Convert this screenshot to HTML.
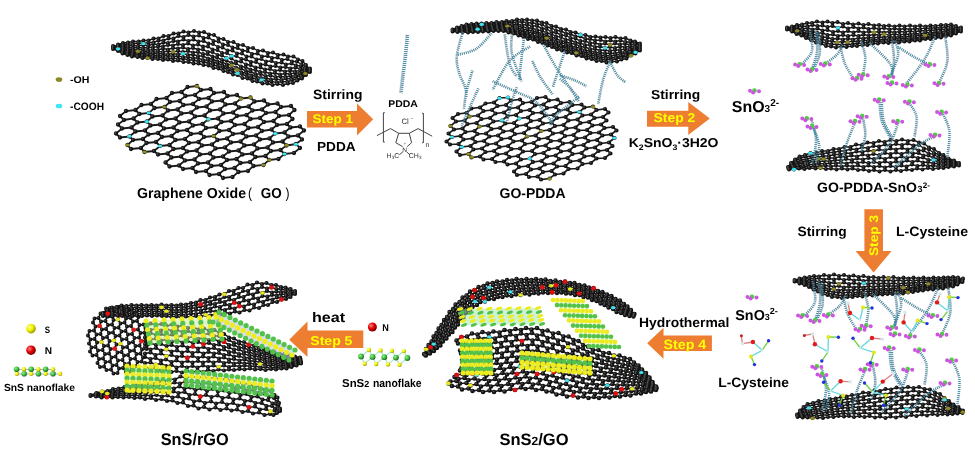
<!DOCTYPE html>
<html><head><meta charset="utf-8"><style>
html,body{margin:0;padding:0;background:#fff;width:975px;height:459px;overflow:hidden}
svg{display:block;filter:blur(0.45px);text-rendering:geometricPrecision;font-family:"Liberation Sans",sans-serif}
</style></head><body>
<svg width="975" height="459" viewBox="0 0 975 459">
<rect width="975" height="459" fill="#fff"/>
<g transform="scale(.5)" fill="none" stroke-linecap="round"><path d="M244 257l-12 10l8 8l19-2l7 7l-11 10l7 8l20-2l7 8l19-2l8 7l19-2l8 8l-12 10l8 8l19-2l8 7l19-2l7 8l20-2l7 8l19-2l8 8l19-2l12-10l-8-8l-19 2l-12 10m-194-91l-8-8l12-9l-8-8l12-10l19-2l8 8l-12 9l-19 3m-4 17l19-2l8 8l-12 10m4-18l12-10l-8-8m-1 43l20-2l7 8l-11 10m-11-76l12-10l19-2l7 8l-11 10l-19 2m-8 35l19-2l7 8l-11 9m-11-33l19-2l7 8l-11 10m3 25l19-2l8 8l-12 10m-14-59l11-10l-7-7m-1 43l19-3l8 8l-12 10m-11-33l19-2l8 8l-12 9m-14-58l11-10l20-2l7 8l-11 10l-20 2m-4 17l20-2l7 8l-12 10m0 43l19-2l8 8l-12 9m-11-33l19-2l8 8l-12 10m-14-59l11-10l-7-7m-1 43l19-2l8 7l-12 10m-11-33l19-2l8 8l-12 10m-14-59l11-10l19-2l8 8l-12 10l-19 2m-4 17l19-2l8 8l-12 10m-8 78l19-2l8 8l-12 10m-11-33l19-2l8 7l-12 10m-11-33l19-2l8 8l-12 10m-11-77l12-9l-8-8m-4 60l19-2l8 8l-12 10m-11-33l19-2l8 8l-12 9m-11-76l12-10l19-2l8 8l-12 10l-19 2m-8 35l19-2l8 8l-12 10m-11-33l19-2l8 7l-12 10m-12 96l19-2l7 8l-11 9m-11-33l19-2l7 8l-11 10m-11-33l19-2l7 7l-11 10m-11-33l19-2l7 8l-11 10m-11-76l12-10l-8-8m-4 61l19-3l7 8l-11 10m-11-33l19-2l7 8l-11 9m-11-33l19-2l7 8l-11 10m-13 96l20-2l7 7l-11 10m-14-144l19-2l7 7l-11 10m-13 96l20-2l7 8l-11 10m-14-145l19-2l7 8l-11 10m-13 95l20-2l7 8l-11 10m-12-33l20-2l7 8l-11 9m-12-33l20-2l7 8l-11 10m-12-33l20-2l7 7l-11 10m-12-33l20-2l7 8l-11 10m-13 95l19-2l8 8m-26-135l20-2l7 8l-11 10m-13 96l19-2l8 7l-12 10m-14-144l20-2l7 8l-11 9m-13 96l19-2l8 8l-12 10m-11-33l19-3l8 8l-12 10m-11-33l19-2l8 8l-12 9m-11-33l19-2l8 8l-12 10m-11-33l19-2l8 7l-12 10m-11-33l19-2l8 8l-12 10m-12 95l19-2l8 8l-12 10m-14-144l19-2l8 7l-12 10m-12 96l19-2l8 8l-12 9m-11-33l19-2l8 8l-12 10m-11-33l19-2l8 7l-12 10m-11-33l19-2l8 8l-12 10m-11-34l19-2l8 8l-12 10m-12 96l19-2l11-10l-7-8l-19 2m-3-111l19-2l8 8l-12 9m-11-33l19-2l8 8l-12 10m-12 96l19-2l7 7l-11 10m-11-33l19-2l7 8l-11 10m-11-34l19-2l8 8l-12 10m-11-33l19-2l8 8l-12 9m-11-33l19-2l8 8l-12 10m-11-33l19-2l8 7l-12 10m-13 96l20-2l11-10l-7-8l-20 2m-2-111l19-2l8 8l-12 10m-9 78l20-2l7 7l-11 10m-11-33l19-2l7 8l-11 10m-11-33l19-3l7 8l-11 10m-11-33l19-2l7 8l-11 9m-11-33l19-2l7 8l-11 10m-11-33l19-2l7 7l-11 10m-13 96l19-2l12-10l-8-8l-19 2m4-17l19-2l8 8l-12 9m-11-33l19-2l8 8l-12 10m-11-33l20-2l7 7l-12 10m-11-33l20-2l7 8l-11 10m-12-34l20-2l7 8l-11 10m-9 78l19-2l12-10l-8-8l-19 3m4-18l19-2l8 8l-12 9m-11-33l19-2l8 8l-12 10" stroke="#1a1a1a" stroke-width="3.6" stroke-linecap="butt"/><path d="M394 172h0m-19 2h0m46 4h0m-58 6h0m39-4h0m46 4h0m-104 2h0m46 4h0m38-4h0m46 4h0m-141 6h0m38-4h0m46 4h0m38-4h0m27 5h0m19-2h0m-188 3h0m46 4h0m39-4h0m26 5h0m20-2h0m65 2h0m19-2h0m-226 7h0m38-4h0m46 4h0m65 1h0m19-2h0m66 2h0m19-2h0m-272 3h0m46 4h0m38-4h0m27 5h0m19-2h0m65 2h0m19-2h0m65 1h0m20-2h0m-311 8h0m38-4h0m27 5h0m19-2h0m65 2h0m20-2h0m65 2h0m19-2h0m65 1h0m-337 2h0m46 4h0m65 1h0m19-2h0m65 2h0m19-2h0m66 1h0m19-2h0m-311 8h0m39-4h0m26 5h0m20-2h0m65 2h0m19-2h0m65 1h0m19-2h0m65 2h0m20-2h0m-311 7h0m65 2h0m19-2h0m65 2h0m20-2h0m65 1h0m19-2h0m65 2h0m-337 2h0m27 5h0m19-2h0m65 2h0m19-2h0m65 1h0m19-2h0m66 2h0m19-2h0m-311 7h0m65 2h0m19-2h0m66 2h0m19-3h0m65 2h0m19-2h0m65 2h0m20-2h0m-330 9h0m19-2h0m65 2h0m19-2h0m65 1h0m20-2h0m65 2h0m19-2h0m65 1h0m19-2h0m-329 10h0m19-2h0m65 1h0m19-2h0m65 2h0m19-2h0m66 2h0m19-3h0m65 2h0m-376 6h0m65 2h0m19-3h0m66 2h0m19-2h0m65 2h0m19-2h0m65 1h0m19-2h0m-329 10h0m19-2h0m65 1h0m19-2h0m65 2h0m20-2h0m65 1h0m19-2h0m65 2h0m19-2h0m-330 9h0m20-2h0m65 2h0m19-2h0m65 2h0m19-3h0m66 2h0m19-2h0m65 2h0m-311 7h0m19-2h0m66 2h0m19-2h0m65 1h0m19-2h0m65 2h0m19-2h0m-310 7h0m65 2h0m19-2h0m65 1h0m20-2h0m65 2h0m19-2h0m65 2h0m19-3h0m-330 10h0m20-2h0m65 2h0m19-2h0m65 1h0m19-2h0m65 2h0m20-2h0m65 1h0m-311 8h0m19-2h0m66 1h0m19-2h0m65 2h0m19-2h0m65 1h0m19-2h0m-245 9h0m19-2h0m65 2h0m20-2h0m65 2h0m19-2h0m65 1h0m19-2h0m-245 9h0m19-2h0m65 2h0m19-2h0m65 1h0m20-2h0m-161 9h0m19-2h0m65 1h0m19-2h0m65 2h0m19-2h0m-226 7h0m65 2h0m20-2h0m65 1h0m19-2h0m-161 9h0m19-2h0m65 1h0m19-2h0m65 2h0m20-2h0m-161 8h0m19-2h0m65 2h0m19-2h0m-77 8h0m20-2h0m65 2h0m19-2h0m-77 8h0m19-2h0m8 8h0m19-2h0" stroke="#111" stroke-width="8.6"/><path d="M393 171h0m-19 2h0m46 4h0m-58 6h0m39-4h0m46 4h0m-104 2h0m46 4h0m38-4h0m46 4h0m-141 6h0m38-4h0m46 4h0m38-4h0m27 5h0m19-2h0m-188 3h0m46 4h0m39-4h0m26 5h0m20-2h0m65 2h0m19-2h0m-226 7h0m38-4h0m46 4h0m65 1h0m19-2h0m66 2h0m19-2h0m-272 3h0m46 4h0m38-4h0m27 5h0m19-2h0m65 2h0m19-2h0m65 1h0m20-2h0m-311 8h0m38-4h0m27 5h0m19-2h0m65 2h0m20-2h0m65 2h0m19-2h0m65 1h0m-337 2h0m46 4h0m65 1h0m19-2h0m65 2h0m19-2h0m66 1h0m19-2h0m-311 8h0m39-4h0m26 5h0m20-2h0m65 2h0m19-2h0m65 1h0m19-2h0m65 2h0m20-2h0m-311 7h0m65 2h0m19-2h0m65 2h0m20-2h0m65 1h0m19-2h0m65 2h0m-337 2h0m27 5h0m19-2h0m65 2h0m19-2h0m65 1h0m19-2h0m66 2h0m19-2h0m-311 7h0m65 2h0m19-2h0m66 2h0m19-3h0m65 2h0m19-2h0m65 2h0m20-2h0m-330 9h0m19-2h0m65 2h0m19-2h0m65 1h0m20-2h0m65 2h0m19-2h0m65 1h0m19-2h0m-329 10h0m19-2h0m65 1h0m19-2h0m65 2h0m19-2h0m66 2h0m19-3h0m65 2h0m-376 6h0m65 2h0m19-3h0m66 2h0m19-2h0m65 2h0m19-2h0m65 1h0m19-2h0m-329 10h0m19-2h0m65 1h0m19-2h0m65 2h0m20-2h0m65 1h0m19-2h0m65 2h0m19-2h0m-330 9h0m20-2h0m65 2h0m19-2h0m65 2h0m19-3h0m66 2h0m19-2h0m65 2h0m-311 7h0m19-2h0m66 2h0m19-2h0m65 1h0m19-2h0m65 2h0m19-2h0m-310 7h0m65 2h0m19-2h0m65 1h0m20-2h0m65 2h0m19-2h0m65 2h0m19-3h0m-330 10h0m20-2h0m65 2h0m19-2h0m65 1h0m19-2h0m65 2h0m20-2h0m65 1h0m-311 8h0m19-2h0m66 1h0m19-2h0m65 2h0m19-2h0m65 1h0m19-2h0m-245 9h0m19-2h0m65 2h0m20-2h0m65 2h0m19-2h0m65 1h0m19-2h0m-245 9h0m19-2h0m65 2h0m19-2h0m65 1h0m20-2h0m-161 9h0m19-2h0m65 1h0m19-2h0m65 2h0m19-2h0m-226 7h0m65 2h0m20-2h0m65 1h0m19-2h0m-161 9h0m19-2h0m65 1h0m19-2h0m65 2h0m20-2h0m-161 8h0m19-2h0m65 2h0m19-2h0m-77 8h0m20-2h0m65 2h0m19-2h0m-77 8h0m19-2h0m8 8h0m19-2h0" stroke="#4a4a4a" stroke-width="3.6"/></g>
<ellipse cx="164.3" cy="106.9" rx="2.2" ry="1.5" fill="#8f8a25"/><ellipse cx="250.6" cy="97.6" rx="2.2" ry="1.5" fill="#8f8a25"/><ellipse cx="286.5" cy="145.3" rx="2.2" ry="1.5" fill="#8f8a25"/><ellipse cx="263.3" cy="164.9" rx="2.2" ry="1.5" fill="#8f8a25"/><ellipse cx="127.4" cy="145.1" rx="2.2" ry="1.5" fill="#8f8a25"/><ellipse cx="197.1" cy="86.2" rx="2.2" ry="1.5" fill="#8f8a25"/><ellipse cx="144.6" cy="151.9" rx="2.2" ry="1.5" fill="#8f8a25"/><ellipse cx="241" cy="98.7" rx="2.2" ry="1.5" fill="#8f8a25"/><ellipse cx="269.1" cy="160" rx="2.2" ry="1.5" fill="#8f8a25"/><ellipse cx="213.8" cy="135.9" rx="2.2" ry="1.5" fill="#8f8a25"/>
<ellipse cx="129.4" cy="136.3" rx="2.2" ry="1.5" fill="#3fe3f0"/><ellipse cx="146.9" cy="121.6" rx="2.2" ry="1.5" fill="#3fe3f0"/><ellipse cx="148.9" cy="112.8" rx="2.2" ry="1.5" fill="#3fe3f0"/><ellipse cx="208.2" cy="119.3" rx="2.2" ry="1.5" fill="#3fe3f0"/><ellipse cx="296.1" cy="144.2" rx="2.2" ry="1.5" fill="#3fe3f0"/><ellipse cx="160" cy="145.9" rx="2.2" ry="1.5" fill="#3fe3f0"/><ellipse cx="275.2" cy="133.6" rx="2.2" ry="1.5" fill="#3fe3f0"/><ellipse cx="284.5" cy="154.1" rx="2.2" ry="1.5" fill="#3fe3f0"/>
<g transform="scale(.5)" fill="none" stroke-linecap="round"><path d="M236 91l-10 1l0 1l10 0l0 1l-10 0l0 1l10 2l0 1l-10-2l0 1l10 2l0 1l-10-3l0 1l10 4l0 0l9 5l10 3l0-2l-10-3l-9-3m0-11l0-2l10-3l10-1l0 3l-10 2l-10 1m0 2l10-1l0-2m-10 4l10 1l0 2l-10 0m0 1l10 2l0 1l-10-2m0 1l9 4l0 1m0-1l10 1l1-1l-10-3m0-9l10 0l0 3l-10 0m0 2l10 2l0 2l-10-1m9 5l10 3l0 2l-10-2m0 2l9 3l11 1l0-2l-10-2m-9-25l10-2l11 0l0 3l-11 2l-10 0m0 4l10-1l0-3m-10 7l10 1l0 3l-10 0m0 2l10 2l0 2l-10-1m9 4l10 0l0-1l-9-2m0-14l10 1l0 3l-10 1m0 3l10 1l0 3l-10 0m9 4l11-1l0-2l-10-1m-1 5l10 2l0 2l-10 0m0 2l10 2l10 0l0-2l-10-2m-9-20l11-2l0-3l-10-1m-1 9l10 1l0 3l-10 1m1-17l10-2l10 0l0 4l-10 2m-2 23l10 0l1-2l-10-2m0-10l10-1l1-4l-10-1m-1 9l10 2l0 2l-10 1m9 6l11 2l-1 2l-10 0m0 2l10 2l11 0l0-3l-11-1m-9-19l10 0l0 4l-10 2m0 2l10 2l0 2l-10 1m1-27l10-4l10 0l0 4l-10 4l-10 0m0 6l10-3l0-3m-1 10l10-2l1-4l-10-1m-1 11l10 1l0 3l-10 2m0 2l10 1l0 3l-10 1m10-19l10 0l0 4l-10 3m0 3l10 1l0 3l-10 1m0 3l10 1l0 3l-10 0m0 3l10 2l10-1l0-2l-10-2m-9-38l10-5l10 0l0 5l-10 4l-10 0m0 8l10-4l0-4m-1 12l10-3l0-4l-9-1m-1 12l10 2l0 3l-10 2m0 3l10 2l0 2l-10 1m10-26l11-4l0-5l-10 0m-1 13l10 1l0 5l-10 3m0 3l10 2l0 3l-10 2m0 2l10 2l0 3l-10 1m0 2l10 3l10-1l0-3l-10-2m-9-44l10-5l10 0l0 5l-10 5m-1 14l10-3l0-5l-9-1m-1 14l10 1l0 5l-10 2m0 3l10 2l0 3l-10 1m10-30l11-4l0-5l-10-2m-1 16l10 2l0 5l-10 2m0 5l10 2l0 3l-10 2m0 3l10 2l0 3l-10 1m0 3l11 3l10 0l0-4l-11-3m-9-50l10-4l10 2l0 5l-10 4m-1 16l10-3l1-5l-10-3m-1 16l10 3l0 4l-10 2m0 3l10 3l0 4l-10 0m10-27l10 4l0 5l-10 2m0 4l10 3l0 4l-10 1m0 4l10 2l1 4l-10 0m0-55l11-3l10 3l0 6l-11 2l-10-3m0 12l10-3l0-6m-10 51l10 3l10 0l0-4l-10-3m-1-29l10-2l1-6l-10-4m-1 17l10 3l0 5l-10 1m0 4l10 3l0 4l-10 0m10-27l10 4l0 6l-10 0m0 5l10 4l0 4l-10 0m0 4l10 4l1 3l-10 0m0-40l10-1l0-6l-9-5m-1 56l10 3l10 1l0-4l-10-4m-9-58l10-1l10 5l-1 6l-10 1m-1 17l10 0l1-6l-10-5m-1 17l10 5l-1 4l-9 0m0 4l10 5l0 3l-10 0m9-12l10 5l0 5l-9-1m0-24l9 6l0 5l-9 0m0 16l10 5l0 4l-9-2m0-52l10 7l-1 6l-9-1m0 44l10 5l10 1l-1-4l-10-4m-8-60l10 1l9 7l0 6l-10-1m-2 17l10 1l1-6l-10-6m-1 16l10 6l-1 5l-9-2m0 5l10 5l0 3l-9-1m8-10l10 5l0 4l-9-1m0-23l9 6l0 5l-9-1m0 16l10 5l1 4l-10-2m0-39l9 1l1-6l-9-6m0-6l10 1l9 6l0 6l-10-1m-9 48l10 5l9 2l0-4l-10-5m-2-29l10 0l1-5l-10-6m-1 16l9 5l0 5l-9-1m0 4l10 5l0 4l-9-2m8-15l10 1l0-5l-9-6m-1 15l10 5l0 4l-9-1m0 4l10 5l1 4l-9-2m-1-39l10 0l0-6l-9-5m0-6l11 0l9 6l-1 6l-10-1m-9 49l10 5l9 1l0-3l-10-5m-2-30l10 0l1-5l-9-6m-2 16l9 6l0 4l-9-1m0 4l10 6l1 3l-10-1m8-15l10 0l1-5l-10-6m-1 15l10 6l0 4l-9-1m1-29l10 0l1-6l-10-5m-1 43l9 6l1 3l-9-1m0 3l10 6l10 1l-1-4l-10-5m-8-58l10 0l10 6l-1 6l-10-1m-3 22l10 6l-1 5l-9-1m0 4l10 5l1 4l-10-1m0-27l9 1l1-6l-9-6m7 27l10 5l0 4l-9-1m0-23l10 5l-1 6l-9-1m1-16l10 0l1-5l-9-6m-2 44l10 5l0 4l-9-2m1 4l10 5l9 1l0-4l-11-4m-7-59l10 0l10 6l-1 5l-11 1m-3 22l10 5l0 5l-10-1m0 4l10 5l1 4l-9-1m-1-27l10 0l1-5l-10-6m8 22l10 0l0-6l-9-5m-1 16l9 4l1 4l-10 0m1 4l10 4l1 4l-9-1m-1-40l10-1l1-5l-9-6m-1 56l11 4l10 0l-1-4l-11-3m-7-58l10-1l10 5l-1 6l-11 1m-4 31l10 0l0-5l-9-4m0-6l10 0l1-6l-9-5m-2 30l10 4l1 4l-10 0m8-17l10-1l1-5l-10-4m-1 15l10 3l1 4l-10 1m1-29l11-1l1-6l-9-4m-3 44l10 3l1 4l-9 0m1 4l10 3l10-2l-1-3l-11-2m-7-57l10-1l10 5l-1 5l-11 1m-4 22l10 4l0 4l-10 1m1-14l10-1l1-6l-9-4m-2 29l10 3l1 4l-10 1m8-17l10-2l1-5l-10-3m-1 14l10 3l1 4l-10 1m1-28l11-1l1-5l-9-5m-3 43l11 2l1 3l-10 2m1 3l11 2l10-3l-1-3l-11-1m-8-53l11-1l9 4l-1 5l-11 2m-4 20l10 3l0 4l-10 2m1-14l10-1l1-5l-9-4m-2 28l10 1l1 3l-9 3m7-17l10-2l1-4l-10-3m-1 13l10 1l1 4l-10 2m1-25l11-2l1-4l-9-5m-3 39l11 1l1 2l-9 4m1-51l11 0l9 6l-2 4l-10 0m-8 44l10-1l9-5l-1-2l-10 1m-4-19l10 2l0 3l-10 2m1-11l10-2l1-4l-9-4m-2 25l10 0l1 2l-9 4m7-15l10-2l1-3l-10-3m-1 11l10 0l0 2l-9 4m1-21l10 1l1-3l-9-6m-2 31l10-2l1 2l-9 5m1 2l9-4l8-7l0-1l-9 5m-7-35l9 3l7 8l0 2l-9-3m-3 12l10 0l0 2l-10 3m0 2l10-2l1 1l-9 5m-1-14l9 0l1-2l-9-4m8 6l10 1l0 1l-10 1m0 2l10-1l0 0l-10 4m1-10l9 2l0-1l-8-5m-1 15l9-4l0 1l-8 5" stroke="#1a1a1a" stroke-width="2.8" stroke-linecap="butt"/><path d="M367 63h0m10 2h0m11-3h0m10 3h0m10-1h0m-61 3h0m10 0h0m20 3h0m21 1h0m20-2h0m10 1h0m-121 7h0m10 0h0m10-5h0m10 0h0m0 5h0m10 0h0m10-5h0m10 2h0m20-1h0m20 3h0m10-1h0m20 2h0m-171 6h0m11 0h0m10-2h0m10 0h0m20 0h0m10 0h0m20 1h0m9 1h0m11-4h0m10 3h0m10-3h0m10 4h0m10-1h0m20 0h0m10 1h0m10-5h0m-211 11h0m10-3h0m10-1h0m0 3h0m10 0h0m11-2h0m10 1h0m10-2h0m10 0h0m0 3h0m10 1h0m10-4h0m9 1h0m20 2h0m20-1h0m20 2h0m21-2h0m9 1h0m20 1h0m10-5h0m11 0h0m-241 8h0m0 1h0m0 1h0m0 1h0m10-4h0m0 2h0m0 1h0m10-4h0m0 2h0m0 3h0m10-3h0m0 3h0m10-4h0m10 1h0m0 3h0m11-5h0m9 5h0m1-4h0m9 4h0m10-2h0m10 0h0m10-3h0m10 1h0m20-1h0m0 5h0m20-4h0m20 2h0m10 0h0m20 1h0m9 1h0m11-5h0m9 5h0m11-5h0m10 0h0m-260 6h0m0 1h0m0 0h0m0 1h0m10-1h0m0 1h0m0 1h0m0 1h0m10-3h0m0 3h0m0 1h0m10-2h0m0 2h0m10-5h0m0 3h0m10 1h0m10-4h0m0 3h0m10 2h0m10-2h0m10 1h0m10-3h0m10 2h0m10-3h0m10 1h0m20 1h0m10-2h0m10 3h0m10 0h0m19 0h0m10 1h0m20 1h0m10 0h0m10-5h0m10 5h0m11-5h0m10 0h0m20 5h0m-290 1h0m0 0h0m9 2h0m0 1h0m0 2h0m10-2h0m1-1h0m10-1h0m0 2h0m9 2h0m1-4h0m10 1h0m0 2h0m10-3h0m10 2h0m0 2h0m10-4h0m10 1h0m0 3h0m10-5h0m10 2h0m0 3h0m10-5h0m10 2h0m0 3h0m10-5h0m10 3h0m10-1h0m20 0h0m9 0h0m19 2h0m10 0h0m20 1h0m10 0h0m11-5h0m20 5h0m1-5h0m20 4h0m10-1h0m-291 3h0m0 2h0m9 3h0m1-5h0m0 2h0m10-2h0m0 4h0m10-2h0m0 2h0m10-2h0m1-2h0m10 4h0m10-4h0m0 3h0m10 1h0m10-3h0m0 2h0m10 2h0m10-4h0m0 3h0m20-2h0m10-1h0m10 3h0m10-4h0m0 4h0m9-4h0m10 5h0m10-3h0m9 1h0m19 1h0m10 0h0m20 1h0m10 0h0m1-5h0m20 5h0m11-1h0m21-2h0m11-1h0m9 4h0m11 0h0m-312 1h0m10 2h0m10-2h0m0 2h0m10-2h0m0 4h0m11-3h0m0 3h0m10-3h0m10 2h0m0 2h0m10-3h0m10 2h0m10-4h0m0 3h0m10-3h0m10 2h0m10 0h0m20 1h0m9 1h0m9-3h0m19 1h0m10 1h0m20 1h0m9 1h0m21 0h0m10-1h0m21-2h0m11-1h0m20 3h0m21 1h0m-270 1h0m20 2h0m10-1h0m11 3h0m10-4h0m0 4h0m10-4h0m10 3h0m9-3h0m1 3h0m9-3h0m10 5h0m9-2h0m9-3h0m0 4h0m9-3h0m19 2h0m10 0h0m20 1h0m10 0h0m20-1h0m11-1h0m20 3h0m1-5h0m20 3h0m10 0h0m11-1h0m-218 5h0m10 0h0m10 3h0m10-3h0m0 4h0m9-2h0m9-3h0m10 5h0m9-2h0m9-3h0m0 4h0m9-3h0m20 2h0m9 1h0m20-1h0m10 0h0m21-3h0m20 3h0m11-2h0m9 4h0m11-2h0m9 1h0m-185 6h0m9-3h0m1 4h0m9-2h0m8-2h0m19 3h0m9-3h0m0 4h0m9-3h0m20 1h0m10 0h0m20-2h0m10-1h0m10 3h0m10-1h0m10 3h0m10-2h0m11-3h0m9 4h0m1-4h0m8 5h0m-173 5h0m9-2h0m8-2h0m1 4h0m9-3h0m18 3h0m9-3h0m0 4h0m10-3h0m19-1h0m10-1h0m10 4h0m10-2h0m10 3h0m10-2h0m10 2h0m10-2h0m1-3h0m9 0h0m0 3h0m0 2h0m10-5h0m0 1h0m0 1h0m0 2h0m0 0h0m0 1h0m-164 1h0m10 5h0m9-2h0m8-2h0m1 3h0m9-2h0m18 2h0m9-4h0m1 4h0m9-4h0m10 3h0m10-1h0m10 3h0m10-2h0m10 1h0m10-2h0m10 0h0m0 2h0m10-2h0m1 1h0m1 2h0m8-5h0m-145 6h0m19 3h0m9-2h0m0 4h0m9-3h0m19 0h0m10-1h0m10 3h0m10-1h0m10 1h0m10-2h0m10 0h0m1 2h0m10-2h0m1 2h0m9-4h0m-127 6h0m10 1h0m19 2h0m8-3h0m1 4h0m9-4h0m10 3h0m10-1h0m11 2h0m9-3h0m11 1h0m1 2h0m10-1h0m1 2h0m9-4h0m-99 5h0m9 1h0m11 4h0m9-4h0m1 4h0m8-4h0m11 2h0m10-2h0m11 1h0m1 3h0m10-1h0m-41 4h0m10-2h0m11 2h0" stroke="#111" stroke-width="8"/><path d="M366 62h0m10 2h0m11-3h0m10 3h0m10-1h0m-61 3h0m10 0h0m20 3h0m21 1h0m20-2h0m10 1h0m-121 7h0m10 0h0m10-5h0m10 0h0m0 5h0m10 0h0m10-5h0m10 2h0m20-1h0m20 3h0m10-1h0m20 2h0m-171 6h0m11 0h0m10-2h0m10 0h0m20 0h0m10 0h0m20 1h0m9 1h0m11-4h0m10 3h0m10-3h0m10 4h0m10-1h0m20 0h0m10 1h0m10-5h0m-211 11h0m10-3h0m10-1h0m0 3h0m10 0h0m11-2h0m10 1h0m10-2h0m10 0h0m0 3h0m10 1h0m10-4h0m9 1h0m20 2h0m20-1h0m20 2h0m21-2h0m9 1h0m20 1h0m10-5h0m11 0h0m-241 8h0m0 1h0m0 1h0m0 1h0m10-4h0m0 2h0m0 1h0m10-4h0m0 2h0m0 3h0m10-3h0m0 3h0m10-4h0m10 1h0m0 3h0m11-5h0m9 5h0m1-4h0m9 4h0m10-2h0m10 0h0m10-3h0m10 1h0m20-1h0m0 5h0m20-4h0m20 2h0m10 0h0m20 1h0m9 1h0m11-5h0m9 5h0m11-5h0m10 0h0m-260 6h0m0 1h0m0 0h0m0 1h0m10-1h0m0 1h0m0 1h0m0 1h0m10-3h0m0 3h0m0 1h0m10-2h0m0 2h0m10-5h0m0 3h0m10 1h0m10-4h0m0 3h0m10 2h0m10-2h0m10 1h0m10-3h0m10 2h0m10-3h0m10 1h0m20 1h0m10-2h0m10 3h0m10 0h0m19 0h0m10 1h0m20 1h0m10 0h0m10-5h0m10 5h0m11-5h0m10 0h0m20 5h0m-290 1h0m0 0h0m9 2h0m0 1h0m0 2h0m10-2h0m1-1h0m10-1h0m0 2h0m9 2h0m1-4h0m10 1h0m0 2h0m10-3h0m10 2h0m0 2h0m10-4h0m10 1h0m0 3h0m10-5h0m10 2h0m0 3h0m10-5h0m10 2h0m0 3h0m10-5h0m10 3h0m10-1h0m20 0h0m9 0h0m19 2h0m10 0h0m20 1h0m10 0h0m11-5h0m20 5h0m1-5h0m20 4h0m10-1h0m-291 3h0m0 2h0m9 3h0m1-5h0m0 2h0m10-2h0m0 4h0m10-2h0m0 2h0m10-2h0m1-2h0m10 4h0m10-4h0m0 3h0m10 1h0m10-3h0m0 2h0m10 2h0m10-4h0m0 3h0m20-2h0m10-1h0m10 3h0m10-4h0m0 4h0m9-4h0m10 5h0m10-3h0m9 1h0m19 1h0m10 0h0m20 1h0m10 0h0m1-5h0m20 5h0m11-1h0m21-2h0m11-1h0m9 4h0m11 0h0m-312 1h0m10 2h0m10-2h0m0 2h0m10-2h0m0 4h0m11-3h0m0 3h0m10-3h0m10 2h0m0 2h0m10-3h0m10 2h0m10-4h0m0 3h0m10-3h0m10 2h0m10 0h0m20 1h0m9 1h0m9-3h0m19 1h0m10 1h0m20 1h0m9 1h0m21 0h0m10-1h0m21-2h0m11-1h0m20 3h0m21 1h0m-270 1h0m20 2h0m10-1h0m11 3h0m10-4h0m0 4h0m10-4h0m10 3h0m9-3h0m1 3h0m9-3h0m10 5h0m9-2h0m9-3h0m0 4h0m9-3h0m19 2h0m10 0h0m20 1h0m10 0h0m20-1h0m11-1h0m20 3h0m1-5h0m20 3h0m10 0h0m11-1h0m-218 5h0m10 0h0m10 3h0m10-3h0m0 4h0m9-2h0m9-3h0m10 5h0m9-2h0m9-3h0m0 4h0m9-3h0m20 2h0m9 1h0m20-1h0m10 0h0m21-3h0m20 3h0m11-2h0m9 4h0m11-2h0m9 1h0m-185 6h0m9-3h0m1 4h0m9-2h0m8-2h0m19 3h0m9-3h0m0 4h0m9-3h0m20 1h0m10 0h0m20-2h0m10-1h0m10 3h0m10-1h0m10 3h0m10-2h0m11-3h0m9 4h0m1-4h0m8 5h0m-173 5h0m9-2h0m8-2h0m1 4h0m9-3h0m18 3h0m9-3h0m0 4h0m10-3h0m19-1h0m10-1h0m10 4h0m10-2h0m10 3h0m10-2h0m10 2h0m10-2h0m1-3h0m9 0h0m0 3h0m0 2h0m10-5h0m0 1h0m0 1h0m0 2h0m0 0h0m0 1h0m-164 1h0m10 5h0m9-2h0m8-2h0m1 3h0m9-2h0m18 2h0m9-4h0m1 4h0m9-4h0m10 3h0m10-1h0m10 3h0m10-2h0m10 1h0m10-2h0m10 0h0m0 2h0m10-2h0m1 1h0m1 2h0m8-5h0m-145 6h0m19 3h0m9-2h0m0 4h0m9-3h0m19 0h0m10-1h0m10 3h0m10-1h0m10 1h0m10-2h0m10 0h0m1 2h0m10-2h0m1 2h0m9-4h0m-127 6h0m10 1h0m19 2h0m8-3h0m1 4h0m9-4h0m10 3h0m10-1h0m11 2h0m9-3h0m11 1h0m1 2h0m10-1h0m1 2h0m9-4h0m-99 5h0m9 1h0m11 4h0m9-4h0m1 4h0m8-4h0m11 2h0m10-2h0m11 1h0m1 3h0m10-1h0m-41 4h0m10-2h0m11 2h0" stroke="#4a4a4a" stroke-width="3.4"/></g>
<ellipse cx="173" cy="51.9" rx="2.3" ry="1.6" fill="#8f8a25"/><ellipse cx="305.4" cy="73.5" rx="2.3" ry="1.6" fill="#8f8a25"/><ellipse cx="147.6" cy="58" rx="2.3" ry="1.6" fill="#8f8a25"/><ellipse cx="137.9" cy="51.3" rx="2.3" ry="1.6" fill="#8f8a25"/><ellipse cx="231.6" cy="65.2" rx="2.3" ry="1.6" fill="#8f8a25"/><ellipse cx="236.8" cy="69.7" rx="2.3" ry="1.6" fill="#8f8a25"/>
<ellipse cx="118.1" cy="48.8" rx="2.3" ry="1.6" fill="#3fe3f0"/><ellipse cx="231.7" cy="56" rx="2.3" ry="1.6" fill="#3fe3f0"/><ellipse cx="261.6" cy="79.8" rx="2.3" ry="1.6" fill="#3fe3f0"/><ellipse cx="183" cy="53.7" rx="2.3" ry="1.6" fill="#3fe3f0"/><ellipse cx="237.4" cy="73.4" rx="2.3" ry="1.6" fill="#3fe3f0"/><ellipse cx="226.7" cy="58.2" rx="2.3" ry="1.6" fill="#3fe3f0"/><ellipse cx="143.4" cy="43.6" rx="2.3" ry="1.6" fill="#3fe3f0"/>
<g transform="scale(.5)" fill="none" stroke-linecap="round"><path d="M914 57l-9 3l0 1l10-2l0 1l-10 1l0 1l10-1l0 1l-10 0l0 1l10 0l0 0l-10 0l0 0l10 1l10 0l0 0l-10-1m-1-6l0 0l-9 3l0-1l9-4l9-3l1 1l-10 4m0 0l10-2l0 2l-9 2m0 1l10-1l0 1l-10 1m0 1l10-1l0 1l-10 1m8-11l10-3l10-1l0 1l-10 2l-9 2m0 2l10-2l-1-2m-9 6l10-1l1 1l-10 2m0 1l10-1l0 1l-10 1m0 1l10 0l0 1l-10 1m0 0l11 1l10-1l0-1l-11 0m-1-10l10 0l0 1l-10 2m1 1l10 0l0 1l-10 1m0 1l10 0l0 1l-10 1m8-14l10-1l10 0l0 2l-10 1l-10-1m1 4l10-2l-1-1m-9 4l10 0l1 2l-10 1m0 1l10 0l0 1l-10 1m0 1l11 0l0 1l-10 1m0 1l10 0l10-1l0-1l-10 0m-2-11l10 1l0 1l-10 1m1 2l10 0l0 1l-10 1m0 1l11 0l0 1l-10 1m7-14l10-1l10 0l1 1l-10 2l-11 0m1 3l10-1l0-2m-10 4l10 1l1 1l-10 1m0 1l10 0l0 2l-9 0m0 1l10 0l0 1l-10 1m0 1l11 0l10-1l0-1l-11 0m-2-10l10 0l0 1l-10 2m1 1l10 0l0 1l-10 1m0 2l11-1l0 1l-10 1m7-14l10-2l11 0l0 2l-10 1l-10 0m0 4l10-2l0-2m-10 5l11 0l0 2l-10 1m0 1l10 0l1 1l-10 1m0 1l10 0l1 1l-10 1m0 1l10 0l10 0l0-1l-10-1m-3-11l10 0l0 2l-9 1m0 2l10 0l0 2l-10 0m1 1l10 1l0 1l-10 0m8-15l9-2l11 0l0 2l-10 2l-10 0m0 3l10-1l0-2m-10 5l11 1l0 2l-10 0m0 2l10 1l1 2l-10-1m0 1l10 2l1 1l-10-1m0 1l10 3l10 2l0-1l-10-4m-3-14l10 1l1 2l-10 1m0 2l10 2l0 2l-10-1m1 2l10 2l0 2l-10-2m8-19l10-3l10 1l0 3l-10 2l-10-1m0 5l10-1l0-3m-9 6l10 2l0 3l-10 0m0 2l10 3l1 2l-10-2m0 2l10 3l0 2l-9-2m0 1l10 4l10 3l-1-2l-10-4m-2-20l10 2l0 3l-9 0m0 3l10 3l0 2l-10 0m1 2l10 3l0 2l-10-2m8-26l10-1l10 2l0 4l-10 1l-10-3m0 7l10-1l0-3m-10 7l11 3l0 3l-10 0m0 2l10 4l0 2l-9-1m0 2l10 3l0 2l-10-1m1 2l9 4l10 1l0-2l-10-4m-2-24l10 3l0 4l-9 0m0 3l10 4l0 2l-10 0m0 2l10 4l1 2l-10-2m8-30l10 0l10 4l0 4l-10-1l-10-3m0 7l10 0l0-4m-10 8l10 4l0 3l-9 0m0 2l10 4l0 3l-10-1m1 2l9 4l1 2l-10-2m0 2l10 5l9 2l0-2l-9-5m-2-27l10 5l0 4l-10-1m0 3l10 5l0 3l-9-2m0 3l10 5l0 2l-10-2m9-32l9 1l10 6l0 4l-10-2l-9-5m0 8l9 1l0-4m-9 7l9 5l0 4l-9-2m0 3l10 5l0 3l-9-2m0 2l9 5l1 2l-10-2m0 2l10 5l9 3l0-2l-9-6m-2-28l10 6l0 4l-10-2m0 4l10 5l0 3l-9-2m0 3l9 5l1 3l-10-3m9-32l9 1l10 5l0 4l-10-1l-9-5m0 8l9 1l0-4m-9 7l9 5l0 4l-9-2m0 3l9 5l1 3l-10-2m1 3l9 4l1 3l-10-2m0 2l10 5l10 2l-1-3l-9-4m-2-29l10 5l0 4l-10-1m0 4l10 5l0 3l-10-2m1 3l9 5l1 2l-10-2m9-33l10 1l9 5l0 4l-9-1l-10-5m0 8l10 1l0-4m-10 7l9 5l0 4l-9-1m0 3l10 4l0 3l-10-1m1 2l10 4l0 3l-10-2m1 3l10 4l9 1l0-2l-10-4m-2-21l10 1l0-4l-9-5m-1 12l10 4l0 4l-9-2m0 3l10 4l0 3l-9-2m8-33l10 1l10 4l0 4l-10 0l-10-5m0 8l10 1l0-4m-10 7l10 5l0 3l-10-1m0 4l10 4l0 3l-9-2m0 3l10 4l1 3l-10-2m0 2l10 5l10 1l0-2l-10-4m-2-29l10 5l-1 4l-9-1m0 3l9 5l1 3l-10-1m0 3l10 4l1 3l-10-2m8-17l10 4l0 4l-10-1m1-24l10 1l10 4l-1 4l-9 0l-10-5m0 9l9 0l1-4m-10 18l9 5l1 3l-10-2m1 3l10 4l0 3l-9-2m0 2l10 5l10 1l-1-3l-10-3m-2-30l10 4l0 4l-10 0m0 4l10 4l0 3l-10 0m1 3l10 3l0 3l-9-1m8-31l10 3l0 5l-10 0m0 4l10 4l0 4l-10 0m0 3l10 4l1 3l-10-1m0-33l10-1l10 2l0 5l-11 1m-9 29l11 3l0 3l-10-1m1 3l10 4l10 0l-1-3l-10-3m-2-30l10 3l0 4l-10 1m0 4l10 3l0 4l-10 0m1 3l10 3l0 3l-9-1m8-24l10-2l1-4l-10-3m-1 13l10 3l0 4l-10 1m0 4l10 2l1 4l-10 0m0-36l10-1l10 2l0 5l-10 2m-10 31l11 2l0 3l-10 0m1 3l10 3l10-2l0-3l-11-1m-2-32l10 3l0 4l-10 2m0 4l10 2l0 4l-10 1m1 4l10 1l0 3l-9 1m8-26l10-3l1-4l-10-2m-1 13l10 2l0 4l-10 2m0 4l10 1l1 3l-10 2m0-36l10-2l10 3l0 4l-10 2m-10 32l11 0l0 2l-9 3m0 3l11 0l9-4l0-3l-11 1m-2-30l10 2l0 4l-10 3m0 4l10 0l0 4l-10 3m1 3l10-1l1 3l-10 3m8-26l10-2l1-3l-10-3m-1 12l10 1l0 4l-10 2m0 4l10 0l1 2l-10 3m0-32l10-1l10 5l0 3l-10 0m-9 28l10-2l0 2l-9 4m0 3l10-2l9-6l0-1l-10 2m-2-25l10 3l0 3l-10 1m0 4l10 0l0 2l-10 4m1 2l10-2l0 2l-9 4m8-20l10-1l0-2l-9-3m-1 9l10 1l0 2l-10 2m0 2l10-1l0 2l-9 3m0-23l9 2l10 4l0 1l-10-1m-9 19l10-3l0 2l-9 5m0 1l9-4l9-6l0-1l-9 5m-1-16l10 2l0 2l-10 1m0 2l10-1l0 1l-10 3m0 2l10-3l0 1l-9 4" stroke="#1a1a1a" stroke-width="2.8" stroke-linecap="butt"/><path d="M1034 39h0m10 1h0m10-1h0m10 2h0m10 0h0m-121 6h0m10 0h0m10-1h0m10 0h0m1 1h0m9-3h0m1 3h0m10-3h0m0 2h0m9-4h0m1 4h0m10-4h0m0 2h0m10 1h0m10-2h0m10 3h0m10-1h0m20 0h0m9 1h0m-170 6h0m1 1h0m9-4h0m0 2h0m1 2h0m9-5h0m0 1h0m1 4h0m9-3h0m1 1h0m9-2h0m1 3h0m0 1h0m10-4h0m0 2h0m10 0h0m0 1h0m10-3h0m1 3h0m9-3h0m0 2h0m10-3h0m1 4h0m9-3h0m1 2h0m9-3h0m1 5h0m9-3h0m0 3h0m10-4h0m10 3h0m10-4h0m0 4h0m10-3h0m19 3h0m9 1h0m-207 6h0m9-4h0m0 2h0m0 0h0m1 2h0m9-4h0m0 2h0m1 2h0m9-3h0m1 1h0m0 2h0m9-5h0m1 3h0m0 1h0m9-4h0m1 2h0m0 2h0m0 1h0m10-3h0m0 1h0m1 2h0m8-5h0m1 1h0m0 2h0m0 2h0m10-4h0m0 1h0m1 2h0m0 1h0m9-5h0m0 2h0m1 1h0m0 2h0m9-5h0m0 2h0m1 2h0m0 1h0m9-5h0m0 3h0m1 2h0m9-3h0m0 2h0m10-2h0m10 3h0m10-3h0m0 3h0m9-3h0m20 1h0m9-3h0m0 4h0m10-2h0m19 2h0m10 1h0m-227 1h0m0 0h0m0 1h0m0 0h0m0 1h0m0 0h0m0 1h0m0 0h0m0 0h0m10-3h0m0 1h0m0 1h0m0 1h0m0 0h0m0 1h0m10-4h0m0 1h0m0 1h0m0 2h0m0 0h0m10-4h0m0 2h0m0 1h0m1 2h0m9-5h0m0 1h0m1 2h0m0 1h0m10-3h0m0 1h0m0 2h0m10-4h0m0 2h0m0 1h0m10-3h0m0 1h0m1 2h0m10-2h0m0 1h0m10-2h0m0 2h0m10-1h0m0 1h0m9-1h0m1 1h0m0 3h0m9-4h0m0 2h0m9-2h0m1 2h0m9-2h0m10 4h0m10-2h0m0 2h0m9-5h0m0 3h0m10-2h0m19 3h0m9-3h0m0 4h0m10-3h0m19 2h0m10 1h0m-124 1h0m0 1h0m9-1h0m0 2h0m1 3h0m9-5h0m0 2h0m9-1h0m1 4h0m9 0h0m10-2h0m9-1h0m0 3h0m9-5h0m0 4h0m10-2h0m19 2h0m10-3h0m0 4h0m9-3h0m20 1h0m10 1h0m-125 2h0m1 2h0m9-1h0m10 0h0m0 4h0m9-5h0m0 5h0m10 0h0m9-1h0m9-1h0m9-2h0m0 4h0m10-3h0m19 2h0m10-3h0m0 4h0m10-4h0m20 1h0m10-1h0m10 2h0m10-1h0m10 2h0m10-2h0m10 3h0m10-1h0m-195 2h0m10 1h0m10 0h0m9 0h0m9 0h0m9-1h0m9 5h0m10-1h0m9-3h0m0 4h0m10-3h0m20 2h0m9 0h0m1-4h0m9 0h0m10 3h0m11-1h0m10 3h0m10-2h0m10 2h0m10-2h0m20 0h0m9 2h0m-194 1h0m9 0h0m0 2h0m9-2h0m1 2h0m8-2h0m1 3h0m9-1h0m9-1h0m10 4h0m9-2h0m10-2h0m0 3h0m9-2h0m20 0h0m10 0h0m10 3h0m10-2h0m20 0h0m10 2h0m10-2h0m1-3h0m10 0h0m9 3h0m0 2h0m10-2h0m0 1h0m-185 3h0m9 1h0m0 2h0m9-3h0m1 3h0m8-3h0m1 2h0m9-1h0m9-1h0m10 4h0m9-2h0m10-3h0m0 4h0m10-4h0m10 4h0m10-1h0m20-3h0m0 4h0m20-1h0m10 1h0m10-4h0m0 3h0m10 1h0m10-3h0m0 2h0m0 2h0m-166 4h0m9-1h0m1 3h0m9-4h0m0 3h0m9-4h0m0 3h0m9-1h0m10-2h0m9 5h0m10-3h0m0 3h0m10-3h0m10 3h0m10-5h0m0 4h0m20-4h0m0 4h0m10 0h0m10-2h0m10 0h0m0 2h0m10-4h0m0 3h0m0 2h0m10-5h0m0 2h0m0 1h0m0 1h0m0 1h0m-146 4h0m9-1h0m0 2h0m9-3h0m1 3h0m8-4h0m1 3h0m9-1h0m10 3h0m9-2h0m10 0h0m10 2h0m10-5h0m0 4h0m10 1h0m10-3h0m10 0h0m1 2h0m10-2h0m0 2h0m10-3h0m0 2h0m0 2h0m-118 4h0m10-1h0m0 2h0m9-3h0m0 3h0m9-2h0m10-2h0m1 5h0m9-2h0m10 0h0m10 1h0m10-2h0m10-1h0m1 3h0m10-2h0m0 2h0m10-2h0m0 1h0m-89 6h0m9-2h0m1 3h0m9-2h0m9-2h0m1 5h0m10-3h0m0 3h0m9-4h0m11 0h0m0 2h0m11-1h0m0 3h0m10-2h0m-60 5h0m10 0h0m10 3h0m10-5h0m0 3h0m11 0h0" stroke="#111" stroke-width="8"/><path d="M1033 38h0m10 1h0m10-1h0m10 2h0m10 0h0m-121 6h0m10 0h0m10-1h0m10 0h0m1 1h0m9-3h0m1 3h0m10-3h0m0 2h0m9-4h0m1 4h0m10-4h0m0 2h0m10 1h0m10-2h0m10 3h0m10-1h0m20 0h0m9 1h0m-170 6h0m1 1h0m9-4h0m0 2h0m1 2h0m9-5h0m0 1h0m1 4h0m9-3h0m1 1h0m9-2h0m1 3h0m0 1h0m10-4h0m0 2h0m10 0h0m0 1h0m10-3h0m1 3h0m9-3h0m0 2h0m10-3h0m1 4h0m9-3h0m1 2h0m9-3h0m1 5h0m9-3h0m0 3h0m10-4h0m10 3h0m10-4h0m0 4h0m10-3h0m19 3h0m9 1h0m-207 6h0m9-4h0m0 2h0m0 0h0m1 2h0m9-4h0m0 2h0m1 2h0m9-3h0m1 1h0m0 2h0m9-5h0m1 3h0m0 1h0m9-4h0m1 2h0m0 2h0m0 1h0m10-3h0m0 1h0m1 2h0m8-5h0m1 1h0m0 2h0m0 2h0m10-4h0m0 1h0m1 2h0m0 1h0m9-5h0m0 2h0m1 1h0m0 2h0m9-5h0m0 2h0m1 2h0m0 1h0m9-5h0m0 3h0m1 2h0m9-3h0m0 2h0m10-2h0m10 3h0m10-3h0m0 3h0m9-3h0m20 1h0m9-3h0m0 4h0m10-2h0m19 2h0m10 1h0m-227 1h0m0 0h0m0 1h0m0 0h0m0 1h0m0 0h0m0 1h0m0 0h0m0 0h0m10-3h0m0 1h0m0 1h0m0 1h0m0 0h0m0 1h0m10-4h0m0 1h0m0 1h0m0 2h0m0 0h0m10-4h0m0 2h0m0 1h0m1 2h0m9-5h0m0 1h0m1 2h0m0 1h0m10-3h0m0 1h0m0 2h0m10-4h0m0 2h0m0 1h0m10-3h0m0 1h0m1 2h0m10-2h0m0 1h0m10-2h0m0 2h0m10-1h0m0 1h0m9-1h0m1 1h0m0 3h0m9-4h0m0 2h0m9-2h0m1 2h0m9-2h0m10 4h0m10-2h0m0 2h0m9-5h0m0 3h0m10-2h0m19 3h0m9-3h0m0 4h0m10-3h0m19 2h0m10 1h0m-124 1h0m0 1h0m9-1h0m0 2h0m1 3h0m9-5h0m0 2h0m9-1h0m1 4h0m9 0h0m10-2h0m9-1h0m0 3h0m9-5h0m0 4h0m10-2h0m19 2h0m10-3h0m0 4h0m9-3h0m20 1h0m10 1h0m-125 2h0m1 2h0m9-1h0m10 0h0m0 4h0m9-5h0m0 5h0m10 0h0m9-1h0m9-1h0m9-2h0m0 4h0m10-3h0m19 2h0m10-3h0m0 4h0m10-4h0m20 1h0m10-1h0m10 2h0m10-1h0m10 2h0m10-2h0m10 3h0m10-1h0m-195 2h0m10 1h0m10 0h0m9 0h0m9 0h0m9-1h0m9 5h0m10-1h0m9-3h0m0 4h0m10-3h0m20 2h0m9 0h0m1-4h0m9 0h0m10 3h0m11-1h0m10 3h0m10-2h0m10 2h0m10-2h0m20 0h0m9 2h0m-194 1h0m9 0h0m0 2h0m9-2h0m1 2h0m8-2h0m1 3h0m9-1h0m9-1h0m10 4h0m9-2h0m10-2h0m0 3h0m9-2h0m20 0h0m10 0h0m10 3h0m10-2h0m20 0h0m10 2h0m10-2h0m1-3h0m10 0h0m9 3h0m0 2h0m10-2h0m0 1h0m-185 3h0m9 1h0m0 2h0m9-3h0m1 3h0m8-3h0m1 2h0m9-1h0m9-1h0m10 4h0m9-2h0m10-3h0m0 4h0m10-4h0m10 4h0m10-1h0m20-3h0m0 4h0m20-1h0m10 1h0m10-4h0m0 3h0m10 1h0m10-3h0m0 2h0m0 2h0m-166 4h0m9-1h0m1 3h0m9-4h0m0 3h0m9-4h0m0 3h0m9-1h0m10-2h0m9 5h0m10-3h0m0 3h0m10-3h0m10 3h0m10-5h0m0 4h0m20-4h0m0 4h0m10 0h0m10-2h0m10 0h0m0 2h0m10-4h0m0 3h0m0 2h0m10-5h0m0 2h0m0 1h0m0 1h0m0 1h0m-146 4h0m9-1h0m0 2h0m9-3h0m1 3h0m8-4h0m1 3h0m9-1h0m10 3h0m9-2h0m10 0h0m10 2h0m10-5h0m0 4h0m10 1h0m10-3h0m10 0h0m1 2h0m10-2h0m0 2h0m10-3h0m0 2h0m0 2h0m-118 4h0m10-1h0m0 2h0m9-3h0m0 3h0m9-2h0m10-2h0m1 5h0m9-2h0m10 0h0m10 1h0m10-2h0m10-1h0m1 3h0m10-2h0m0 2h0m10-2h0m0 1h0m-89 6h0m9-2h0m1 3h0m9-2h0m9-2h0m1 5h0m10-3h0m0 3h0m9-4h0m11 0h0m0 2h0m11-1h0m0 3h0m10-2h0m-60 5h0m10 0h0m10 3h0m10-5h0m0 3h0m11 0h0" stroke="#4a4a4a" stroke-width="3.4"/></g>
<ellipse cx="610.1" cy="44.9" rx="2.3" ry="1.6" fill="#8f8a25"/><ellipse cx="546.8" cy="38.1" rx="2.3" ry="1.6" fill="#8f8a25"/><ellipse cx="631.2" cy="55.7" rx="2.3" ry="1.6" fill="#8f8a25"/><ellipse cx="576.3" cy="52.8" rx="2.3" ry="1.6" fill="#8f8a25"/><ellipse cx="507.3" cy="26" rx="2.3" ry="1.6" fill="#8f8a25"/>
<ellipse cx="481.7" cy="24.4" rx="2.3" ry="1.6" fill="#3fe3f0"/><ellipse cx="605" cy="48" rx="2.3" ry="1.6" fill="#3fe3f0"/><ellipse cx="580.5" cy="34.7" rx="2.3" ry="1.6" fill="#3fe3f0"/><ellipse cx="635.5" cy="52.3" rx="2.3" ry="1.6" fill="#3fe3f0"/><ellipse cx="477.6" cy="29.2" rx="2.3" ry="1.6" fill="#3fe3f0"/>
<g transform="scale(.5)" fill="none" stroke-linecap="round"><path d="M904 274l-11 9l7 6l17-1l6 6l-10 9l7 7l17-2l6 7l17-2l7 6l17-1l7 6l17-1l7 6l17-2l6 7l-10 9l6 7l18-2l6 6l17-1l7 6l17-2l11-8l-7-7l-17 2l-11 9m-171-79l-7-7l11-8l-7-7l11-9l-7-7l11-8l17-2l6 7l-10 8l-17 2m-8 31l17-2l6 7l-10 9m-9-29l17-2l6 7l-10 8m2 22l18-2l6 7l-10 9m-12-51l10-9l-6-7m-2 38l18-2l6 7l-10 8m-10-28l18-2l6 6l-10 9m-12-51l10-9l17-2l7 7l-11 9l-17 2m-4 15l18-2l6 7l-10 9m-2 37l17-2l7 7l-11 9m-9-29l17-2l7 7l-11 8m-11-51l10-8l-7-7m-1 37l17-1l7 6l-11 9m-9-29l17-2l7 7l-11 9m-12-52l11-8l17-2l7 7l-11 8l-17 2m-4 16l17-2l7 7l-11 8m-5 53l17-2l7 7l-11 9m-9-29l17-2l7 7l-11 8m-9-29l17-2l7 7l-11 9m-12-51l11-9l-7-7m-1 38l17-2l7 7l-11 8m-9-28l17-2l7 6l-11 9m-12-51l11-9l17-1l6 6l-10 9l-17 2m-4 15l17-2l7 7l-11 9m-9 68l17-2l7 7l-11 9m-9-29l17-2l7 6l-11 9m-9-29l17-2l7 7l-11 9m-9-29l17-2l6 7l-10 8m-12-51l11-8l-7-7m-1 37l17-1l6 6l-10 9m-9-29l17-2l6 7l-10 9m-9-29l17-2l6 7l-10 8m-13 84l17-2l6 7l-10 8m-10-126l18-2l6 7l-10 9m-13 83l17-1l6 6l-10 9m-9-29l17-2l6 7l-10 9m-10-29l18-2l6 7l-10 8m-10-29l18-2l6 7l-10 9m-10-29l18-2l6 7l-10 8m-14 84l18-2l6 7l-10 9m-10-126l17-2l7 6l-10 9m-14 84l18-2l6 7l-10 8m-10-126l17-2l7 7l-11 9m-13 83l18-1l6 6l-10 9m-10-29l17-2l7 7l-10 9m-10-29l17-2l7 7l-11 8m-9-29l17-2l7 7l-11 9m-9-29l17-2l7 7l-11 8m-13 84l17-2l7 7m-23-140l11-8l17-2l7 7l-11 8l-17 2m-4 15l17-1l7 6l-11 9m-13 84l17-2l7 7l-11 8m-9-29l17-2l7 7l-11 9m-9-29l17-2l7 7l-11 8m-9-28l17-2l7 6l-11 9m-9-29l17-2l7 7l-11 9m-12-51l11-9l-7-7m-1 38l17-2l7 7l-11 8m-9-29l17-1l7 6l-11 9m-13 84l17-2l7 6l-11 9m-9-126l17-2l7 7l-11 9m-13 83l17-2l7 7l-11 9m-9-126l17-2l7 7l-11 8m-13 84l17-2l7 7l-11 8m-9-29l17-1l7 6l-11 9m-9-29l17-2l7 7l-11 9m-9-29l17-2l6 7l-10 8m-13 84l17-2l10-9l-6-6l-17 1m0-97l17-2l6 7l-10 9m-9-29l17-2l6 7l-10 8m-13 84l17-2l6 7l-10 9m-9-126l17-2l6 6l-10 9m-13 84l17-2l6 7l-10 8m-9-29l17-2l6 7l-10 9m-9-29l17-2l6 7l-10 8m-10-28l18-2l6 6l-10 9m-10-29l18-2l6 7l-10 9m-14 83l18-1l10-9l-6-7l-18 2m0-97l18-2l6 7l-10 8m-10-29l18-1l6 6l-10 9m-14 84l18-2l6 7l-10 8m-10-29l18-2l6 7l-10 9m-10-29l17-2l7 7l-10 8m-10-29l17-1l7 6l-11 9m-9-29l17-2l7 7l-11 9m-9-29l17-2l7 7l-11 8m-13 84l17-2l11-9l-7-6l-17 2m0-98l17-2l7 7l-11 9m-9 68l17-2l7 7l-11 9m-9-29l17-2l7 7l-11 8m-9-29l17-1l7 6l-11 9m-9-29l17-2l7 7l-11 9m-9-29l17-2l7 7l-11 8m-9-29l17-2l7 7l-11 9m-13 83l17-1l11-9l-7-7l-17 2m4-15l17-2l7 7l-11 8m-9-29l17-2l7 7l-11 9m-9-29l17-2l7 7l-11 8" stroke="#1a1a1a" stroke-width="3.4" stroke-linecap="butt"/><path d="M999 196h0m17-1h0m58 1h0m17-2h0m-69 7h0m18-2h0m58 2h0m17-2h0m-144 8h0m17-2h0m58 1h0m17-2h0m24 5h0m35-3h0m17-2h0m24 5h0m-203 6h0m35-3h0m17-2h0m24 5h0m34-4h0m41 3h0m34-4h0m24 5h0m17-2h0m-243 4h0m41 3h0m35-3h0m40 3h0m35-4h0m24 5h0m17-2h0m58 1h0m17-2h0m-277 8h0m34-4h0m24 5h0m17-2h0m34-3h0m24 4h0m17-1h0m58 1h0m18-2h0m58 1h0m-301 3h0m23 5h0m17-2h0m59 1h0m17-2h0m58 1h0m17-1h0m58 1h0m17-2h0m-277 7h0m58 2h0m17-2h0m58 1h0m18-2h0m58 1h0m17-2h0m24 5h0m34-3h0m17-2h0m-294 9h0m17-2h0m58 2h0m17-2h0m58 1h0m17-2h0m24 5h0m34-4h0m41 3h0m35-3h0m-278 7h0m18-2h0m23 5h0m35-4h0m17-1h0m24 4h0m34-3h0m41 3h0m34-4h0m24 5h0m17-2h0m-301 3h0m24 5h0m34-4h0m41 3h0m34-4h0m24 5h0m17-2h0m35-3h0m23 5h0m18-2h0m58 1h0m17-2h0m-318 5h0m41 3h0m34-4h0m24 5h0m17-2h0m58 1h0m17-2h0m58 1h0m17-1h0m59 1h0m-336 6h0m34-3h0m24 4h0m17-1h0m58 1h0m18-2h0m58 1h0m17-2h0m58 1h0m17-1h0m24 4h0m-318 5h0m17-2h0m58 1h0m17-2h0m58 2h0m17-2h0m59 1h0m17-2h0m23 5h0m35-4h0m-278 8h0m18-2h0m58 1h0m17-2h0m24 5h0m34-3h0m17-2h0m24 5h0m34-4h0m41 3h0m35-4h0m-336 7h0m58 1h0m17-2h0m24 5h0m35-4h0m40 3h0m35-4h0m24 5h0m17-2h0m34-3h0m24 5h0m17-2h0m-318 4h0m17-1h0m24 4h0m34-3h0m41 3h0m34-4h0m24 5h0m17-2h0m58 1h0m18-2h0m58 2h0m-302 2h0m24 5h0m17-2h0m35-3h0m24 4h0m17-1h0m58 1h0m17-2h0m58 1h0m17-2h0m-277 8h0m58 1h0m17-2h0m58 1h0m18-1h0m58 1h0m17-2h0m58 1h0m17-2h0m-294 10h0m17-2h0m58 1h0m17-2h0m58 1h0m17-2h0m24 5h0m34-3h0m18-2h0m23 5h0m35-4h0m-278 8h0m17-2h0m59 1h0m17-2h0m24 5h0m34-4h0m41 3h0m34-3h0m24 4h0m17-1h0m-243 3h0m17-1h0m24 5h0m34-4h0m41 3h0m35-4h0m23 5h0m18-2h0m-168 3h0m24 5h0m17-2h0m34-3h0m24 5h0m17-2h0m58 1h0m17-2h0m-144 8h0m18-2h0m58 1h0m17-1h0m-69 7h0m17-2h0m58 1h0m18-1h0m-127 6h0m58 1h0m17-2h0m24 5h0m-93 3h0m18-2h0m23 5h0m35-4h0m-52 5h0m24 5h0m17-2h0" stroke="#111" stroke-width="8.4"/><path d="M998 195h0m17-1h0m58 1h0m17-2h0m-69 7h0m18-2h0m58 2h0m17-2h0m-144 8h0m17-2h0m58 1h0m17-2h0m24 5h0m35-3h0m17-2h0m24 5h0m-203 6h0m35-3h0m17-2h0m24 5h0m34-4h0m41 3h0m34-4h0m24 5h0m17-2h0m-243 4h0m41 3h0m35-3h0m40 3h0m35-4h0m24 5h0m17-2h0m58 1h0m17-2h0m-277 8h0m34-4h0m24 5h0m17-2h0m34-3h0m24 4h0m17-1h0m58 1h0m18-2h0m58 1h0m-301 3h0m23 5h0m17-2h0m59 1h0m17-2h0m58 1h0m17-1h0m58 1h0m17-2h0m-277 7h0m58 2h0m17-2h0m58 1h0m18-2h0m58 1h0m17-2h0m24 5h0m34-3h0m17-2h0m-294 9h0m17-2h0m58 2h0m17-2h0m58 1h0m17-2h0m24 5h0m34-4h0m41 3h0m35-3h0m-278 7h0m18-2h0m23 5h0m35-4h0m17-1h0m24 4h0m34-3h0m41 3h0m34-4h0m24 5h0m17-2h0m-301 3h0m24 5h0m34-4h0m41 3h0m34-4h0m24 5h0m17-2h0m35-3h0m23 5h0m18-2h0m58 1h0m17-2h0m-318 5h0m41 3h0m34-4h0m24 5h0m17-2h0m58 1h0m17-2h0m58 1h0m17-1h0m59 1h0m-336 6h0m34-3h0m24 4h0m17-1h0m58 1h0m18-2h0m58 1h0m17-2h0m58 1h0m17-1h0m24 4h0m-318 5h0m17-2h0m58 1h0m17-2h0m58 2h0m17-2h0m59 1h0m17-2h0m23 5h0m35-4h0m-278 8h0m18-2h0m58 1h0m17-2h0m24 5h0m34-3h0m17-2h0m24 5h0m34-4h0m41 3h0m35-4h0m-336 7h0m58 1h0m17-2h0m24 5h0m35-4h0m40 3h0m35-4h0m24 5h0m17-2h0m34-3h0m24 5h0m17-2h0m-318 4h0m17-1h0m24 4h0m34-3h0m41 3h0m34-4h0m24 5h0m17-2h0m58 1h0m18-2h0m58 2h0m-302 2h0m24 5h0m17-2h0m35-3h0m24 4h0m17-1h0m58 1h0m17-2h0m58 1h0m17-2h0m-277 8h0m58 1h0m17-2h0m58 1h0m18-1h0m58 1h0m17-2h0m58 1h0m17-2h0m-294 10h0m17-2h0m58 1h0m17-2h0m58 1h0m17-2h0m24 5h0m34-3h0m18-2h0m23 5h0m35-4h0m-278 8h0m17-2h0m59 1h0m17-2h0m24 5h0m34-4h0m41 3h0m34-3h0m24 4h0m17-1h0m-243 3h0m17-1h0m24 5h0m34-4h0m41 3h0m35-4h0m23 5h0m18-2h0m-168 3h0m24 5h0m17-2h0m34-3h0m24 5h0m17-2h0m58 1h0m17-2h0m-144 8h0m18-2h0m58 1h0m17-1h0m-69 7h0m17-2h0m58 1h0m18-1h0m-127 6h0m58 1h0m17-2h0m24 5h0m-93 3h0m18-2h0m23 5h0m35-4h0m-52 5h0m24 5h0m17-2h0" stroke="#4a4a4a" stroke-width="3.5"/></g><ellipse cx="450.5" cy="125.9" rx="2.2" ry="1.5" fill="#8f8a25"/><ellipse cx="541" cy="131.1" rx="2.2" ry="1.5" fill="#8f8a25"/><ellipse cx="479.6" cy="126.5" rx="2.2" ry="1.5" fill="#8f8a25"/><ellipse cx="593.1" cy="106.7" rx="2.2" ry="1.5" fill="#8f8a25"/><ellipse cx="527.1" cy="136.3" rx="2.2" ry="1.5" fill="#8f8a25"/><ellipse cx="471.7" cy="157.3" rx="2.2" ry="1.5" fill="#8f8a25"/><ellipse cx="549.6" cy="178.7" rx="2.2" ry="1.5" fill="#8f8a25"/><ellipse cx="469.7" cy="116.4" rx="2.2" ry="1.5" fill="#8f8a25"/><ellipse cx="468.4" cy="153.9" rx="2.2" ry="1.5" fill="#8f8a25"/><ellipse cx="461.7" cy="147.1" rx="2.2" ry="1.5" fill="#3fe3f0"/><ellipse cx="507.9" cy="97.3" rx="2.2" ry="1.5" fill="#3fe3f0"/><ellipse cx="499.4" cy="98.2" rx="2.2" ry="1.5" fill="#3fe3f0"/><ellipse cx="519.2" cy="118.5" rx="2.2" ry="1.5" fill="#3fe3f0"/><ellipse cx="579.3" cy="112" rx="2.2" ry="1.5" fill="#3fe3f0"/><ellipse cx="614.3" cy="138.1" rx="2.2" ry="1.5" fill="#3fe3f0"/><ellipse cx="502" cy="120.3" rx="2.2" ry="1.5" fill="#3fe3f0"/><ellipse cx="529.8" cy="158.5" rx="2.2" ry="1.5" fill="#3fe3f0"/><ellipse cx="451.8" cy="137" rx="2.2" ry="1.5" fill="#3fe3f0"/>
<g transform="scale(.5)" fill="none" stroke-linecap="round"><path d="M1584 54l-10 1l0 1l10 1l0 1l-10-1l0 1l10 2l0 1l-10-2l0 0l10 4l0 0l9 5l10 3l1-1l-10-5l-10-2m0-9l0-1l10-3l10-1l0 3l-10 2l-10 0m0 3l10-1l0-2m-10 4l11 2l-1 2l-10-2m0 1l10 3l0 1m0-9l11 2l0 2l-10 0m-1 2l10 3l0 1l-10-2m9 7l9 5l10 4l1-3l-10-5l-9-2m0-21l10-3l10 0l1 4l-10 3l-11-1m0 13l11 1l0-3l-10-3m-1 6l10 4l-1 2m-8-14l10-2l0-3m-1 17l10 2l1-3l-10-3m0-10l10 3l0 4l-10 0m7 17l10 5l10 2l1-3l-10-5l-10-2m1-31l10-3l11 2l0 6l-10 1l-10-2m-1 22l10 5l-1 2m-8-20l10-2l0-5m-10 11l10 3l0 4l-10-1m9 8l10 1l1-4l-10-4m0-13l10 4l0 5l-10 0m7 21l10 5l10 1l1-4l-10-3l-10-2m1-6l10 4l-1 4m-8-41l10-2l10 3l0 6l-10 2l-10-3m0 10l10-1l0-6m-10 12l10 4l0 5l-10-1m9 8l10 0l1-4l-10-3m0-15l11 4l0 5l-11 1m7 23l10 2l11-2l1-3l-10-2l-11 1m1-7l10 3l0 3m-9-42l10-2l11 4l0 5l-10 3l-11-4m0 26l10-1l1-5l-10-3m0-5l10-2l0-6m-2 29l11-2l1-4l-11-2m1-15l10 3l0 5l-10 2m7 21l10 1l11-2l1-3l-10-1l-11 2m1-7l10 1l0 4m-9-40l10-2l10 3l1 5l-11 3l-10-4m0 12l10-3l0-5m-10 13l10 2l0 5l-10 2m9 5l11-2l0-3l-10-2m0-15l11 3l0 5l-11 2m8 20l10 0l11-2l1-3l-11-1l-10 3m1-40l11-2l10 3l0 5l-10 2l-10-3m-1 25l11-3l0-4l-10-2m-1 12l10 1l-1 3m-8-21l10-3l0-5m-1 26l10-2l1-4l-10-1m0-14l10 3l0 4l-10 3m8 18l10 0l11-3l0-3l-10 0l-10 3m0-6l11 0l-1 3m-9-34l10-2l11 3l0 5l-11 2l-10-3m0 10l11-2l-1-5m-10 11l10 2l0 4l-10 2m10-6l11-2l0-4l-10-2m-1 12l10 1l0 3l-10 2m9 3l11-2l0-2l-10-1m-1 8l10 0l11-2l0-2l-10-1m-10-6l11-2l0-4l-10-1m0-18l10-1l10 2l0 4l-10 2l-10-2m0 9l10-2l0-5m-1 22l11-2l0-3l-10-1m0-11l10 2l0 3l-10 2m9 13l11-2l0-2l-10-1m-1 7l10 1l11-2l0-2l-10-1m-10-29l10-1l11 2l0 4l-10 2l-11-3m0 9l11-2l0-4m-11 9l11 2l0 3l-11 2m10 4l11-2l0-2l-10-2m0-10l10 2l0 3l-10 2m9 12l11-2l0-2l-10-1m-1 7l10 1l11-2l0-2l-10-1m-10-27l10-2l10 2l0 4l-10 2l-10-2m0 8l10-2l0-4m-10 9l10 2l0 3l-10 2m10-12l11 1l0 4l-11 2m0 3l10 1l0 2l-10 2m10-25l11-2l10 2l0 4l-10 2l-11-2m0 17l11-2l0-3l-10-1m-1 8l11 1l-1 2l-10 2m0 2l10 0l11-2l0-2l-11 0m-9-15l10-2l0-3m0 3l10 2l0 3l-10 2m0 3l10 0l0 3l-10 2m10-24l10-2l11 2l0 3l-11 2l-10-1m0 7l10-3l0-3m-10 9l10 1l0 2l-10 2m0 3l10 0l0 2l-10 2m0 2l10 0l11-3l0-1l-11 0m0-16l11 1l0 3l-11 3m0 2l11 1l0 2l-11 2m11-22l10-2l10 1l0 3l-10 2l-10-1m0 6l10-2l0-3m-10 8l10 1l0 2l-10 3m0 2l10 0l0 1l-10 3m0 1l10 0l10-2l0-2l-10 0m0-14l10 1l0 3l-10 2m0 2l10 0l0 2l-10 3m10-21l11-2l10 0l0 3l-11 3l-10-1m0 6l10-3l0-2m-10 8l10 0l0 2l-10 2m0 2l11 0l0 2l-11 2m0 2l11-1l10-3l0-1l-10 1m-1-14l11 1l0 2l-11 3m0 2l11 0l0 2l-10 2m10-20l10-1l10 3l0 2l-10 0l-10-1m0 6l10-2l0-3m-10 7l10 0l0 2l-10 3m0 2l10-1l0 1l-10 3m0 1l10-1l10-4l0-1l-10 2m0-11l10 1l0 1l-10 2m0 2l10-1l0 2l-10 3m10-13l10 1l0 2l-10 1m0 1l10 0l0 1l-10 2m0 2l10-2l0 1l-10 3" stroke="#1a1a1a" stroke-width="2.8" stroke-linecap="butt"/><path d="M1614 46h0m10 0h0m10-3h0m11 2h0m10-2h0m10 3h0m10-2h0m21 2h0m21 1h0m-133 6h0m10-3h0m10-1h0m0 3h0m11 1h0m10-3h0m10 2h0m10-1h0m20 1h0m21-4h0m0 5h0m20-4h0m21 1h0m10-2h0m11 3h0m10-1h0m10 2h0m10-1h0m11 2h0m10-2h0m10 2h0m11-2h0m10 2h0m10-2h0m11 2h0m10-2h0m10 1h0m11-2h0m10 0h0m0 3h0m10-4h0m10 3h0m-338 3h0m0 1h0m0 1h0m0 1h0m0 1h0m0 0h0m10-5h0m0 3h0m0 1h0m10-4h0m0 2h0m11 2h0m10-2h0m10 3h0m10-2h0m20-3h0m21 2h0m20 1h0m11-3h0m10 3h0m10-2h0m10 3h0m11-2h0m10 2h0m10-2h0m11 3h0m10-2h0m10 2h0m10-2h0m11 2h0m10-2h0m10 1h0m11-2h0m10 1h0m10-2h0m10 1h0m0 2h0m11 1h0m10-5h0m0 3h0m10-3h0m0 4h0m0 1h0m10-4h0m0 2h0m0 2h0m-338 1h0m0 1h0m0 2h0m0 0h0m10-1h0m0 2h0m0 1h0m1-5h0m9 5h0m1-5h0m10 3h0m10 0h0m20-2h0m10-1h0m11 4h0m10-2h0m10 3h0m10-3h0m11 3h0m10-3h0m10 3h0m11-2h0m10 2h0m10-2h0m10 2h0m11-2h0m10 2h0m10-2h0m11 1h0m10-2h0m10 2h0m10-3h0m11 1h0m0 3h0m10-5h0m10 1h0m0 3h0m10 0h0m11-3h0m10 0h0m0 2h0m10-1h0m0 2h0m10-4h0m0 2h0m0 1h0m-329 5h0m10 3h0m1-5h0m0 4h0m10 0h0m1-4h0m10 3h0m10-3h0m0 4h0m10-4h0m10 4h0m11-1h0m20 1h0m21 0h0m20-1h0m10 2h0m11-2h0m10 1h0m10-2h0m11 2h0m10-2h0m10 2h0m11-2h0m10 1h0m10-2h0m10 1h0m0 2h0m11 1h0m10-5h0m0 2h0m10 0h0m0 2h0m10-4h0m1 4h0m10-4h0m0 2h0m0 3h0m10-4h0m0 1h0m0 3h0m10-5h0m0 1h0m-300 9h0m1-4h0m10 5h0m1-5h0m10 5h0m11-3h0m10 1h0m20 2h0m1-5h0m20 0h0m0 5h0m21-5h0m0 4h0m10 1h0m10-2h0m10 1h0m11-2h0m10 1h0m11-2h0m10 2h0m0 2h0m10-4h0m10 1h0m0 2h0m11-4h0m0 5h0m10-5h0m0 3h0m10 0h0m0 2h0m11-4h0m0 4h0m10-4h0m0 1h0m10 0h0m0 2h0m11-4h0m0 3h0m10-3h0m-270 8h0m11-1h0m11-1h0m10 4h0m10 0h0m1-4h0m20 5h0m1-4h0m20 0h0m0 3h0m10 1h0m10-2h0m11 0h0m10-2h0m10 1h0m0 2h0m10 1h0m1-5h0m10 1h0m0 2h0m10 1h0m11-4h0m0 2h0m10 1h0m0 2h0m10-4h0m0 4h0m11-4h0m0 2h0m10 0h0m11-3h0m10 0h0m-229 7h0m10 2h0m1-3h0m10 2h0m10 3h0m11-4h0m0 3h0m21-4h0m0 4h0m10 1h0m10-3h0m11 1h0m10-3h0m10 0h0m0 3h0m10 0h0m11-2h0m10 1h0m11-2h0m10 1h0m-146 7h0m10 1h0m10 2h0m11-2h0m1-3h0m9 4h0m11-2h0m10 0h0m11-2h0m10 0h0" stroke="#111" stroke-width="8"/><path d="M1613 45h0m10 0h0m10-3h0m11 2h0m10-2h0m10 3h0m10-2h0m21 2h0m21 1h0m-133 6h0m10-3h0m10-1h0m0 3h0m11 1h0m10-3h0m10 2h0m10-1h0m20 1h0m21-4h0m0 5h0m20-4h0m21 1h0m10-2h0m11 3h0m10-1h0m10 2h0m10-1h0m11 2h0m10-2h0m10 2h0m11-2h0m10 2h0m10-2h0m11 2h0m10-2h0m10 1h0m11-2h0m10 0h0m0 3h0m10-4h0m10 3h0m-338 3h0m0 1h0m0 1h0m0 1h0m0 1h0m0 0h0m10-5h0m0 3h0m0 1h0m10-4h0m0 2h0m11 2h0m10-2h0m10 3h0m10-2h0m20-3h0m21 2h0m20 1h0m11-3h0m10 3h0m10-2h0m10 3h0m11-2h0m10 2h0m10-2h0m11 3h0m10-2h0m10 2h0m10-2h0m11 2h0m10-2h0m10 1h0m11-2h0m10 1h0m10-2h0m10 1h0m0 2h0m11 1h0m10-5h0m0 3h0m10-3h0m0 4h0m0 1h0m10-4h0m0 2h0m0 2h0m-338 1h0m0 1h0m0 2h0m0 0h0m10-1h0m0 2h0m0 1h0m1-5h0m9 5h0m1-5h0m10 3h0m10 0h0m20-2h0m10-1h0m11 4h0m10-2h0m10 3h0m10-3h0m11 3h0m10-3h0m10 3h0m11-2h0m10 2h0m10-2h0m10 2h0m11-2h0m10 2h0m10-2h0m11 1h0m10-2h0m10 2h0m10-3h0m11 1h0m0 3h0m10-5h0m10 1h0m0 3h0m10 0h0m11-3h0m10 0h0m0 2h0m10-1h0m0 2h0m10-4h0m0 2h0m0 1h0m-329 5h0m10 3h0m1-5h0m0 4h0m10 0h0m1-4h0m10 3h0m10-3h0m0 4h0m10-4h0m10 4h0m11-1h0m20 1h0m21 0h0m20-1h0m10 2h0m11-2h0m10 1h0m10-2h0m11 2h0m10-2h0m10 2h0m11-2h0m10 1h0m10-2h0m10 1h0m0 2h0m11 1h0m10-5h0m0 2h0m10 0h0m0 2h0m10-4h0m1 4h0m10-4h0m0 2h0m0 3h0m10-4h0m0 1h0m0 3h0m10-5h0m0 1h0m-300 9h0m1-4h0m10 5h0m1-5h0m10 5h0m11-3h0m10 1h0m20 2h0m1-5h0m20 0h0m0 5h0m21-5h0m0 4h0m10 1h0m10-2h0m10 1h0m11-2h0m10 1h0m11-2h0m10 2h0m0 2h0m10-4h0m10 1h0m0 2h0m11-4h0m0 5h0m10-5h0m0 3h0m10 0h0m0 2h0m11-4h0m0 4h0m10-4h0m0 1h0m10 0h0m0 2h0m11-4h0m0 3h0m10-3h0m-270 8h0m11-1h0m11-1h0m10 4h0m10 0h0m1-4h0m20 5h0m1-4h0m20 0h0m0 3h0m10 1h0m10-2h0m11 0h0m10-2h0m10 1h0m0 2h0m10 1h0m1-5h0m10 1h0m0 2h0m10 1h0m11-4h0m0 2h0m10 1h0m0 2h0m10-4h0m0 4h0m11-4h0m0 2h0m10 0h0m11-3h0m10 0h0m-229 7h0m10 2h0m1-3h0m10 2h0m10 3h0m11-4h0m0 3h0m21-4h0m0 4h0m10 1h0m10-3h0m11 1h0m10-3h0m10 0h0m0 3h0m10 0h0m11-2h0m10 1h0m11-2h0m10 1h0m-146 7h0m10 1h0m10 2h0m11-2h0m1-3h0m9 4h0m11-2h0m10 0h0m11-2h0m10 0h0" stroke="#4a4a4a" stroke-width="3.4"/></g>
<ellipse cx="847.6" cy="42.2" rx="2.3" ry="1.6" fill="#8f8a25"/><ellipse cx="797.2" cy="30.8" rx="2.3" ry="1.6" fill="#8f8a25"/><ellipse cx="884.2" cy="34.2" rx="2.3" ry="1.6" fill="#8f8a25"/><ellipse cx="873.9" cy="32.4" rx="2.3" ry="1.6" fill="#8f8a25"/><ellipse cx="837.2" cy="42.4" rx="2.3" ry="1.6" fill="#8f8a25"/><ellipse cx="925.3" cy="35.3" rx="2.3" ry="1.6" fill="#8f8a25"/>
<ellipse cx="837.9" cy="27.9" rx="2.3" ry="1.6" fill="#3fe3f0"/>
<g transform="scale(.5)" fill="none" stroke-linecap="round"><path d="M1583 328l-7 7l0-1l6-8l8-7l1 2l-8 7l1 1l-7 7l0 0l8-4l1 1l-9 4l0 1l10-3l0 2l-9 2l0 0l10 0l10-2l-1-1l-10 1m-3-8l8-4l1 1l-8 6m1 1l9-3l1 2l-9 3m3-16l9-6l11-3l1 3l-11 4l-9 4m1 4l9-5l-1-3m-7 9l10-2l1 2l-9 4m1 2l10-1l1 2l-10 3m1 1l11 1l10-2l-1-2l-11-1m-6-13l12-2l1 3l-11 3m1 2l12 0l0 3l-10 2m4-21l11-4l12-1l1 3l-11 4l-12 1m2 5l11-3l-1-3m-9 9l11 0l1 2l-10 3m0 3l12 0l1 3l-11 2m1 2l12 1l10-1l-1-3l-11-1m-5-17l11 0l1 3l-11 3m1 2l12 1l0 3l-10 2m5-24l11-3l12 0l0 3l-11 3l-11 0m1 7l11-3l-1-4m-9 10l12 0l0 3l-10 3m0 3l12 1l1 3l-11 2m1 3l11 2l10-1l0-4l-11-2m-5-19l12 0l0 4l-10 2m0 3l12 2l0 3l-10 2m6-26l11-4l11 0l1 4l-11 3l-12 0m2 7l10-3l0-4m-10 11l12 0l0 4l-10 3m0 3l12 1l0 4l-10 2m0 4l11 2l11-2l-1-4l-11-2m-4-22l12 0l1 4l-11 3m0 4l12 1l0 4l-10 2m6-29l11-4l12 0l0 4l-11 4l-11 0m1 7l11-3l-1-4m-9 11l11 1l0 4l-10 3m0 4l11 2l1 4l-11 2m1 4l11 2l10-2l0-4l-11-2m-3-25l11 1l1 4l-11 3m0 4l12 2l0 4l-11 3m8-33l11-5l12 1l0 5l-11 4l-12-1m1 9l11-4l0-4m-10 12l11 2l0 4l-10 3m0 4l11 2l1 5l-11 2m0 4l11 3l11-1l0-5l-11-3m-3-28l12 1l0 5l-11 4m0 4l12 2l0 5l-11 2m9-36l11-5l12 1l0 6l-11 4l-12-1m1 9l11-3l0-5m-11 13l11 2l1 5l-11 3m0 5l11 2l0 5l-10 3m0 5l11 3l10-2l0-6l-11-3m-1-30l11 1l0 6l-11 3m1 5l11 2l0 6l-11 2m10-40l11-4l11 2l1 5l-12 4l-11-1m0 10l11-3l0-6m-11 15l12 2l0 5l-11 3m0 6l11 2l0 6l-11 2m0 6l11 3l11-3l0-5l-11-3m-1-33l12 2l0 5l-11 4m0 5l11 3l0 5l-11 3m10-42l12-4l12 2l-1 6l-11 3l-11-2m0 12l11-4l0-6m-11 15l11 2l0 6l-11 4m0 5l11 3l0 6l-11 3m0 5l11 3l11-3l0-6l-11-2m0-35l11 2l0 6l-11 3m0 6l11 3l0 6l-11 3m11-38l12 2l0 6l-12 3m0 6l11 3l0 5l-11 4m0 6l11 2l0 6l-11 3m0 6l10 2l11-3l0-6l-10-2m-10-49l11-3l12 3l-1 5l-11 3m-1 18l12-4l0-5l-11-3m-1 17l11 3l0 5l-11 4m10 8l11-4l1-5l-11-3m-1 18l11 1l10-3l1-5l-11-3m-10-13l11-3l1-6l-11-3m0-17l12 4l-1 5l-11 3m1-17l11-2l11 5l0 5l-11 1m-2 22l11 3l-1 5l-10 3m1-28l11 5l0 5l-11 1m8 30l11 2l11-3l0-4l-10-2l-11 2m0-11l11 4l0 5m-10-14l10-1l1-4l-10-5m0-5l10 0l1-4l-10-7m0-5l10 2l10 8l0 4l-10-2m-2 18l11 5l-1 4l-10 1m1-24l10 6l0 4l-10 0m9 13l11 3l-1 4l-10 1m0 4l10 2l11-2l0-3l-11-2m-9-24l11 2l0-3l-10-7m-1 12l10 5l0 4l-10 0m1-25l10 3l10 8l0 3l-10-3m-1 10l10 2l0-3l-9-6m-1 11l10 4l0 3l-10 0m10-12l10 2l0-2l-9-6m-1 9l10 4l0 2l-10 0m0 3l10 2l0 2l-10 2m0 3l10 0l10-2l0-2l-10-1m-9-25l9 4l10 7l0 1l-10-3m0 2l10 5l0 2l-10-2m0 2l10 3l0 2l-10 0m10-12l11 4l10 5l0 0l-10-3l-11-5m0 4l11 2l0-1m-11 1l11 2l0 1l-11 0m0 2l11 1l0 1l-11 1m0 2l11-1l10-2l0-1l-10 1m0-7l10 3l0 1l-10-2m0 1l10 2l0 0l-10 1" stroke="#1a1a1a" stroke-width="2.8" stroke-linecap="butt"/><path d="M1781 280h0m23-1h0m23 1h0m-92 5h0m12 1h0m11-4h0m11 2h0m24-2h0m22 5h0m1-5h0m22 3h0m10 2h0m-136 2h0m12 1h0m23 2h0m11 1h0m12-4h0m11 2h0m11-3h0m12 2h0m23 1h0m11-1h0m-171 8h0m11 0h0m11-4h0m12 0h0m0 4h0m12 1h0m11-4h0m12 1h0m22 3h0m23-2h0m11 2h0m12-3h0m11 3h0m11-3h0m22 1h0m10-2h0m0 4h0m10-1h0m-235 7h0m11-3h0m12 0h0m0 3h0m12 0h0m11-3h0m11 0h0m23 1h0m12 1h0m11-3h0m11 1h0m23-1h0m22 4h0m23-1h0m22-3h0m10 0h0m-237 9h0m11-4h0m13 2h0m11 0h0m23 1h0m12 0h0m11-3h0m11 1h0m1 4h0m22-2h0m11 2h0m11-3h0m12 2h0m11-4h0m11 2h0m22 0h0m23-1h0m11-1h0m10 5h0m10-4h0m0 4h0m11-5h0m0 3h0m10-3h0m0 3h0m9 1h0m-288 3h0m1 4h0m11-4h0m12-1h0m1 3h0m11 0h0m11-3h0m12 0h0m0 4h0m12 0h0m11-3h0m11 1h0m22-1h0m0 4h0m23-1h0m22-1h0m22-1h0m11 3h0m11-4h0m11 3h0m11-3h0m11 3h0m10-1h0m21 1h0m10-1h0m10 0h0m0 2h0m10 0h0m-307 2h0m1 2h0m10-1h0m12-2h0m1 3h0m11 0h0m1 2h0m10-5h0m12 0h0m0 3h0m12 2h0m10-3h0m12 1h0m10-3h0m12 2h0m22-1h0m22-1h0m22 0h0m0 5h0m22 0h0m22-2h0m21 0h0m22-1h0m10 0h0m10-2h0m10 4h0m10-4h0m0 4h0m11-1h0m0 2h0m-326 3h0m1 2h0m1 1h0m8-4h0m1 1h0m10-2h0m1 2h0m12 0h0m0 3h0m12 0h0m10-5h0m0 3h0m12 1h0m10-2h0m12 1h0m10-2h0m11 2h0m11-3h0m11 2h0m11-2h0m11 2h0m11-2h0m11 2h0m22 0h0m22-1h0m21 4h0m1-5h0m21 1h0m10-1h0m11 3h0m10-3h0m0 3h0m10-3h0m0 5h0m10-5h0m0 3h0m0 2h0m11-5h0m0 2h0m0 1h0m10-1h0m0 0h0m0 1h0m0 1h0m0 1h0m0 0h0m-342 5h0m0 1h0m9-3h0m1 1h0m1 2h0m8-5h0m1 2h0m10-1h0m1 2h0m11 1h0m11-2h0m11 1h0m11-2h0m11 2h0m10-2h0m11 2h0m11-2h0m11 2h0m11-2h0m11 3h0m10-3h0m11 3h0m11-2h0m11 3h0m11-3h0m11 2h0m11-3h0m10 2h0m22-1h0m11-2h0m10 2h0m10-1h0m11 2h0m10-2h0m10 1h0m0 2h0m11-4h0m0 1h0m0 2h0m10-3h0m0 1h0m-341 5h0m0 0h0m0 1h0m0 1h0m1 1h0m0 0h0m9-2h0m1 2h0m9-3h0m1 1h0m11 1h0m10-2h0m12 1h0m10-1h0m11 2h0m10-1h0m11 2h0m11-2h0m11 2h0m10-2h0m11 3h0m11-1h0m21 1h0m22 0h0m22 0h0m21-1h0m11 1h0m10-3h0m11 2h0m11-3h0m10 2h0m11-2h0m10 0h0m-149 6h0m21 1h0m22 0h0m21-1h0" stroke="#111" stroke-width="8"/><path d="M1780 279h0m23-1h0m23 1h0m-92 5h0m12 1h0m11-4h0m11 2h0m24-2h0m22 5h0m1-5h0m22 3h0m10 2h0m-136 2h0m12 1h0m23 2h0m11 1h0m12-4h0m11 2h0m11-3h0m12 2h0m23 1h0m11-1h0m-171 8h0m11 0h0m11-4h0m12 0h0m0 4h0m12 1h0m11-4h0m12 1h0m22 3h0m23-2h0m11 2h0m12-3h0m11 3h0m11-3h0m22 1h0m10-2h0m0 4h0m10-1h0m-235 7h0m11-3h0m12 0h0m0 3h0m12 0h0m11-3h0m11 0h0m23 1h0m12 1h0m11-3h0m11 1h0m23-1h0m22 4h0m23-1h0m22-3h0m10 0h0m-237 9h0m11-4h0m13 2h0m11 0h0m23 1h0m12 0h0m11-3h0m11 1h0m1 4h0m22-2h0m11 2h0m11-3h0m12 2h0m11-4h0m11 2h0m22 0h0m23-1h0m11-1h0m10 5h0m10-4h0m0 4h0m11-5h0m0 3h0m10-3h0m0 3h0m9 1h0m-288 3h0m1 4h0m11-4h0m12-1h0m1 3h0m11 0h0m11-3h0m12 0h0m0 4h0m12 0h0m11-3h0m11 1h0m22-1h0m0 4h0m23-1h0m22-1h0m22-1h0m11 3h0m11-4h0m11 3h0m11-3h0m11 3h0m10-1h0m21 1h0m10-1h0m10 0h0m0 2h0m10 0h0m-307 2h0m1 2h0m10-1h0m12-2h0m1 3h0m11 0h0m1 2h0m10-5h0m12 0h0m0 3h0m12 2h0m10-3h0m12 1h0m10-3h0m12 2h0m22-1h0m22-1h0m22 0h0m0 5h0m22 0h0m22-2h0m21 0h0m22-1h0m10 0h0m10-2h0m10 4h0m10-4h0m0 4h0m11-1h0m0 2h0m-326 3h0m1 2h0m1 1h0m8-4h0m1 1h0m10-2h0m1 2h0m12 0h0m0 3h0m12 0h0m10-5h0m0 3h0m12 1h0m10-2h0m12 1h0m10-2h0m11 2h0m11-3h0m11 2h0m11-2h0m11 2h0m11-2h0m11 2h0m22 0h0m22-1h0m21 4h0m1-5h0m21 1h0m10-1h0m11 3h0m10-3h0m0 3h0m10-3h0m0 5h0m10-5h0m0 3h0m0 2h0m11-5h0m0 2h0m0 1h0m10-1h0m0 0h0m0 1h0m0 1h0m0 1h0m0 0h0m-342 5h0m0 1h0m9-3h0m1 1h0m1 2h0m8-5h0m1 2h0m10-1h0m1 2h0m11 1h0m11-2h0m11 1h0m11-2h0m11 2h0m10-2h0m11 2h0m11-2h0m11 2h0m11-2h0m11 3h0m10-3h0m11 3h0m11-2h0m11 3h0m11-3h0m11 2h0m11-3h0m10 2h0m22-1h0m11-2h0m10 2h0m10-1h0m11 2h0m10-2h0m10 1h0m0 2h0m11-4h0m0 1h0m0 2h0m10-3h0m0 1h0m-341 5h0m0 0h0m0 1h0m0 1h0m1 1h0m0 0h0m9-2h0m1 2h0m9-3h0m1 1h0m11 1h0m10-2h0m12 1h0m10-1h0m11 2h0m10-1h0m11 2h0m11-2h0m11 2h0m10-2h0m11 3h0m11-1h0m21 1h0m22 0h0m22 0h0m21-1h0m11 1h0m10-3h0m11 2h0m11-3h0m10 2h0m11-2h0m10 0h0m-149 6h0m21 1h0m22 0h0m21-1h0" stroke="#4a4a4a" stroke-width="3.4"/></g>
<ellipse cx="823.8" cy="159.1" rx="2.3" ry="1.6" fill="#8f8a25"/><ellipse cx="820.4" cy="168" rx="2.3" ry="1.6" fill="#8f8a25"/><ellipse cx="873.6" cy="151.2" rx="2.3" ry="1.6" fill="#8f8a25"/><ellipse cx="818" cy="158.8" rx="2.3" ry="1.6" fill="#8f8a25"/>
<ellipse cx="933.5" cy="159.9" rx="2.3" ry="1.6" fill="#3fe3f0"/><ellipse cx="810.5" cy="153.2" rx="2.3" ry="1.6" fill="#3fe3f0"/><ellipse cx="794.1" cy="169.4" rx="2.3" ry="1.6" fill="#3fe3f0"/>
<g transform="scale(.5)" fill="none" stroke-linecap="round"><path d="M1599 558l-10 2l1 1l9 0l0 1l-9 0l0 0l9 2l0 1l-9-2l-1 0l10 3l0 1l10 3l9 4l0-2l-9-4l-10-2m0-8l0-1l10-2l10-1l0 3l-10 1l-10 0m0 3l10-1l0-2m-10 4l10 1l0 2l-10-1m0 1l10 2l0 1m0-8l10 2l0 2l-10-1m0 2l10 3l0 1l-10-2m9 5l10 4l0-2l-9-5m-1 5l9 5l9 4l1-2l-9-5m-9-22l9-2l10 1l0 3l-9 2l-10-1m0 5l10-1l0-3m-10 6l10 3l0 3l-10-2m9 6l10 2l0-2l-9-4m0-9l10 3l0 4l-10-1m7 16l9 5l10 2l1-3l-10-4l-9-2m1-28l10-3l10 2l0 5l-10 2l-10-3m0 18l10 1l0-4l-9-3m-1 8l9 4l-1 3m-7-19l9-1l0-4m-1 21l10 1l1-3l-10-3m0-12l10 3l0 5l-10 0m7 19l9 4l11 0l0-3l-9-3l-10-1m1-6l10 4l-1 3m-8-36l10-3l10 3l0 5l-10 2l-10-2m0 9l10-1l0-6m-10 12l10 3l0 4l-10 0m9 7l10-1l0-3l-9-3m0-13l10 3l0 4l-10 2m7 17l11-1l0-4l-9-2m-2 10l9 2l11-2l0-3l-9-1m-9-9l10-2l1-4l-10-3m0-20l10-2l10 3l0 5l-10 2l-10-3m0 11l10-3l0-5m-2 26l11-2l0-3l-10-2m1-14l10 3l0 5l-10 2m7 16l11-2l0-3l-9-2m-2 10l10 0l10-2l1-3l-10 0m-9-8l10-2l1-4l-10-2m0-20l9-2l10 3l1 5l-10 2l-10-3m0 10l10-2l0-5m-2 25l11-2l0-4l-10-1m1-13l10 2l0 5l-10 2m7 17l10 1l10-3l1-2l-10-1l-10 2m1-35l10-2l10 3l0 5l-10 2l-9-3m-1 21l10-2l0-3l-9-2m-1 11l9 0l0 3m-8-19l10-2l-1-4m-1 22l11-2l0-3l-10-1m0-3l10-3l0-4l-9-2m7 24l10 1l10-2l1-3l-10 0l-10 2m1-33l10-1l10 2l0 4l-10 2l-10-2m0 8l10-2l0-4m-10 10l10 2l0 4l-10 1m0 3l9 1l0 3m0-3l11-2l0-2l-10-1m0-12l10 2l0 4l-10 2m8 15l10 0l10-1l1-3l-10 0l-10 1m1-30l10-2l10 2l0 4l-10 2l-10-2m0 8l10-2l0-4m-10 10l10 1l0 4l-10 2m0 2l9 1l0 3m0-3l11-2l0-2l-10-1m0-11l10 2l0 3l-10 2m8 15l10 0l11-1l0-3l-10 0l-10 1m1-29l10-2l10 3l0 3l-10 2l-10-2m0 8l10-2l0-4m-10 9l10 2l0 3l-10 2m0 2l9 1l0 3m0-3l11-1l0-3l-10-1m0-10l10 2l0 3l-10 2m9 11l10-1l0-3l-9 0m-1 7l10 0l10-2l0-2l-10 0m-9-26l10-2l10 2l0 3l-10 2l-10-2m0 8l10-2l0-4m-10 9l10 1l0 3l-10 2m9 3l10-2l1-2l-10-1m0-9l10 1l0 3l-10 2m9 6l10 0l0 2l-10 3m0 2l10-1l10-2l0-2l-10 0m-9-23l10-2l10 2l0 3l-10 2l-10-2m0 7l10-2l0-3m-10 8l10 1l0 3l-10 2m9 2l10-2l0-2l-9 0m0-9l10 1l0 3l-10 2m9 3l10-2l1-2l-10-1m-1 7l10 0l0 2l-10 2m0 2l10-1l10-2l0-1l-10 0m-9-21l10-2l10 2l0 3l-10 1l-10-1m0 6l10-2l0-3m-1 11l10 0l0 2l-10 2m1-12l10 1l0 3l-10 2m9 2l10-2l0-2l-9 0m-1 6l10 0l0 2l-10 2m0 1l10 0l10-2l0-2l-10 1m-9-19l10-2l10 1l-1 3l-9 2l-10-1m0 5l9-2l1-2m-1 2l10 1l0 2l-10 2m0 2l10 1l0 1l-10 2m10-15l10 1l0 2l-10 2m0 2l10 1l0 2l-10 2m0 1l10 0l0 2l-10 1m0 2l10 0l10-3l0-1l-10 1m-9-18l10-1l9 0l0 3l-10 2m0 2l10 0l0 3l-10 2m0 2l10 0l0 1l-10 2m10-17l10-1l10 1l0 2l-10 1l-10 0m0 4l10-2l0-2m-10 7l10-1l0 2l-10 3m0 1l10-1l0 1l-10 3m0 1l10-1l9-4l0-1l-9 2m0-10l10 0l0 2l-10 2m0 2l10-1l0 1l-10 3m9-1l10-4l0 0l-9 2m0-9l10 0l0 1l-10 2m0 2l9-1l0 1l-9 3" stroke="#1a1a1a" stroke-width="2.8" stroke-linecap="butt"/><path d="M1648 550h0m20-1h0m20 1h0m19 1h0m-108 6h0m10-2h0m10-1h0m0 3h0m9-5h0m10 1h0m0 3h0m20-4h0m0 5h0m20-5h0m0 5h0m20-4h0m19 1h0m10-2h0m10 3h0m10-1h0m10 2h0m10-2h0m10 2h0m10-2h0m10 3h0m10-2h0m10 2h0m10-2h0m10 2h0m10-2h0m10 2h0m10-2h0m10 1h0m10-1h0m9 0h0m10-1h0m10 1h0m0 2h0m10 0h0m-337 3h0m0 3h0m1-2h0m0 1h0m0 0h0m0 1h0m9-5h0m0 3h0m0 1h0m10-4h0m0 2h0m0 3h0m10-1h0m10-4h0m0 3h0m19-2h0m0 4h0m20-4h0m20 1h0m10-2h0m10 3h0m10-2h0m9 3h0m10-2h0m10 2h0m10-2h0m10 2h0m10-2h0m10 2h0m10-2h0m10 2h0m10-2h0m10 2h0m10-2h0m10 1h0m10-1h0m9 3h0m1-2h0m9-2h0m10 1h0m0 2h0m10-4h0m0 4h0m10-4h0m0 2h0m10 0h0m0 2h0m9-1h0m0 1h0m1-4h0m-327 6h0m0 1h0m0 1h0m0 1h0m10-2h0m0 2h0m0 1h0m10-4h0m0 4h0m0 1h0m10-2h0m10-3h0m0 4h0m19-2h0m10-1h0m10 3h0m10-3h0m10 3h0m10-2h0m10 2h0m10-2h0m9 2h0m10-2h0m10 2h0m10-2h0m10 2h0m10-2h0m10 2h0m10-2h0m10 1h0m10-2h0m10 1h0m0 3h0m10-5h0m10 1h0m0 3h0m9 0h0m10-4h0m0 2h0m10 1h0m0 2h0m10-4h0m0 4h0m10-5h0m0 2h0m0 3h0m9-1h0m0 1h0m1-4h0m0 1h0m9-2h0m0 0h0m-316 6h0m9 2h0m0 2h0m10 0h0m1-4h0m9 4h0m10-3h0m0 4h0m10-4h0m10 3h0m10-2h0m10 3h0m10-2h0m10 2h0m10-2h0m9 2h0m10-3h0m10 2h0m10-2h0m10 1h0m10-2h0m10 2h0m10-2h0m10 1h0m0 3h0m10-5h0m10 1h0m0 3h0m9 0h0m10-2h0m1-2h0m9 2h0m0 2h0m10-4h0m0 4h0m10-3h0m0 1h0m0 3h0m10-3h0m0 2h0m10-4h0m0 3h0m0 1h0m10-4h0m0 3h0m-279 6h0m1-3h0m9 5h0m1-5h0m9 4h0m10 1h0m1-3h0m10 0h0m9 3h0m10-2h0m10 2h0m10-2h0m10 1h0m10-2h0m10 1h0m10-1h0m10 1h0m0 2h0m10-4h0m10 1h0m0 2h0m9 1h0m1-5h0m10 1h0m0 3h0m9 0h0m10-2h0m1-2h0m9 2h0m0 2h0m10-4h0m0 4h0m10-4h0m0 2h0m0 3h0m10-3h0m0 1h0m10-3h0m0 3h0m10-2h0m10 0h0m-250 6h0m10 0h0m10 4h0m11-2h0m10-1h0m9 2h0m11-2h0m9 2h0m11-2h0m9 0h0m0 3h0m11-5h0m9 1h0m0 3h0m10 0h0m10-4h0m0 3h0m10 0h0m10-1h0m10 0h0m0 3h0m10-4h0m0 4h0m10-4h0m0 2h0m10-1h0m10-2h0m-191 6h0m10 2h0m11-2h0m9 3h0m11-1h0m9 1h0m11-2h0m9 3h0m1-3h0m9 4h0m10-3h0m1-2h0m9 3h0m10-2h0m10 0h0m10-1h0m10 0h0m-121 6h0m11 0h0m9 2h0m11-2h0m10 0h0" stroke="#111" stroke-width="8"/><path d="M1647 549h0m20-1h0m20 1h0m19 1h0m-108 6h0m10-2h0m10-1h0m0 3h0m9-5h0m10 1h0m0 3h0m20-4h0m0 5h0m20-5h0m0 5h0m20-4h0m19 1h0m10-2h0m10 3h0m10-1h0m10 2h0m10-2h0m10 2h0m10-2h0m10 3h0m10-2h0m10 2h0m10-2h0m10 2h0m10-2h0m10 2h0m10-2h0m10 1h0m10-1h0m9 0h0m10-1h0m10 1h0m0 2h0m10 0h0m-337 3h0m0 3h0m1-2h0m0 1h0m0 0h0m0 1h0m9-5h0m0 3h0m0 1h0m10-4h0m0 2h0m0 3h0m10-1h0m10-4h0m0 3h0m19-2h0m0 4h0m20-4h0m20 1h0m10-2h0m10 3h0m10-2h0m9 3h0m10-2h0m10 2h0m10-2h0m10 2h0m10-2h0m10 2h0m10-2h0m10 2h0m10-2h0m10 2h0m10-2h0m10 1h0m10-1h0m9 3h0m1-2h0m9-2h0m10 1h0m0 2h0m10-4h0m0 4h0m10-4h0m0 2h0m10 0h0m0 2h0m9-1h0m0 1h0m1-4h0m-327 6h0m0 1h0m0 1h0m0 1h0m10-2h0m0 2h0m0 1h0m10-4h0m0 4h0m0 1h0m10-2h0m10-3h0m0 4h0m19-2h0m10-1h0m10 3h0m10-3h0m10 3h0m10-2h0m10 2h0m10-2h0m9 2h0m10-2h0m10 2h0m10-2h0m10 2h0m10-2h0m10 2h0m10-2h0m10 1h0m10-2h0m10 1h0m0 3h0m10-5h0m10 1h0m0 3h0m9 0h0m10-4h0m0 2h0m10 1h0m0 2h0m10-4h0m0 4h0m10-5h0m0 2h0m0 3h0m9-1h0m0 1h0m1-4h0m0 1h0m9-2h0m0 0h0m-316 6h0m9 2h0m0 2h0m10 0h0m1-4h0m9 4h0m10-3h0m0 4h0m10-4h0m10 3h0m10-2h0m10 3h0m10-2h0m10 2h0m10-2h0m9 2h0m10-3h0m10 2h0m10-2h0m10 1h0m10-2h0m10 2h0m10-2h0m10 1h0m0 3h0m10-5h0m10 1h0m0 3h0m9 0h0m10-2h0m1-2h0m9 2h0m0 2h0m10-4h0m0 4h0m10-3h0m0 1h0m0 3h0m10-3h0m0 2h0m10-4h0m0 3h0m0 1h0m10-4h0m0 3h0m-279 6h0m1-3h0m9 5h0m1-5h0m9 4h0m10 1h0m1-3h0m10 0h0m9 3h0m10-2h0m10 2h0m10-2h0m10 1h0m10-2h0m10 1h0m10-1h0m10 1h0m0 2h0m10-4h0m10 1h0m0 2h0m9 1h0m1-5h0m10 1h0m0 3h0m9 0h0m10-2h0m1-2h0m9 2h0m0 2h0m10-4h0m0 4h0m10-4h0m0 2h0m0 3h0m10-3h0m0 1h0m10-3h0m0 3h0m10-2h0m10 0h0m-250 6h0m10 0h0m10 4h0m11-2h0m10-1h0m9 2h0m11-2h0m9 2h0m11-2h0m9 0h0m0 3h0m11-5h0m9 1h0m0 3h0m10 0h0m10-4h0m0 3h0m10 0h0m10-1h0m10 0h0m0 3h0m10-4h0m0 4h0m10-4h0m0 2h0m10-1h0m10-2h0m-191 6h0m10 2h0m11-2h0m9 3h0m11-1h0m9 1h0m11-2h0m9 3h0m1-3h0m9 4h0m10-3h0m1-2h0m9 3h0m10-2h0m10 0h0m10-1h0m10 0h0m-121 6h0m11 0h0m9 2h0m11-2h0m10 0h0" stroke="#4a4a4a" stroke-width="3.4"/></g>
<ellipse cx="907.9" cy="292.3" rx="2.3" ry="1.6" fill="#8f8a25"/><ellipse cx="839" cy="283.8" rx="2.3" ry="1.6" fill="#8f8a25"/><ellipse cx="928.3" cy="283.9" rx="2.3" ry="1.6" fill="#8f8a25"/><ellipse cx="833.8" cy="289" rx="2.3" ry="1.6" fill="#8f8a25"/><ellipse cx="903.4" cy="287.7" rx="2.3" ry="1.6" fill="#8f8a25"/><ellipse cx="888.5" cy="278.1" rx="2.3" ry="1.6" fill="#8f8a25"/>
<ellipse cx="863.8" cy="283.1" rx="2.3" ry="1.6" fill="#3fe3f0"/>
<g transform="scale(.5)" fill="none" stroke-linecap="round"><path d="M1601 823l-7 6l0 0l6-8l7-7l1 2l-7 7l0 2l-7 5l0 1l8-4l1 2l-8 3l0 0l9-1l0 2l-9 1l0 0l10 1l10 0l-1-2l-10 0m-3-8l8-4l1 2l-8 4m1 2l9-2l0 2l-8 2m3-17l8-6l11-2l1 3l-10 4l-9 3m1 5l9-5l-1-3m-7 10l10-2l1 3l-9 3m0 2l10 0l1 2l-9 2m1 2l10 1l10-1l-1-3l-11-1m-5-15l11-1l1 3l-10 3m1 3l11-1l0 3l-10 3m4-23l11-4l12-1l1 4l-11 3l-12 1m2 6l11-4l-1-3m-9 10l11 0l1 3l-10 2m0 3l12 1l0 3l-10 2m1 3l11 1l10-2l-1-4l-11 0m-4-19l11 0l1 3l-11 4m1 3l11 0l1 3l-10 3m5-26l11-3l11-1l1 4l-11 3l-11 1m1 6l11-3l-1-4m-9 10l11 0l0 4l-10 3m1 3l11 0l0 4l-10 2m1 4l11 0l10-2l-1-3l-11-1m-3-20l11 0l0 3l-10 3m0 4l12 0l0 4l-10 2m6-27l11-3l11-1l1 4l-11 4l-11 0m1 7l10-3l0-4m-10 10l11 1l1 3l-10 3m0 4l11 1l1 3l-11 3m1 3l11 1l10-1l-1-4l-10-2m-4-21l12 0l0 4l-11 3m1 3l11 1l0 4l-10 3m7-30l11-3l11 0l1 4l-11 4l-11-1m1 8l10-3l0-4m-10 11l11 1l0 4l-10 2m0 4l11 2l1 4l-11 2m1 4l10 2l11-2l-1-4l-10-2m-3-24l11 0l1 4l-11 4m0 4l11 1l1 4l-11 3m8-32l11-5l11 1l1 4l-11 4l-11 0m0 8l11-3l0-5m-10 12l11 2l0 4l-11 3m1 4l10 2l1 4l-11 3m1 4l10 2l10-2l0-4l-10-3m-2-26l11 1l0 4l-10 4m0 4l11 2l0 4l-11 3m9-35l11-4l12 0l0 5l-11 4l-11-1m0 10l11-4l0-5m-11 13l11 2l0 5l-10 3m0 4l11 2l0 5l-11 3m0 4l11 3l10-2l0-5l-10-3m-1-29l11 1l0 5l-11 4m0 5l11 2l0 5l-10 2m10-38l11-4l11 1l0 6l-11 4l-11-2m0 10l11-3l0-5m-11 13l11 2l0 6l-11 3m0 5l11 2l0 5l-11 3m0 5l11 3l10-3l0-5l-10-3m0-31l11 1l0 6l-11 3m0 6l11 2l-1 5l-10 3m10-3l11 2l0 5l-11 4m0 5l11 2l10-3l0-6l-10-2m-10-45l11-4l11 2l0 6l-11 3l-11-1m0 10l11-3l0-6m-11 15l11 2l-1 5l-10 4m10-4l11 2l0 5l-11 4m1-27l11 2l-1 5l-10 4m9 23l11-3l0-5l-10-3m-1 17l10 2l11-4l0-5l-10-2m-10-24l11 2l0 6l-11 3m1-33l12-3l11 2l0 5l-12 4l-11-2m0 11l11-4l0-5m-2 33l11-4l1-5l-11-2m0-6l11-3l1-6l-11-2m8 35l11-3l1-6l-11-2m-1 16l10 2l11-3l0-5l-10-2m-9-24l11 2l0 6l-11 3m1-17l11-2l1-6l-11-3m0-5l11-2l11 4l0 5l-11 1m-3 32l10-2l1-5l-10-3m0-6l11-2l1-5l-11-3m7 34l11-2l1-5l-11-3m-1 15l10 2l11-3l0-4l-10-2m-9-13l11-2l0-4l-10-5m1-5l11 0l0-5l-10-5m0-5l11 1l10 6l0 5l-11-2m-3 29l10-2l1-4l-10-4m0-4l11-1l1-4l-10-5m6 31l11-2l0-3l-10-4m-1 13l10 2l10-2l0-3l-9-3m-9-11l10 0l1-4l-10-5m1-4l10 2l0-4l-9-6m0-5l10 3l9 8l0 4l-10-4m-3 23l10 0l1-4l-10-4m1-4l10 2l0-3l-9-6m6 25l11-1l0-2l-10-3m-1 9l10 1l10-1l0-2l-9-2m-9-9l9 2l1-3l-9-5m0-3l9 3l1-2l-9-7m0-4l9 6l9 7l0 2l-9-4m-2 10l10 3l0 2l-10 0m1-13l10 6l-1 1l-9-2m8 12l10-1l1-1l-10-2m-1 6l10-1l10-1l0 0l-10-1m-9-9l10 4l0 2l-10-2m1-11l10 5l9 7l0 0l-10-4l-9-6m0 4l9 3l0-1m0 1l10 4l0 1l-10-3m0 2l10 2l0 0l-10 0" stroke="#1a1a1a" stroke-width="2.8" stroke-linecap="butt"/><path d="M1771 778h0m11 1h0m11-4h0m11 2h0m12-3h0m11 2h0m11-2h0m11 4h0m11 1h0m-134 6h0m22-3h0m12 0h0m22 3h0m22-2h0m11 2h0m12-4h0m11 3h0m11-1h0m21 2h0m-166 5h0m11 0h0m22-4h0m1 4h0m11 1h0m11-4h0m11 2h0m22-3h0m22 4h0m22 0h0m22-2h0m11 2h0m10-2h0m-209 9h0m11-3h0m11-1h0m1 4h0m22-3h0m11 0h0m22 2h0m11 1h0m11-3h0m11 1h0m11-3h0m11 2h0m22-2h0m22 1h0m11 0h0m20 3h0m10 0h0m-252 6h0m12-1h0m11-3h0m12 3h0m11 0h0m22-3h0m0 4h0m11 0h0m11-3h0m11 1h0m22 2h0m22-1h0m11 2h0m10-4h0m11 2h0m11-3h0m11 2h0m11-2h0m10 5h0m11-1h0m1-4h0m10 2h0m10 0h0m9 2h0m-283 6h0m11-2h0m1 3h0m12-1h0m11-3h0m11-1h0m1 4h0m11 0h0m10-3h0m12 0h0m0 4h0m22-3h0m11 2h0m10-4h0m11 2h0m22-2h0m21 4h0m22-1h0m11 2h0m11-3h0m10 3h0m11-2h0m21 0h0m10-1h0m0 3h0m9 0h0m1-2h0m9 2h0m-300 5h0m10-1h0m12 2h0m11-4h0m11 0h0m1 3h0m11 0h0m10-3h0m11 1h0m1 3h0m21-5h0m0 4h0m11 1h0m11-3h0m11 2h0m10-3h0m11 2h0m11-3h0m11 2h0m21-2h0m0 5h0m21-1h0m21 0h0m21 1h0m1-4h0m10 0h0m10 4h0m10-1h0m10-3h0m0 4h0m10-1h0m-317 7h0m8-5h0m1 5h0m9-5h0m2 5h0m10-3h0m11 0h0m1 3h0m11 0h0m10-3h0m12 0h0m21-2h0m0 4h0m22-1h0m10 2h0m11-3h0m11 2h0m10-2h0m11 2h0m10-3h0m11 2h0m21-1h0m22-2h0m21 1h0m20 2h0m10 0h0m10-2h0m10-1h0m0 4h0m10-3h0m0 1h0m0 2h0m10 1h0m0 0h0m-325 2h0m0 2h0m1 2h0m8-4h0m2 4h0m9-3h0m11-1h0m0 3h0m12 1h0m10-3h0m11 0h0m10-2h0m11 1h0m1 3h0m20-4h0m1 4h0m21-1h0m21 0h0m21 0h0m21-1h0m10 2h0m11-3h0m10 2h0m11-3h0m10 2h0m11-2h0m10 2h0m11-2h0m9 3h0m11-3h0m0 2h0m9 2h0m1-4h0m9 3h0m0 2h0m1-5h0m0 2h0m9 2h0m0 0h0m1-4h0m0 1h0m0 1h0m0 0h0m-332 5h0m0 0h0m0 1h0m0 1h0m1 1h0m0 0h0m8-3h0m1 2h0m0 2h0m8-4h0m2 4h0m8-4h0m1 2h0m11 1h0m10-2h0m11 0h0m10-2h0m11 1h0m1 3h0m11 1h0m9-5h0m1 4h0m20-4h0m1 4h0m20-4h0m0 4h0m21-4h0m0 5h0m21-5h0m0 5h0m21-1h0m21-2h0m10 2h0m11-3h0m10 2h0m11-3h0m10 2h0m10-2h0m10 1h0m10-1h0m-310 6h0m0 0h0m10 1h0m10 0h0m10 1h0m10-1h0m11 1h0m10-2h0m11 0h0m41 0h0m21 0h0m21 1h0m21 1h0m21-1h0m20-1h0" stroke="#111" stroke-width="8"/><path d="M1770 777h0m11 1h0m11-4h0m11 2h0m12-3h0m11 2h0m11-2h0m11 4h0m11 1h0m-134 6h0m22-3h0m12 0h0m22 3h0m22-2h0m11 2h0m12-4h0m11 3h0m11-1h0m21 2h0m-166 5h0m11 0h0m22-4h0m1 4h0m11 1h0m11-4h0m11 2h0m22-3h0m22 4h0m22 0h0m22-2h0m11 2h0m10-2h0m-209 9h0m11-3h0m11-1h0m1 4h0m22-3h0m11 0h0m22 2h0m11 1h0m11-3h0m11 1h0m11-3h0m11 2h0m22-2h0m22 1h0m11 0h0m20 3h0m10 0h0m-252 6h0m12-1h0m11-3h0m12 3h0m11 0h0m22-3h0m0 4h0m11 0h0m11-3h0m11 1h0m22 2h0m22-1h0m11 2h0m10-4h0m11 2h0m11-3h0m11 2h0m11-2h0m10 5h0m11-1h0m1-4h0m10 2h0m10 0h0m9 2h0m-283 6h0m11-2h0m1 3h0m12-1h0m11-3h0m11-1h0m1 4h0m11 0h0m10-3h0m12 0h0m0 4h0m22-3h0m11 2h0m10-4h0m11 2h0m22-2h0m21 4h0m22-1h0m11 2h0m11-3h0m10 3h0m11-2h0m21 0h0m10-1h0m0 3h0m9 0h0m1-2h0m9 2h0m-300 5h0m10-1h0m12 2h0m11-4h0m11 0h0m1 3h0m11 0h0m10-3h0m11 1h0m1 3h0m21-5h0m0 4h0m11 1h0m11-3h0m11 2h0m10-3h0m11 2h0m11-3h0m11 2h0m21-2h0m0 5h0m21-1h0m21 0h0m21 1h0m1-4h0m10 0h0m10 4h0m10-1h0m10-3h0m0 4h0m10-1h0m-317 7h0m8-5h0m1 5h0m9-5h0m2 5h0m10-3h0m11 0h0m1 3h0m11 0h0m10-3h0m12 0h0m21-2h0m0 4h0m22-1h0m10 2h0m11-3h0m11 2h0m10-2h0m11 2h0m10-3h0m11 2h0m21-1h0m22-2h0m21 1h0m20 2h0m10 0h0m10-2h0m10-1h0m0 4h0m10-3h0m0 1h0m0 2h0m10 1h0m0 0h0m-325 2h0m0 2h0m1 2h0m8-4h0m2 4h0m9-3h0m11-1h0m0 3h0m12 1h0m10-3h0m11 0h0m10-2h0m11 1h0m1 3h0m20-4h0m1 4h0m21-1h0m21 0h0m21 0h0m21-1h0m10 2h0m11-3h0m10 2h0m11-3h0m10 2h0m11-2h0m10 2h0m11-2h0m9 3h0m11-3h0m0 2h0m9 2h0m1-4h0m9 3h0m0 2h0m1-5h0m0 2h0m9 2h0m0 0h0m1-4h0m0 1h0m0 1h0m0 0h0m-332 5h0m0 0h0m0 1h0m0 1h0m1 1h0m0 0h0m8-3h0m1 2h0m0 2h0m8-4h0m2 4h0m8-4h0m1 2h0m11 1h0m10-2h0m11 0h0m10-2h0m11 1h0m1 3h0m11 1h0m9-5h0m1 4h0m20-4h0m1 4h0m20-4h0m0 4h0m21-4h0m0 5h0m21-5h0m0 5h0m21-1h0m21-2h0m10 2h0m11-3h0m10 2h0m11-3h0m10 2h0m10-2h0m10 1h0m10-1h0m-310 6h0m0 0h0m10 1h0m10 0h0m10 1h0m10-1h0m11 1h0m10-2h0m11 0h0m41 0h0m21 0h0m21 1h0m21 1h0m21-1h0m20-1h0" stroke="#4a4a4a" stroke-width="3.4"/></g>
<ellipse cx="962.8" cy="412.2" rx="2.3" ry="1.6" fill="#8f8a25"/><ellipse cx="812.6" cy="418.2" rx="2.3" ry="1.6" fill="#8f8a25"/><ellipse cx="944.6" cy="398.2" rx="2.3" ry="1.6" fill="#8f8a25"/><ellipse cx="948.2" cy="408.4" rx="2.3" ry="1.6" fill="#8f8a25"/>
<ellipse cx="944.4" cy="399.8" rx="2.3" ry="1.6" fill="#3fe3f0"/><ellipse cx="809" cy="407.9" rx="2.3" ry="1.6" fill="#3fe3f0"/><ellipse cx="906.7" cy="408.8" rx="2.3" ry="1.6" fill="#3fe3f0"/>
<path d="M407.5 35C407.2 38.3 406.2 48.3 405.5 55C404.8 61.7 403.8 68.7 403 75C402.2 81.3 401.3 90 401 93" fill="none" stroke="#b86a6a" stroke-width="4.0" stroke-dasharray="0.6 1.4" opacity="0.55"/><path d="M407.5 35C407.2 38.3 406.2 48.3 405.5 55C404.8 61.7 403.8 68.7 403 75C402.2 81.3 401.3 90 401 93" fill="none" stroke="#3f8ea8" stroke-width="3.4" stroke-dasharray="1 1"/>
<path d="M462.8 32.2C461.8 36.2 457.4 49.4 456.8 56.2C456.2 63 457.8 67.8 459.2 73C460.6 78.1 464 83.3 465.2 87.3C466.4 91.3 466.2 95.3 466.4 96.9M491.5 33.4C488.9 36 481.8 45.4 476 49C470.2 52.6 460 54 456.8 55M472.4 70.6C471.4 74.1 467.8 85.7 466.4 92.1C465 98.5 464.4 106.1 464 108.9M478.4 88.5C477.2 91.1 474 97.9 471.2 104.1C468.4 110.3 463.2 122.1 461.6 125.7M504.7 34.6C505.5 39.4 507.5 56.4 509.5 63.4C511.5 70.4 515.5 74.3 516.7 76.5M511.9 34.6C511.9 37.8 510.3 46 511.9 53.8C513.5 61.6 519.9 76.7 521.5 81.3M523.9 38.2C523.5 41.6 522.3 51.6 521.5 58.6C520.7 65.6 519.5 76.5 519.1 80.1M529.9 46.6C526.5 49 515.7 53.8 509.5 61C503.3 68.2 495.5 84.9 492.7 89.7M492.7 81.3C496.7 83.1 509.5 88.7 516.7 92.1C523.9 95.5 529.9 96.5 535.9 101.7C541.9 106.9 549.9 119.7 552.7 123.3M516.7 87.3C515.9 89.7 513.5 96.1 511.9 101.7C510.3 107.3 507.9 117.7 507.1 120.9M532.3 61C533.7 63.8 537.3 72.2 540.7 77.7C544.1 83.3 550.7 91.7 552.7 94.5M543.1 44.2C545.1 47.8 551.5 59.8 555.1 65.8C558.7 71.8 560.7 74.1 564.7 80.1C568.7 86.1 576.7 98.1 579.1 101.7M564.7 51.4C563.5 55 559.5 67 557.5 73C555.5 78.9 553.5 84.9 552.7 87.3M559.9 75.3C562.3 76.1 569.9 78.3 574.3 80.1C578.7 81.9 584.2 85.1 586.2 86.1M559.9 78.9C561.5 80.3 566.3 83.9 569.5 87.3C572.7 90.7 577.5 97.3 579.1 99.3M610.2 61C609 64.2 605 73 603 80.1C601 87.3 599 100.1 598.2 104.1M610.2 62.2C611.4 64.4 614.8 72 617.4 75.3C620 78.7 624.4 81.3 625.8 82.5M579.1 96.9C575.1 100.1 559.9 111.3 555.1 116.1C550.3 120.9 551.1 124.1 550.3 125.7" fill="none" stroke="#b86a6a" stroke-width="3.0" stroke-dasharray="0.6 1.4" opacity="0.55"/><path d="M462.8 32.2C461.8 36.2 457.4 49.4 456.8 56.2C456.2 63 457.8 67.8 459.2 73C460.6 78.1 464 83.3 465.2 87.3C466.4 91.3 466.2 95.3 466.4 96.9M491.5 33.4C488.9 36 481.8 45.4 476 49C470.2 52.6 460 54 456.8 55M472.4 70.6C471.4 74.1 467.8 85.7 466.4 92.1C465 98.5 464.4 106.1 464 108.9M478.4 88.5C477.2 91.1 474 97.9 471.2 104.1C468.4 110.3 463.2 122.1 461.6 125.7M504.7 34.6C505.5 39.4 507.5 56.4 509.5 63.4C511.5 70.4 515.5 74.3 516.7 76.5M511.9 34.6C511.9 37.8 510.3 46 511.9 53.8C513.5 61.6 519.9 76.7 521.5 81.3M523.9 38.2C523.5 41.6 522.3 51.6 521.5 58.6C520.7 65.6 519.5 76.5 519.1 80.1M529.9 46.6C526.5 49 515.7 53.8 509.5 61C503.3 68.2 495.5 84.9 492.7 89.7M492.7 81.3C496.7 83.1 509.5 88.7 516.7 92.1C523.9 95.5 529.9 96.5 535.9 101.7C541.9 106.9 549.9 119.7 552.7 123.3M516.7 87.3C515.9 89.7 513.5 96.1 511.9 101.7C510.3 107.3 507.9 117.7 507.1 120.9M532.3 61C533.7 63.8 537.3 72.2 540.7 77.7C544.1 83.3 550.7 91.7 552.7 94.5M543.1 44.2C545.1 47.8 551.5 59.8 555.1 65.8C558.7 71.8 560.7 74.1 564.7 80.1C568.7 86.1 576.7 98.1 579.1 101.7M564.7 51.4C563.5 55 559.5 67 557.5 73C555.5 78.9 553.5 84.9 552.7 87.3M559.9 75.3C562.3 76.1 569.9 78.3 574.3 80.1C578.7 81.9 584.2 85.1 586.2 86.1M559.9 78.9C561.5 80.3 566.3 83.9 569.5 87.3C572.7 90.7 577.5 97.3 579.1 99.3M610.2 61C609 64.2 605 73 603 80.1C601 87.3 599 100.1 598.2 104.1M610.2 62.2C611.4 64.4 614.8 72 617.4 75.3C620 78.7 624.4 81.3 625.8 82.5M579.1 96.9C575.1 100.1 559.9 111.3 555.1 116.1C550.3 120.9 551.1 124.1 550.3 125.7" fill="none" stroke="#3f8ea8" stroke-width="2.4" stroke-dasharray="1 1"/>
<path d="M809.9 30.5C810.2 33.9 813.3 45.4 811.9 51C810.6 56.7 803.4 62.1 801.7 64.4M816 30.5C816.2 33.9 817.7 44.5 817.1 51C816.4 57.5 812.8 66.4 811.9 69.5M818.5 32.6C818.7 36 820.5 46.9 819.7 53.1C818.9 59.2 814.6 66.8 813.6 69.5M842.7 44.9C841.7 46.6 839.6 51.9 836.5 55.1C833.5 58.4 826.3 62.8 824.2 64.4M861.2 40.8C861.8 43.5 864.9 51.7 865.3 57.2C865.6 62.6 863.5 70.9 863.2 73.6M840.6 46.9C841.3 49.7 842.7 58.2 844.7 63.3C846.8 68.5 851.6 75.3 852.9 77.7M891.9 40.8C892.3 43.8 894 53.4 894 59.2C894 65 892.3 72.9 891.9 75.6M895 40.8C895.5 43.2 898.9 49 898.1 55.1C897.2 61.3 891.2 73.9 889.9 77.7M898.1 46.9C900.8 48.6 909.4 54.3 914.5 57.2C919.6 60.1 926.5 63.2 928.8 64.4M935 36.7C933.3 40.4 929.5 51.4 924.7 59.2C920 67.1 909.4 79.7 906.3 83.8M945.3 36.7C945.6 40.8 948.3 53.6 947.3 61.3C946.3 69 940.5 79.2 939.1 82.8M869.4 42.8C872.8 46.2 886.1 57.9 889.9 63.3C893.6 68.8 891.6 73.6 891.9 75.6M811.9 120.8C812.6 124.2 816 134.1 816 141.3C816 148.5 812.6 160.1 811.9 163.8M813.6 127.9C814.5 130.9 818.7 139.7 819.1 145.4C819.5 151 816.5 159.1 816 161.8M855 122.8C853.6 126.2 849.2 136.2 846.8 143.3C844.4 150.5 841.7 162.1 840.6 165.9M863.2 118.7C863.5 121.5 865.6 129.7 865.3 135.1C864.9 140.6 861.8 148.8 861.2 151.5M879.6 102.3C880 105.4 880 115 881.7 120.8C883.4 126.6 888.5 134.4 889.9 137.2M881.7 102.3C882 105.4 882 115 883.7 120.8C885.4 126.6 890.6 134.4 891.9 137.2M898.1 122.8C896.7 126.2 894.3 136.5 889.9 143.3C885.4 150.2 874.5 160.4 871.4 163.8M909.4 103.3C910.6 105.6 915.7 111 916.5 116.7C917.4 122.3 914.8 133.8 914.5 137.2M935 136.2C932.3 137.7 925.4 140.1 918.6 145.4C911.8 150.7 898.1 164.2 894 167.9M942.2 112.6C943.4 115.6 948.5 123.5 949.4 131C950.2 138.5 947.6 153.2 947.3 157.7" fill="none" stroke="#b86a6a" stroke-width="3.0" stroke-dasharray="0.6 1.4" opacity="0.55"/><path d="M809.9 30.5C810.2 33.9 813.3 45.4 811.9 51C810.6 56.7 803.4 62.1 801.7 64.4M816 30.5C816.2 33.9 817.7 44.5 817.1 51C816.4 57.5 812.8 66.4 811.9 69.5M818.5 32.6C818.7 36 820.5 46.9 819.7 53.1C818.9 59.2 814.6 66.8 813.6 69.5M842.7 44.9C841.7 46.6 839.6 51.9 836.5 55.1C833.5 58.4 826.3 62.8 824.2 64.4M861.2 40.8C861.8 43.5 864.9 51.7 865.3 57.2C865.6 62.6 863.5 70.9 863.2 73.6M840.6 46.9C841.3 49.7 842.7 58.2 844.7 63.3C846.8 68.5 851.6 75.3 852.9 77.7M891.9 40.8C892.3 43.8 894 53.4 894 59.2C894 65 892.3 72.9 891.9 75.6M895 40.8C895.5 43.2 898.9 49 898.1 55.1C897.2 61.3 891.2 73.9 889.9 77.7M898.1 46.9C900.8 48.6 909.4 54.3 914.5 57.2C919.6 60.1 926.5 63.2 928.8 64.4M935 36.7C933.3 40.4 929.5 51.4 924.7 59.2C920 67.1 909.4 79.7 906.3 83.8M945.3 36.7C945.6 40.8 948.3 53.6 947.3 61.3C946.3 69 940.5 79.2 939.1 82.8M869.4 42.8C872.8 46.2 886.1 57.9 889.9 63.3C893.6 68.8 891.6 73.6 891.9 75.6M811.9 120.8C812.6 124.2 816 134.1 816 141.3C816 148.5 812.6 160.1 811.9 163.8M813.6 127.9C814.5 130.9 818.7 139.7 819.1 145.4C819.5 151 816.5 159.1 816 161.8M855 122.8C853.6 126.2 849.2 136.2 846.8 143.3C844.4 150.5 841.7 162.1 840.6 165.9M863.2 118.7C863.5 121.5 865.6 129.7 865.3 135.1C864.9 140.6 861.8 148.8 861.2 151.5M879.6 102.3C880 105.4 880 115 881.7 120.8C883.4 126.6 888.5 134.4 889.9 137.2M881.7 102.3C882 105.4 882 115 883.7 120.8C885.4 126.6 890.6 134.4 891.9 137.2M898.1 122.8C896.7 126.2 894.3 136.5 889.9 143.3C885.4 150.2 874.5 160.4 871.4 163.8M909.4 103.3C910.6 105.6 915.7 111 916.5 116.7C917.4 122.3 914.8 133.8 914.5 137.2M935 136.2C932.3 137.7 925.4 140.1 918.6 145.4C911.8 150.7 898.1 164.2 894 167.9M942.2 112.6C943.4 115.6 948.5 123.5 949.4 131C950.2 138.5 947.6 153.2 947.3 157.7" fill="none" stroke="#3f8ea8" stroke-width="2.4" stroke-dasharray="1 1"/><circle cx="795.1" cy="64.5" r="1.9800000000000002" fill="#cc55e0"/><circle cx="799.6" cy="64.3" r="2.3400000000000003" fill="#4ccf3c"/><circle cx="804.1" cy="65" r="1.9800000000000002" fill="#cc55e0"/><circle cx="798.2" cy="66.1" r="1.9800000000000002" fill="#cc55e0"/><circle cx="807.5" cy="69.5" r="1.9800000000000002" fill="#cc55e0"/><circle cx="812" cy="69.3" r="2.3400000000000003" fill="#4ccf3c"/><circle cx="816.5" cy="70" r="1.9800000000000002" fill="#cc55e0"/><circle cx="810.6" cy="71.1" r="1.9800000000000002" fill="#cc55e0"/><circle cx="820.8" cy="64" r="1.9800000000000002" fill="#cc55e0"/><circle cx="825.3" cy="63.7" r="2.3400000000000003" fill="#4ccf3c"/><circle cx="829.8" cy="64.4" r="1.9800000000000002" fill="#cc55e0"/><circle cx="823.9" cy="65.5" r="1.9800000000000002" fill="#cc55e0"/><circle cx="852.5" cy="78.2" r="1.9800000000000002" fill="#cc55e0"/><circle cx="857" cy="78" r="2.3400000000000003" fill="#4ccf3c"/><circle cx="861.5" cy="78.7" r="1.9800000000000002" fill="#cc55e0"/><circle cx="855.6" cy="79.8" r="1.9800000000000002" fill="#cc55e0"/><circle cx="858.7" cy="74.8" r="1.9800000000000002" fill="#cc55e0"/><circle cx="863.2" cy="74.5" r="2.3400000000000003" fill="#4ccf3c"/><circle cx="867.7" cy="75.2" r="1.9800000000000002" fill="#cc55e0"/><circle cx="861.9" cy="76.3" r="1.9800000000000002" fill="#cc55e0"/><circle cx="884.3" cy="76.5" r="1.9800000000000002" fill="#cc55e0"/><circle cx="888.8" cy="76.3" r="2.3400000000000003" fill="#4ccf3c"/><circle cx="893.3" cy="77" r="1.9800000000000002" fill="#cc55e0"/><circle cx="887.4" cy="78.1" r="1.9800000000000002" fill="#cc55e0"/><circle cx="887.5" cy="83" r="1.9800000000000002" fill="#cc55e0"/><circle cx="892" cy="82.7" r="2.3400000000000003" fill="#4ccf3c"/><circle cx="896.5" cy="83.4" r="1.9800000000000002" fill="#cc55e0"/><circle cx="890.6" cy="84.5" r="1.9800000000000002" fill="#cc55e0"/><circle cx="902.8" cy="85" r="1.9800000000000002" fill="#cc55e0"/><circle cx="907.3" cy="84.8" r="2.3400000000000003" fill="#4ccf3c"/><circle cx="911.8" cy="85.5" r="1.9800000000000002" fill="#cc55e0"/><circle cx="905.9" cy="86.6" r="1.9800000000000002" fill="#cc55e0"/><circle cx="925.4" cy="64.5" r="1.9800000000000002" fill="#cc55e0"/><circle cx="929.9" cy="64.3" r="2.3400000000000003" fill="#4ccf3c"/><circle cx="934.4" cy="65" r="1.9800000000000002" fill="#cc55e0"/><circle cx="928.5" cy="66.1" r="1.9800000000000002" fill="#cc55e0"/><circle cx="934.5" cy="83.3" r="1.9800000000000002" fill="#cc55e0"/><circle cx="939" cy="83.1" r="2.3400000000000003" fill="#4ccf3c"/><circle cx="943.5" cy="83.8" r="1.9800000000000002" fill="#cc55e0"/><circle cx="937.6" cy="84.9" r="1.9800000000000002" fill="#cc55e0"/><circle cx="802.3" cy="118.6" r="1.9800000000000002" fill="#cc55e0"/><circle cx="806.8" cy="118.4" r="2.3400000000000003" fill="#4ccf3c"/><circle cx="811.3" cy="119.1" r="1.9800000000000002" fill="#cc55e0"/><circle cx="805.4" cy="120.2" r="1.9800000000000002" fill="#cc55e0"/><circle cx="807.5" cy="126.5" r="1.9800000000000002" fill="#cc55e0"/><circle cx="812" cy="126.2" r="2.3400000000000003" fill="#4ccf3c"/><circle cx="816.5" cy="126.9" r="1.9800000000000002" fill="#cc55e0"/><circle cx="810.6" cy="128" r="1.9800000000000002" fill="#cc55e0"/><circle cx="850.5" cy="121.3" r="1.9800000000000002" fill="#cc55e0"/><circle cx="855" cy="121.1" r="2.3400000000000003" fill="#4ccf3c"/><circle cx="859.5" cy="121.8" r="1.9800000000000002" fill="#cc55e0"/><circle cx="853.6" cy="122.9" r="1.9800000000000002" fill="#cc55e0"/><circle cx="857.7" cy="116.2" r="1.9800000000000002" fill="#cc55e0"/><circle cx="862.2" cy="116" r="2.3400000000000003" fill="#4ccf3c"/><circle cx="866.7" cy="116.7" r="1.9800000000000002" fill="#cc55e0"/><circle cx="860.9" cy="117.8" r="1.9800000000000002" fill="#cc55e0"/><circle cx="874.7" cy="99.8" r="1.9800000000000002" fill="#cc55e0"/><circle cx="879.2" cy="99.6" r="2.3400000000000003" fill="#4ccf3c"/><circle cx="883.7" cy="100.3" r="1.9800000000000002" fill="#cc55e0"/><circle cx="877.9" cy="101.4" r="1.9800000000000002" fill="#cc55e0"/><circle cx="893.2" cy="121.3" r="1.9800000000000002" fill="#cc55e0"/><circle cx="897.7" cy="121.1" r="2.3400000000000003" fill="#4ccf3c"/><circle cx="902.2" cy="121.8" r="1.9800000000000002" fill="#cc55e0"/><circle cx="896.4" cy="122.9" r="1.9800000000000002" fill="#cc55e0"/><circle cx="904.9" cy="101.8" r="1.9800000000000002" fill="#cc55e0"/><circle cx="909.4" cy="101.6" r="2.3400000000000003" fill="#4ccf3c"/><circle cx="913.9" cy="102.3" r="1.9800000000000002" fill="#cc55e0"/><circle cx="908" cy="103.4" r="1.9800000000000002" fill="#cc55e0"/><circle cx="930.5" cy="135.1" r="1.9800000000000002" fill="#cc55e0"/><circle cx="935" cy="134.8" r="2.3400000000000003" fill="#4ccf3c"/><circle cx="939.5" cy="135.5" r="1.9800000000000002" fill="#cc55e0"/><circle cx="933.6" cy="136.6" r="1.9800000000000002" fill="#cc55e0"/><circle cx="937.1" cy="112.1" r="1.9800000000000002" fill="#cc55e0"/><circle cx="941.6" cy="111.9" r="2.3400000000000003" fill="#4ccf3c"/><circle cx="946.1" cy="112.6" r="1.9800000000000002" fill="#cc55e0"/><circle cx="940.2" cy="113.7" r="1.9800000000000002" fill="#cc55e0"/><circle cx="750" cy="90.8" r="1.9800000000000002" fill="#cc55e0"/><circle cx="754.5" cy="90.6" r="2.3400000000000003" fill="#4ccf3c"/><circle cx="759" cy="91.3" r="1.9800000000000002" fill="#cc55e0"/><circle cx="753.1" cy="92.4" r="1.9800000000000002" fill="#cc55e0"/><path d="M812.9 281.5C813.2 284.9 816.3 296.4 814.9 302C813.6 307.7 806.4 313.1 804.7 315.4M819 281.5C819.2 284.9 820.7 295.5 820.1 302C819.4 308.5 815.8 317.4 814.9 320.5M821.5 283.6C821.7 287 823.5 297.9 822.7 304.1C821.9 310.2 817.6 317.8 816.6 320.5M845.7 295.9C844.7 297.6 842.6 302.9 839.5 306.1C836.5 309.4 829.3 313.8 827.2 315.4M864.2 291.8C864.8 294.5 867.9 302.7 868.3 308.2C868.6 313.6 866.5 321.9 866.2 324.6M843.6 297.9C844.3 300.7 845.7 309.2 847.7 314.3C849.8 319.5 854.6 326.3 855.9 328.7M894.9 291.8C895.3 294.8 897 304.4 897 310.2C897 316 895.3 323.9 894.9 326.6M898 291.8C898.5 294.2 901.9 300 901.1 306.1C900.2 312.3 894.2 324.9 892.9 328.7M901.1 297.9C903.8 299.6 912.4 305.3 917.5 308.2C922.6 311.1 929.5 314.2 931.8 315.4M938 287.7C936.3 291.4 932.5 302.4 927.7 310.2C923 318.1 912.4 330.7 909.3 334.8M948.3 287.7C948.6 291.8 951.3 304.6 950.3 312.3C949.3 320 943.5 330.2 942.1 333.8M872.4 293.8C875.8 297.2 889.1 308.9 892.9 314.3C896.6 319.8 894.6 324.6 894.9 326.6M821.9 368.8C822.6 372.2 826 382.1 826 389.3C826 396.5 822.6 408.1 821.9 411.8M823.6 375.9C824.5 378.9 828.7 387.7 829.1 393.4C829.5 399 826.5 407.1 826 409.8M865 370.8C863.6 374.2 859.2 384.2 856.8 391.3C854.4 398.5 851.7 410.1 850.6 413.9M873.2 366.7C873.5 369.5 875.6 377.7 875.3 383.1C874.9 388.6 871.8 396.8 871.2 399.5M889.6 350.3C890 353.4 890 363 891.7 368.8C893.4 374.6 898.5 382.4 899.9 385.2M891.7 350.3C892 353.4 892 363 893.7 368.8C895.4 374.6 900.6 382.4 901.9 385.2M908.1 370.8C906.7 374.2 904.3 384.5 899.9 391.3C895.4 398.2 884.5 408.4 881.4 411.8M919.4 351.3C920.6 353.6 925.7 359 926.5 364.7C927.4 370.3 924.8 381.8 924.5 385.2M945 384.2C942.3 385.7 935.4 388.1 928.6 393.4C921.8 398.7 908.1 412.2 904 415.9M952.2 360.6C953.4 363.6 958.5 371.5 959.4 379C960.2 386.5 957.6 401.2 957.3 405.7" fill="none" stroke="#b86a6a" stroke-width="3.0" stroke-dasharray="0.6 1.4" opacity="0.55"/><path d="M812.9 281.5C813.2 284.9 816.3 296.4 814.9 302C813.6 307.7 806.4 313.1 804.7 315.4M819 281.5C819.2 284.9 820.7 295.5 820.1 302C819.4 308.5 815.8 317.4 814.9 320.5M821.5 283.6C821.7 287 823.5 297.9 822.7 304.1C821.9 310.2 817.6 317.8 816.6 320.5M845.7 295.9C844.7 297.6 842.6 302.9 839.5 306.1C836.5 309.4 829.3 313.8 827.2 315.4M864.2 291.8C864.8 294.5 867.9 302.7 868.3 308.2C868.6 313.6 866.5 321.9 866.2 324.6M843.6 297.9C844.3 300.7 845.7 309.2 847.7 314.3C849.8 319.5 854.6 326.3 855.9 328.7M894.9 291.8C895.3 294.8 897 304.4 897 310.2C897 316 895.3 323.9 894.9 326.6M898 291.8C898.5 294.2 901.9 300 901.1 306.1C900.2 312.3 894.2 324.9 892.9 328.7M901.1 297.9C903.8 299.6 912.4 305.3 917.5 308.2C922.6 311.1 929.5 314.2 931.8 315.4M938 287.7C936.3 291.4 932.5 302.4 927.7 310.2C923 318.1 912.4 330.7 909.3 334.8M948.3 287.7C948.6 291.8 951.3 304.6 950.3 312.3C949.3 320 943.5 330.2 942.1 333.8M872.4 293.8C875.8 297.2 889.1 308.9 892.9 314.3C896.6 319.8 894.6 324.6 894.9 326.6M821.9 368.8C822.6 372.2 826 382.1 826 389.3C826 396.5 822.6 408.1 821.9 411.8M823.6 375.9C824.5 378.9 828.7 387.7 829.1 393.4C829.5 399 826.5 407.1 826 409.8M865 370.8C863.6 374.2 859.2 384.2 856.8 391.3C854.4 398.5 851.7 410.1 850.6 413.9M873.2 366.7C873.5 369.5 875.6 377.7 875.3 383.1C874.9 388.6 871.8 396.8 871.2 399.5M889.6 350.3C890 353.4 890 363 891.7 368.8C893.4 374.6 898.5 382.4 899.9 385.2M891.7 350.3C892 353.4 892 363 893.7 368.8C895.4 374.6 900.6 382.4 901.9 385.2M908.1 370.8C906.7 374.2 904.3 384.5 899.9 391.3C895.4 398.2 884.5 408.4 881.4 411.8M919.4 351.3C920.6 353.6 925.7 359 926.5 364.7C927.4 370.3 924.8 381.8 924.5 385.2M945 384.2C942.3 385.7 935.4 388.1 928.6 393.4C921.8 398.7 908.1 412.2 904 415.9M952.2 360.6C953.4 363.6 958.5 371.5 959.4 379C960.2 386.5 957.6 401.2 957.3 405.7" fill="none" stroke="#3f8ea8" stroke-width="2.4" stroke-dasharray="1 1"/><circle cx="798.1" cy="315.6" r="1.9800000000000002" fill="#cc55e0"/><circle cx="802.6" cy="315.3" r="2.3400000000000003" fill="#4ccf3c"/><circle cx="807.1" cy="316" r="1.9800000000000002" fill="#cc55e0"/><circle cx="801.2" cy="317.1" r="1.9800000000000002" fill="#cc55e0"/><circle cx="810.5" cy="320.6" r="1.9800000000000002" fill="#cc55e0"/><circle cx="815" cy="320.3" r="2.3400000000000003" fill="#4ccf3c"/><circle cx="819.5" cy="321" r="1.9800000000000002" fill="#cc55e0"/><circle cx="813.6" cy="322.1" r="1.9800000000000002" fill="#cc55e0"/><circle cx="823.8" cy="314.9" r="1.9800000000000002" fill="#cc55e0"/><circle cx="828.3" cy="314.7" r="2.3400000000000003" fill="#4ccf3c"/><circle cx="832.8" cy="315.4" r="1.9800000000000002" fill="#cc55e0"/><circle cx="826.9" cy="316.5" r="1.9800000000000002" fill="#cc55e0"/><circle cx="855.5" cy="329.2" r="1.9800000000000002" fill="#cc55e0"/><circle cx="860" cy="329" r="2.3400000000000003" fill="#4ccf3c"/><circle cx="864.5" cy="329.7" r="1.9800000000000002" fill="#cc55e0"/><circle cx="858.6" cy="330.8" r="1.9800000000000002" fill="#cc55e0"/><circle cx="861.7" cy="325.8" r="1.9800000000000002" fill="#cc55e0"/><circle cx="866.2" cy="325.5" r="2.3400000000000003" fill="#4ccf3c"/><circle cx="870.7" cy="326.2" r="1.9800000000000002" fill="#cc55e0"/><circle cx="864.9" cy="327.3" r="1.9800000000000002" fill="#cc55e0"/><circle cx="887.3" cy="327.6" r="1.9800000000000002" fill="#cc55e0"/><circle cx="891.8" cy="327.3" r="2.3400000000000003" fill="#4ccf3c"/><circle cx="896.3" cy="328" r="1.9800000000000002" fill="#cc55e0"/><circle cx="890.4" cy="329.1" r="1.9800000000000002" fill="#cc55e0"/><circle cx="890.5" cy="333.9" r="1.9800000000000002" fill="#cc55e0"/><circle cx="895" cy="333.7" r="2.3400000000000003" fill="#4ccf3c"/><circle cx="899.5" cy="334.4" r="1.9800000000000002" fill="#cc55e0"/><circle cx="893.6" cy="335.5" r="1.9800000000000002" fill="#cc55e0"/><circle cx="905.8" cy="336.1" r="1.9800000000000002" fill="#cc55e0"/><circle cx="910.3" cy="335.8" r="2.3400000000000003" fill="#4ccf3c"/><circle cx="914.8" cy="336.5" r="1.9800000000000002" fill="#cc55e0"/><circle cx="908.9" cy="337.6" r="1.9800000000000002" fill="#cc55e0"/><circle cx="928.4" cy="315.6" r="1.9800000000000002" fill="#cc55e0"/><circle cx="932.9" cy="315.3" r="2.3400000000000003" fill="#4ccf3c"/><circle cx="937.4" cy="316" r="1.9800000000000002" fill="#cc55e0"/><circle cx="931.5" cy="317.1" r="1.9800000000000002" fill="#cc55e0"/><circle cx="937.5" cy="334.4" r="1.9800000000000002" fill="#cc55e0"/><circle cx="942" cy="334.1" r="2.3400000000000003" fill="#4ccf3c"/><circle cx="946.5" cy="334.8" r="1.9800000000000002" fill="#cc55e0"/><circle cx="940.6" cy="335.9" r="1.9800000000000002" fill="#cc55e0"/><circle cx="812.3" cy="366.7" r="1.9800000000000002" fill="#cc55e0"/><circle cx="816.8" cy="366.4" r="2.3400000000000003" fill="#4ccf3c"/><circle cx="821.3" cy="367.1" r="1.9800000000000002" fill="#cc55e0"/><circle cx="815.4" cy="368.2" r="1.9800000000000002" fill="#cc55e0"/><circle cx="817.5" cy="374.4" r="1.9800000000000002" fill="#cc55e0"/><circle cx="822" cy="374.2" r="2.3400000000000003" fill="#4ccf3c"/><circle cx="826.5" cy="374.9" r="1.9800000000000002" fill="#cc55e0"/><circle cx="820.6" cy="376" r="1.9800000000000002" fill="#cc55e0"/><circle cx="860.5" cy="369.4" r="1.9800000000000002" fill="#cc55e0"/><circle cx="865" cy="369.1" r="2.3400000000000003" fill="#4ccf3c"/><circle cx="869.5" cy="369.8" r="1.9800000000000002" fill="#cc55e0"/><circle cx="863.6" cy="370.9" r="1.9800000000000002" fill="#cc55e0"/><circle cx="867.7" cy="364.2" r="1.9800000000000002" fill="#cc55e0"/><circle cx="872.2" cy="364" r="2.3400000000000003" fill="#4ccf3c"/><circle cx="876.7" cy="364.7" r="1.9800000000000002" fill="#cc55e0"/><circle cx="870.9" cy="365.8" r="1.9800000000000002" fill="#cc55e0"/><circle cx="884.7" cy="347.9" r="1.9800000000000002" fill="#cc55e0"/><circle cx="889.2" cy="347.6" r="2.3400000000000003" fill="#4ccf3c"/><circle cx="893.7" cy="348.3" r="1.9800000000000002" fill="#cc55e0"/><circle cx="887.9" cy="349.4" r="1.9800000000000002" fill="#cc55e0"/><circle cx="903.2" cy="369.4" r="1.9800000000000002" fill="#cc55e0"/><circle cx="907.7" cy="369.1" r="2.3400000000000003" fill="#4ccf3c"/><circle cx="912.2" cy="369.8" r="1.9800000000000002" fill="#cc55e0"/><circle cx="906.4" cy="370.9" r="1.9800000000000002" fill="#cc55e0"/><circle cx="914.9" cy="349.9" r="1.9800000000000002" fill="#cc55e0"/><circle cx="919.4" cy="349.6" r="2.3400000000000003" fill="#4ccf3c"/><circle cx="923.9" cy="350.3" r="1.9800000000000002" fill="#cc55e0"/><circle cx="918" cy="351.4" r="1.9800000000000002" fill="#cc55e0"/><circle cx="940.5" cy="383.1" r="1.9800000000000002" fill="#cc55e0"/><circle cx="945" cy="382.8" r="2.3400000000000003" fill="#4ccf3c"/><circle cx="949.5" cy="383.5" r="1.9800000000000002" fill="#cc55e0"/><circle cx="943.6" cy="384.6" r="1.9800000000000002" fill="#cc55e0"/><circle cx="947.1" cy="360.2" r="1.9800000000000002" fill="#cc55e0"/><circle cx="951.6" cy="359.9" r="2.3400000000000003" fill="#4ccf3c"/><circle cx="956.1" cy="360.6" r="1.9800000000000002" fill="#cc55e0"/><circle cx="950.2" cy="361.7" r="1.9800000000000002" fill="#cc55e0"/><path d="M850 313L848 303" stroke="#e08080" stroke-width="1.3"/><path d="M850 313L860 320" stroke="#5fd8e0" stroke-width="1.3"/><path d="M860 320L863 307.4" stroke="#5fd8e0" stroke-width="1.3"/><path d="M863 307.4L872 308" stroke="#70d040" stroke-width="1.3"/><circle cx="850" cy="313" r="2.2" fill="#e31a1a"/><circle cx="848" cy="303" r="1.8" fill="#d8e8ec"/><circle cx="863" cy="307.4" r="2.0" fill="#e6e619"/><circle cx="872" cy="308" r="1.7" fill="#2030e0"/><circle cx="860" cy="320" r="1.2" fill="#d8e8ec"/><path d="M903.6 322.4L905 312.4" stroke="#e08080" stroke-width="1.3"/><path d="M903.6 322.4L912 332" stroke="#5fd8e0" stroke-width="1.3"/><path d="M912 332L917.6 320.4" stroke="#5fd8e0" stroke-width="1.3"/><path d="M917.6 320.4L927 323.6" stroke="#70d040" stroke-width="1.3"/><circle cx="903.6" cy="322.4" r="2.2" fill="#e31a1a"/><circle cx="905" cy="312.4" r="1.8" fill="#d8e8ec"/><circle cx="917.6" cy="320.4" r="2.0" fill="#e6e619"/><circle cx="927" cy="323.6" r="1.7" fill="#2030e0"/><circle cx="912" cy="332" r="1.2" fill="#d8e8ec"/><path d="M937 302.4L940 294" stroke="#e08080" stroke-width="1.3"/><path d="M937 302.4L948 311" stroke="#5fd8e0" stroke-width="1.3"/><path d="M948 311L949 297" stroke="#5fd8e0" stroke-width="1.3"/><path d="M949 297L958 297.6" stroke="#70d040" stroke-width="1.3"/><path d="M941 319.6L948 311" stroke="#70d040" stroke-width="1.3"/><circle cx="937" cy="302.4" r="2.2" fill="#e31a1a"/><circle cx="940" cy="294" r="1.8" fill="#d8e8ec"/><circle cx="949" cy="297" r="2.0" fill="#e6e619"/><circle cx="958" cy="297.6" r="1.7" fill="#2030e0"/><circle cx="948" cy="311" r="1.2" fill="#d8e8ec"/><circle cx="941" cy="319.6" r="1.7" fill="#2030e0"/><path d="M814.9 344.2L812.7 334" stroke="#e08080" stroke-width="1.3"/><path d="M814.9 344.2L828 351.8" stroke="#5fd8e0" stroke-width="1.3"/><path d="M828 351.8L828.4 337" stroke="#5fd8e0" stroke-width="1.3"/><path d="M828.4 337L838.4 337.2" stroke="#70d040" stroke-width="1.3"/><path d="M821.8 361L828 351.8" stroke="#70d040" stroke-width="1.3"/><path d="M804.4 335.4L812.7 334" stroke="#e08080" stroke-width="1.3"/><circle cx="814.9" cy="344.2" r="2.2" fill="#e31a1a"/><circle cx="812.7" cy="334" r="1.8" fill="#d8e8ec"/><circle cx="828.4" cy="337" r="2.0" fill="#e6e619"/><circle cx="838.4" cy="337.2" r="1.7" fill="#2030e0"/><circle cx="828" cy="351.8" r="1.2" fill="#d8e8ec"/><circle cx="821.8" cy="361" r="1.7" fill="#2030e0"/><circle cx="804.4" cy="335.4" r="1.5" fill="#c02020"/><path d="M872 338L882.4 339.2" stroke="#e08080" stroke-width="1.3"/><path d="M872 338L860.2 348" stroke="#5fd8e0" stroke-width="1.3"/><path d="M860.2 348L874 352.4" stroke="#5fd8e0" stroke-width="1.3"/><path d="M874 352.4L870.4 362.7" stroke="#70d040" stroke-width="1.3"/><path d="M853 338.3L860.2 348" stroke="#70d040" stroke-width="1.3"/><circle cx="872" cy="338" r="2.2" fill="#e31a1a"/><circle cx="882.4" cy="339.2" r="1.8" fill="#d8e8ec"/><circle cx="874" cy="352.4" r="2.0" fill="#e6e619"/><circle cx="870.4" cy="362.7" r="1.7" fill="#2030e0"/><circle cx="860.2" cy="348" r="1.2" fill="#d8e8ec"/><circle cx="853" cy="338.3" r="1.7" fill="#2030e0"/><path d="M840.6 381.2L850.2 381.8" stroke="#e08080" stroke-width="1.3"/><path d="M840.6 381.2L830.5 391" stroke="#5fd8e0" stroke-width="1.3"/><path d="M830.5 391L843.2 395.4" stroke="#5fd8e0" stroke-width="1.3"/><path d="M843.2 395.4L839.3 405.2" stroke="#70d040" stroke-width="1.3"/><path d="M823.6 382.3L830.5 391" stroke="#70d040" stroke-width="1.3"/><circle cx="840.6" cy="381.2" r="2.2" fill="#e31a1a"/><circle cx="850.2" cy="381.8" r="1.8" fill="#d8e8ec"/><circle cx="843.2" cy="395.4" r="2.0" fill="#e6e619"/><circle cx="839.3" cy="405.2" r="1.7" fill="#2030e0"/><circle cx="830.5" cy="391" r="1.2" fill="#d8e8ec"/><circle cx="823.6" cy="382.3" r="1.7" fill="#2030e0"/><path d="M882.8 381.6L893.3 373.6" stroke="#e08080" stroke-width="1.3"/><path d="M882.8 381.6L872.6 392" stroke="#5fd8e0" stroke-width="1.3"/><path d="M872.6 392L886 395.4" stroke="#5fd8e0" stroke-width="1.3"/><path d="M886 395.4L883.5 405.2" stroke="#70d040" stroke-width="1.3"/><path d="M864.5 383L872.6 392" stroke="#70d040" stroke-width="1.3"/><circle cx="882.8" cy="381.6" r="2.2" fill="#e31a1a"/><circle cx="893.3" cy="373.6" r="1.8" fill="#d8e8ec"/><circle cx="886" cy="395.4" r="2.0" fill="#e6e619"/><circle cx="883.5" cy="405.2" r="1.7" fill="#2030e0"/><circle cx="872.6" cy="392" r="1.2" fill="#d8e8ec"/><circle cx="864.5" cy="383" r="1.7" fill="#2030e0"/><circle cx="747.5" cy="297.1" r="1.9800000000000002" fill="#cc55e0"/><circle cx="752" cy="296.8" r="2.3400000000000003" fill="#4ccf3c"/><circle cx="756.5" cy="297.5" r="1.9800000000000002" fill="#cc55e0"/><circle cx="750.6" cy="298.6" r="1.9800000000000002" fill="#cc55e0"/><path d="M752.9 342L742.4 343.6" stroke="#e08080" stroke-width="1.3"/><path d="M752.9 342L762.3 350.2" stroke="#5fd8e0" stroke-width="1.3"/><path d="M762.3 350.2L751 356.4" stroke="#5fd8e0" stroke-width="1.3"/><path d="M751 356.4L754.5 364.6" stroke="#70d040" stroke-width="1.3"/><path d="M768.6 340.7L762.3 350.2" stroke="#70d040" stroke-width="1.3"/><path d="M741.4 335.8L742.4 343.6" stroke="#e08080" stroke-width="1.3"/><circle cx="752.9" cy="342" r="2.2" fill="#e31a1a"/><circle cx="742.4" cy="343.6" r="1.8" fill="#d8e8ec"/><circle cx="751" cy="356.4" r="2.0" fill="#e6e619"/><circle cx="754.5" cy="364.6" r="1.7" fill="#2030e0"/><circle cx="762.3" cy="350.2" r="1.2" fill="#d8e8ec"/><circle cx="768.6" cy="340.7" r="1.7" fill="#2030e0"/><circle cx="741.4" cy="335.8" r="1.5" fill="#c02020"/>
<g transform="scale(.5)" fill="none" stroke-linecap="round"><path d="M913 762l-12 1l-4 4l7 5l12 1l4-6l-7-5l4-4l-8-4l4-4l12-2l3-6l-8-1l3-5l10-5l1-5l-9-1l-1-5l10-7l-1-6l-11 0l-2-6l9-7l-2-7l-11 0l-3-6l10-7l11-1l2 7l-9 7m-11 86l8 6l13-2l4-6l-8-5l-13 1m-3-9l12-2l4-6l-8-2m3-6l12-4l2-6l-9-1m-4-37l11 0l2 6l-9 7m-4 49l8 4l-4 6m0-16l12-3l3-6l-8-3m-6-65l10-6l11 2l2 6l-10 6l-11-1m-2 33l10 1l0 6l-10 6m3 34l12-3l4-7l-8-3m-8 30l8 5l13-2l4-7l-9-5l-12 3m-1-77l9-7l-2-6m-5 19l11 1l1 7l-10 6m-2 18l11-4l1-7l-10-1m4 21l11-4l3-7l-9-2m-4-41l11 2l2 7l-9 5m-4 56l8 4l-4 7m0-18l12-3l3-7l-9-3m-5-29l10 2l0 6l-10 5m1-52l10-5l12 3l1 7l-10 4l-11-3m0 86l12-3l4-7l-8-4m-7 33l8 4l13-3l3-8l-8-4l-12 4m-2-84l10-4l-2-7m-6 18l11 3l1 7l-10 4m-2 20l11-4l1-7l-10-3m4 24l11-3l3-7l-9-4m-4 32l9 4l-4 7m-4-84l11 3l2 7l-10 4m0 52l12-3l3-8l-9-3m-5-31l10 3l0 7l-10 3m3-52l10-4l12 2l1 7l-10 5l-12-3m0 88l12-4l3-7l-8-3m-6 33l9 3l12-4l3-8l-8-3l-13 4m-1-85l10-4l-1-7m-8 53l11-4l1-7l-10-3m-1-21l11 3l0 7l-10 4m4 31l12-4l2-7l-9-3m-3 32l8 3l-3 8m-4-85l11 2l1 7l-9 5m-1 53l12-5l3-7l-8-3m-6-31l10 2l0 7l-10 5m4 42l12-4l4-8l-9-3m-6-81l10-5l11 2l1 7l-10 5l-11-2m0 108l9 3l12-5l3-8l-8-2l-13 4m-1-86l10-5l-1-7m-9 55l11-5l1-7l-10-3m-1-21l11 2l0 7l-10 5m4 32l12-5l2-7l-9-3m-3 33l9 3l-3 8m-4-87l11 3l1 7l-10 4m0 7l11 3l-1 7l-10 5m0 32l11-4l3-8l-8-3m-1 26l12-5l3-7l-9-3m-5-83l11-4l11 2l0 7l-10 5l-11-3m0 109l9 2l12-5l3-7l-9-3l-12 5m-2-43l11-5l1-7l-10-3m-1-28l10-5l-1-7m-8 19l10 2l1 8l-10 4m3 32l12-4l2-8l-9-3m-2 33l9 3l-4 7m-3-86l11 3l0 7l-10 4m0 22l10-4l1-8l-10-2m-1 47l12-5l2-7l-8-3m0 25l11-5l3-7l-8-3m-4-83l10-4l11 3l1 7l-11 4l-11-3m0 58l10-4l2-7l-10-3m-2 64l9 3l12-3l3-6l-9-5l-12 4m-1-86l10-5l-1-7m-9 19l11 3l0 7l-10 4m3 33l11-4l3-7l-10-4m-1 32l9 4l-3 7m-3-87l11 4l0 7l-10 4m-1 22l10-4l1-7l-10-4m-1 47l12-3l2-7l-9-4m1 25l12-2l2-7l-8-5m-4-18l10-3l2-7l-10-5m-1-51l11-3l11 6l0 7l-11 2l-10-5m-1 109l9 5l12-2l2-6l-9-5l-11 2m-1-88l10-3l-1-7m-9 17l10 5l0 7l-10 3m3 33l11-2l2-7l-9-5m0 33l8 5l-3 7m-3-52l10-2l1-7l-10-6m-1 48l12-1l2-7l-9-6m-4-56l10 6l0 7l-10 2m5 67l12-2l2-6l-8-5m-5-20l11-1l1-7l-9-6m0 65l9 5l11 0l3-7l-9-6l-12 2m-1-110l10-1l11 6l0 8l-11 1l-10-7m0 15l10-1l0-7m-10 15l10 6l0 8l-10 1m3 34l11-1l2-7l-9-6m0 32l8 6l-2 6m-5-51l11-1l0-7l-9-6m-1 47l11-1l3-7l-9-5m-4-56l11 6l-1 7l-10 1m5 67l12-1l2-7l-9-5m-4-19l10-1l2-7l-9-6m0-7l11-1l0-7l-10-7m-1 87l9 6l12-1l2-7l-9-6l-11 1m-1-109l11-1l10 7l-1 7l-10 1l-10-6m0 14l10-1l0-7m-8 63l10-1l2-7l-9-5m1 32l9 6l-3 6m-5-51l10-1l1-7l-9-6m-1 46l11-1l2-6l-9-6m-3-40l10-1l1-8l-10-6m4 48l11-1l1-7l-9-5m-2 46l11-1l2-7l-9-6m-1-39l10-1l1-7l-10-6m0 86l9 5l12-2l2-7l-9-4l-12 1m-1-101l10 7l0 7l-10 0m1-21l10 0l10 7l0 7l-11 0m-9 62l11-1l2-7l-9-6m1-7l11 0l1-7l-10-6m-2 53l9 5l-2 7m-5-19l11-1l2-7l-9-5m-3-40l10-1l1-6l-10-7m4 47l10-1l2-6l-9-6m-2 45l11-1l2-7l-9-5m-1-39l10 0l0-7l-9-7m1-6l9 0l1-6l-9-8m-1 104l10 4l11-2l2-6l-10-4l-11 1m-1-104l10 2l9 8l0 7l-10-2m-9 58l10 0l2-7l-9-6m2-6l10 0l1-6l-9-7m-2 51l9 5l-2 6m-5-69l10 1l1-6l-10-8m-1 64l11-1l1-6l-9-5m2-7l10 0l2-6l-9-6m-1 43l11-2l2-6l-9-5m-2-36l10 0l0-6l-9-7m1-6l10 1l0-6l-9-7m0-7l10 3l10 7l-1 5l-10-1m-9 54l11-1l2-6l-10-5m-2 47l10 3l11-2l2-6l-10-4l-11 3m2-47l10-1l1-6l-9-5m-1 47l10 3l-2 6m-7-62l10 0l1-5l-9-7m-1 59l11-2l1-6l-9-4m2-6l10-2l1-6l-9-4m1-6l10-1l1-5l-10-5m-1 56l11-2l1-6l-9-3m-1-50l11-1l0-5l-10-6m1-5l11 0l10 6l-1 5l-11 0m-9 50l11-3l1-5l-9-4m-1 45l10 2l11-3l1-5l-9-3l-11 3m0-45l11-1l1-5l-10-5m1-5l11-1l0-5l-9-5m-2 60l9 3l-1 6m-7-15l11-2l1-6l-9-4m1-5l11-2l1-5l-9-4m1-5l10-2l1-5l-9-4m-2 53l11-3l2-5l-10-3m-1-47l11 0l1-5l-10-5m0 51l11-2l1-6l-9-3m-2-45l11 0l10 5l-1 5l-11 0m-7 77l10 2l11-3l1-5l-9-2l-12 3m0-42l11-2l1-5l-10-4m1-5l11 0l1-5l-10-4m-2 55l10 3l-1 6m-7-14l10-3l1-5l-9-3m1-6l11-1l1-5l-9-4m1-5l10-1l2-4l-10-4m-1 49l11-3l1-5l-10-3m0-43l11 0l1-5l-10-4m-1 47l11-2l1-5l-9-3m-1-42l11 0l10 5l-1 4l-11 0m-7 28l11-1l1-5l-10-4m-2 54l10 1l11-3l1-5l-10-1l-11 3m3-53l10-1l2-4l-10-4m-2 51l9 3l-1 5m-7-13l11-2l1-5l-10-3m1-5l11-1l1-5l-9-3m1-5l10 0l2-4l-10-5m-1 46l11-3l1-5l-9-2m0-40l10 1l1-4l-9-6m-1 44l10-2l1-4l-9-3m0-39l11 2l8 7l-1 4l-10-3m-7 24l11 0l1-4l-10-4m-1 48l10 1l11-4l1-4l-10-1l-11 3m2-47l10 1l1-4l-9-5m-2 46l10 2l-1 4m-8-11l11-2l1-4l-10-3m1-4l11-1l1-4l-9-3m1-4l10 1l1-3l-9-5m0 39l11-3l1-4l-10-2m-1-34l9 4l1-3l-8-7m0 36l11-2l1-3l-10-3m-1-32l9 6l7 8l0 2l-9-5m-5 17l10 1l1-3l-9-4m0 40l10 0l10-3l1-3l-9-1l-11 3m0-39l9 3l1-2l-9-6m1 36l10 2l-1 3m-8-9l10-1l1-3l-9-4m1-3l9 1l1-2l-9-5m1-3l9 4l0-2l-8-6m1-2l8 5l0-1l-7-8m0-2l8 7l7 9l0 1l-8-7m-6 28l9-1l1-3l-9-3m1-3l9 2l0-3l-8-5m1-2l8 4l1-2l-8-6m0-2l8 6l0-1l-7-8m1 34l10-1l10-3l0 0l-9 0l-10 1m1-5l9 2l0 2m-8-7l9 2l0-2l-8-4m0-3l9 5l0-2l-8-6m1-5l7 7l0 0l-6-9m-1 3l7 8l0 1l-7-7m1-6l6 9l7 9l0 0l-7-8m-2 13l9 1l0-1l-8-3m0-2l9 4l0-1l-8-5m0-6l7 9l0 0l-7-7m0 1l7 7l1 0l-8-6" stroke="#1a1a1a" stroke-width="3.2" stroke-linecap="butt"/><path d="M1031 658h0m21-2h0m11 3h0m11-3h0m-109 8h0m22-1h0m12 2h0m10-5h0m11 2h0m22-2h0m43 2h0m10-1h0m-151 6h0m11 2h0m22-2h0m44 2h0m21-2h0m11 3h0m11-4h0m10 5h0m11-2h0m21-2h0m11-1h0m-194 8h0m11-1h0m23 2h0m21-1h0m12 3h0m10-5h0m11 2h0m21-2h0m22 5h0m41-1h0m11-1h0m21-2h0m10 0h0m-224 8h0m23-1h0m11 1h0m21-3h0m44 3h0m21-2h0m11 3h0m21-1h0m10-3h0m20 5h0m21-2h0m10-1h0m21 0h0m10 2h0m-241 5h0m11 0h0m22 0h0m11 2h0m10-4h0m11 3h0m10-4h0m11 2h0m21-2h0m21 5h0m21-1h0m20-4h0m21 5h0m10-1h0m20-1h0m11 0h0m-218 7h0m11 0h0m43 1h0m20-2h0m11 2h0m10-4h0m10 2h0m21-1h0m20 1h0m10-2h0m41 3h0m10 0h0m20 1h0m10-5h0m10 3h0m-256 8h0m22-1h0m11 1h0m9-5h0m11 3h0m21-1h0m41 3h0m20-2h0m20 1h0m20-3h0m10-1h0m41 5h0m9 0h0m11-4h0m20 3h0m11 0h0m-275 7h0m11 0h0m41-1h0m20-1h0m10 2h0m10-5h0m11 3h0m20-2h0m20 0h0m20 3h0m10-1h0m20-2h0m10-1h0m20 5h0m30-3h0m10 1h0m22 1h0m11 0h0m-284 7h0m20-5h0m10 2h0m20-1h0m40 3h0m20-1h0m20-1h0m20 3h0m20-2h0m11-1h0m20-2h0m30 1h0m10 1h0m20 1h0m11 0h0m22 0h0m11 0h0m-295 3h0m20 2h0m10 3h0m10-3h0m10 3h0m10-5h0m10 3h0m20-2h0m20-1h0m20 1h0m19 4h0m11-1h0m20-2h0m10-1h0m20-1h0m10 1h0m20 2h0m11-1h0m21 0h0m11 0h0m22 0h0m11 2h0m-336 2h0m1 5h0m19-5h0m10 1h0m59 3h0m20-2h0m9 3h0m10-4h0m10 4h0m10-3h0m41 2h0m10-1h0m21-2h0m10 0h0m19 1h0m10 0h0m21-1h0m11 0h0m10 4h0m11 0h0m1-5h0m11 0h0m20 5h0m-335 6h0m1-5h0m19 2h0m9 2h0m11-4h0m9 4h0m11-4h0m9 3h0m20-2h0m59 0h0m11-1h0m19 5h0m21-3h0m11 0h0m20 0h0m10 0h0m20-1h0m11-1h0m9 4h0m11 0h0m22-1h0m10 1h0m1-4h0m10 3h0m10 2h0m-354 5h0m19-4h0m17 5h0m20 0h0m21-1h0m20-2h0m8 3h0m12-4h0m8 3h0m11-4h0m9 4h0m11-2h0m22-2h0m19 4h0m11-1h0m21-1h0m10 0h0m20-1h0m10-1h0m10 5h0m10-2h0m22-1h0m10-1h0m21 2h0m10 1h0m-355 5h0m8 1h0m12-4h0m8 3h0m20-1h0m20 0h0m20-1h0m38 4h0m20 0h0m22-3h0m11-1h0m19 4h0m22-2h0m10-1h0m21 0h0m10-1h0m9 4h0m11-1h0m21-3h0m10-1h0m10 4h0m10 0h0m2-4h0m10 1h0m10 0h0m10 0h0m0 2h0m-359 7h0m20-1h0m20 0h0m20 1h0m20-2h0m9 3h0m11-4h0m9 3h0m20-2h0m20 2h0m12-1h0m22-3h0m19 5h0m11-1h0m21-2h0m10 0h0m20 3h0m21-3h0m11-2h0m9 4h0m11-1h0m21-1h0m10 1h0m1-3h0m9 3h0m1-2h0m8 4h0m1-3h0m-383 8h0m4-4h0m20 0h0m20 0h0m20 1h0m20 0h0m38 4h0m20-2h0m21 2h0m22-3h0m11-1h0m20 4h0m22-2h0m10 0h0m22-2h0m19 2h0m11-2h0m9 3h0m11-1h0m20 2h0m1-5h0m11 0h0m9 3h0m10 1h0m1-3h0m9 2h0m0 2h0m1-5h0m8 5h0m-382 3h0m12-2h0m8 4h0m12-3h0m8 4h0m12-3h0m21 0h0m8 3h0m12-4h0m9 3h0m21-2h0m20-1h0m20 3h0m12-2h0m22-2h0m20 5h0m11-1h0m21-2h0m11-1h0m9 4h0m11-3h0m20 2h0m20 1h0m1-5h0m20 2h0m11-1h0m10 3h0m9 1h0m1-2h0m9-1h0m0 1h0m0 2h0m1-5h0m-402 11h0m4-4h0m12-1h0m7 5h0m13-1h0m45-4h0m58 3h0m21-1h0m20 3h0m23-3h0m12-1h0m42 2h0m11-1h0m20 3h0m21-5h0m20 1h0m21 1h0m10-2h0m10 3h0m11-2h0m9 4h0m9-1h0m1-3h0m8 1h0m0 1h0m0 0h0m0 2h0m-401 5h0m12 1h0m25-2h0m12-3h0m9 5h0m12-4h0m8 4h0m13-4h0m8 3h0m13-4h0m8 2h0m21-2h0m21 1h0m20 3h0m12-2h0m23-1h0m11-1h0m9 5h0m11-1h0m22-3h0m20 1h0m11-2h0m10 3h0m10-3h0m10 3h0m11-2h0m9 2h0m11-2h0m10 2h0m10-1h0m9 3h0m1-4h0m8 4h0m1-5h0m0 1h0m0 2h0m7 2h0m0 0h0m-388 6h0m13-2h0m84 1h0m21-3h0m9 3h0m12-3h0m21 3h0m23-2h0m11-1h0m43 2h0m11-2h0m10 3h0m11-2h0m9 3h0m11-3h0m10 3h0m11-3h0m9 3h0m11-3h0m10 2h0m11-3h0m10 2h0m9-1h0m9 2h0m1-3h0m8-1h0m0 0h0m0 1h0m0 3h0m0 1h0m1-4h0m0 1h0m0 1h0m-368 5h0m13-2h0m8 4h0m13-3h0m9 3h0m12-4h0m9 3h0m21-3h0m42 0h0m21 3h0m11 0h0m23-2h0m12-1h0m9 4h0m11-1h0m21 1h0m21 1h0m21 0h0m20-1h0m10 1h0m11-3h0m10 1h0m11-3h0m8 4h0m1-3h0m9 2h0m1-3h0m9 0h0m0 0h0m-199 9h0m12-1h0m21 3h0m23-4h0m21 1h0m20 0h0m21-1h0m20 3h0m10 1h0m11-4h0m10 0h0m-148 6h0m22 2h0m11-2h0m10 3h0m11-2h0m10 2h0m11-3h0m10 2h0m11-3h0m10 1h0" stroke="#111" stroke-width="9.2"/><path d="M1030 657h0m21-2h0m11 3h0m11-3h0m-109 8h0m22-1h0m12 2h0m10-5h0m11 2h0m22-2h0m43 2h0m10-1h0m-151 6h0m11 2h0m22-2h0m44 2h0m21-2h0m11 3h0m11-4h0m10 5h0m11-2h0m21-2h0m11-1h0m-194 8h0m11-1h0m23 2h0m21-1h0m12 3h0m10-5h0m11 2h0m21-2h0m22 5h0m41-1h0m11-1h0m21-2h0m10 0h0m-224 8h0m23-1h0m11 1h0m21-3h0m44 3h0m21-2h0m11 3h0m21-1h0m10-3h0m20 5h0m21-2h0m10-1h0m21 0h0m10 2h0m-241 5h0m11 0h0m22 0h0m11 2h0m10-4h0m11 3h0m10-4h0m11 2h0m21-2h0m21 5h0m21-1h0m20-4h0m21 5h0m10-1h0m20-1h0m11 0h0m-218 7h0m11 0h0m43 1h0m20-2h0m11 2h0m10-4h0m10 2h0m21-1h0m20 1h0m10-2h0m41 3h0m10 0h0m20 1h0m10-5h0m10 3h0m-256 8h0m22-1h0m11 1h0m9-5h0m11 3h0m21-1h0m41 3h0m20-2h0m20 1h0m20-3h0m10-1h0m41 5h0m9 0h0m11-4h0m20 3h0m11 0h0m-275 7h0m11 0h0m41-1h0m20-1h0m10 2h0m10-5h0m11 3h0m20-2h0m20 0h0m20 3h0m10-1h0m20-2h0m10-1h0m20 5h0m30-3h0m10 1h0m22 1h0m11 0h0m-284 7h0m20-5h0m10 2h0m20-1h0m40 3h0m20-1h0m20-1h0m20 3h0m20-2h0m11-1h0m20-2h0m30 1h0m10 1h0m20 1h0m11 0h0m22 0h0m11 0h0m-295 3h0m20 2h0m10 3h0m10-3h0m10 3h0m10-5h0m10 3h0m20-2h0m20-1h0m20 1h0m19 4h0m11-1h0m20-2h0m10-1h0m20-1h0m10 1h0m20 2h0m11-1h0m21 0h0m11 0h0m22 0h0m11 2h0m-336 2h0m1 5h0m19-5h0m10 1h0m59 3h0m20-2h0m9 3h0m10-4h0m10 4h0m10-3h0m41 2h0m10-1h0m21-2h0m10 0h0m19 1h0m10 0h0m21-1h0m11 0h0m10 4h0m11 0h0m1-5h0m11 0h0m20 5h0m-335 6h0m1-5h0m19 2h0m9 2h0m11-4h0m9 4h0m11-4h0m9 3h0m20-2h0m59 0h0m11-1h0m19 5h0m21-3h0m11 0h0m20 0h0m10 0h0m20-1h0m11-1h0m9 4h0m11 0h0m22-1h0m10 1h0m1-4h0m10 3h0m10 2h0m-354 5h0m19-4h0m17 5h0m20 0h0m21-1h0m20-2h0m8 3h0m12-4h0m8 3h0m11-4h0m9 4h0m11-2h0m22-2h0m19 4h0m11-1h0m21-1h0m10 0h0m20-1h0m10-1h0m10 5h0m10-2h0m22-1h0m10-1h0m21 2h0m10 1h0m-355 5h0m8 1h0m12-4h0m8 3h0m20-1h0m20 0h0m20-1h0m38 4h0m20 0h0m22-3h0m11-1h0m19 4h0m22-2h0m10-1h0m21 0h0m10-1h0m9 4h0m11-1h0m21-3h0m10-1h0m10 4h0m10 0h0m2-4h0m10 1h0m10 0h0m10 0h0m0 2h0m-359 7h0m20-1h0m20 0h0m20 1h0m20-2h0m9 3h0m11-4h0m9 3h0m20-2h0m20 2h0m12-1h0m22-3h0m19 5h0m11-1h0m21-2h0m10 0h0m20 3h0m21-3h0m11-2h0m9 4h0m11-1h0m21-1h0m10 1h0m1-3h0m9 3h0m1-2h0m8 4h0m1-3h0m-383 8h0m4-4h0m20 0h0m20 0h0m20 1h0m20 0h0m38 4h0m20-2h0m21 2h0m22-3h0m11-1h0m20 4h0m22-2h0m10 0h0m22-2h0m19 2h0m11-2h0m9 3h0m11-1h0m20 2h0m1-5h0m11 0h0m9 3h0m10 1h0m1-3h0m9 2h0m0 2h0m1-5h0m8 5h0m-382 3h0m12-2h0m8 4h0m12-3h0m8 4h0m12-3h0m21 0h0m8 3h0m12-4h0m9 3h0m21-2h0m20-1h0m20 3h0m12-2h0m22-2h0m20 5h0m11-1h0m21-2h0m11-1h0m9 4h0m11-3h0m20 2h0m20 1h0m1-5h0m20 2h0m11-1h0m10 3h0m9 1h0m1-2h0m9-1h0m0 1h0m0 2h0m1-5h0m-402 11h0m4-4h0m12-1h0m7 5h0m13-1h0m45-4h0m58 3h0m21-1h0m20 3h0m23-3h0m12-1h0m42 2h0m11-1h0m20 3h0m21-5h0m20 1h0m21 1h0m10-2h0m10 3h0m11-2h0m9 4h0m9-1h0m1-3h0m8 1h0m0 1h0m0 0h0m0 2h0m-401 5h0m12 1h0m25-2h0m12-3h0m9 5h0m12-4h0m8 4h0m13-4h0m8 3h0m13-4h0m8 2h0m21-2h0m21 1h0m20 3h0m12-2h0m23-1h0m11-1h0m9 5h0m11-1h0m22-3h0m20 1h0m11-2h0m10 3h0m10-3h0m10 3h0m11-2h0m9 2h0m11-2h0m10 2h0m10-1h0m9 3h0m1-4h0m8 4h0m1-5h0m0 1h0m0 2h0m7 2h0m0 0h0m-388 6h0m13-2h0m84 1h0m21-3h0m9 3h0m12-3h0m21 3h0m23-2h0m11-1h0m43 2h0m11-2h0m10 3h0m11-2h0m9 3h0m11-3h0m10 3h0m11-3h0m9 3h0m11-3h0m10 2h0m11-3h0m10 2h0m9-1h0m9 2h0m1-3h0m8-1h0m0 0h0m0 1h0m0 3h0m0 1h0m1-4h0m0 1h0m0 1h0m-368 5h0m13-2h0m8 4h0m13-3h0m9 3h0m12-4h0m9 3h0m21-3h0m42 0h0m21 3h0m11 0h0m23-2h0m12-1h0m9 4h0m11-1h0m21 1h0m21 1h0m21 0h0m20-1h0m10 1h0m11-3h0m10 1h0m11-3h0m8 4h0m1-3h0m9 2h0m1-3h0m9 0h0m0 0h0m-199 9h0m12-1h0m21 3h0m23-4h0m21 1h0m20 0h0m21-1h0m20 3h0m10 1h0m11-4h0m10 0h0m-148 6h0m22 2h0m11-2h0m10 3h0m11-2h0m10 2h0m11-3h0m10 2h0m11-3h0m10 1h0" stroke="#4a4a4a" stroke-width="3.9"/></g>
<ellipse cx="489.2" cy="336.9" rx="2.3" ry="1.6" fill="#3fe3f0"/><ellipse cx="567" cy="380.5" rx="2.3" ry="1.6" fill="#3fe3f0"/><ellipse cx="519.8" cy="366.4" rx="2.3" ry="1.6" fill="#3fe3f0"/><ellipse cx="567.1" cy="357.3" rx="2.3" ry="1.6" fill="#3fe3f0"/><ellipse cx="641.3" cy="372.5" rx="2.3" ry="1.6" fill="#3fe3f0"/><ellipse cx="476.4" cy="363.8" rx="2.3" ry="1.6" fill="#3fe3f0"/><ellipse cx="476.4" cy="375.2" rx="2.3" ry="1.6" fill="#3fe3f0"/><ellipse cx="607.3" cy="385.4" rx="2.3" ry="1.6" fill="#3fe3f0"/>
<ellipse cx="472.3" cy="373.5" rx="2.4" ry="2.2" fill="#e01010"/><ellipse cx="522.1" cy="355.3" rx="2.4" ry="2.2" fill="#e01010"/><ellipse cx="515" cy="389.9" rx="2.4" ry="2.2" fill="#e01010"/><ellipse cx="456.7" cy="375" rx="2.4" ry="2.2" fill="#e01010"/><ellipse cx="517" cy="373.9" rx="2.4" ry="2.2" fill="#e01010"/><ellipse cx="621.7" cy="389.3" rx="2.4" ry="2.2" fill="#e01010"/><ellipse cx="615.7" cy="393.4" rx="2.4" ry="2.2" fill="#e01010"/><ellipse cx="521.9" cy="340.9" rx="2.4" ry="2.2" fill="#e01010"/><ellipse cx="537.2" cy="374" rx="2.4" ry="2.2" fill="#e01010"/><ellipse cx="461.4" cy="336.9" rx="2.4" ry="2.2" fill="#e01010"/><ellipse cx="573" cy="395.4" rx="2.4" ry="2.2" fill="#e01010"/><ellipse cx="553.8" cy="372" rx="2.4" ry="2.2" fill="#e01010"/>
<ellipse cx="448.3" cy="383.4" rx="2.4" ry="1.8" fill="#e8e820"/><ellipse cx="613.9" cy="355.7" rx="2.4" ry="1.8" fill="#e8e820"/><ellipse cx="470.3" cy="385.3" rx="2.4" ry="1.8" fill="#e8e820"/><ellipse cx="568" cy="346.9" rx="2.4" ry="1.8" fill="#e8e820"/><ellipse cx="632.2" cy="388.8" rx="2.4" ry="1.8" fill="#e8e820"/>
<g transform="scale(.5)" fill="none" stroke-linecap="round"><path d="M853 700l-5 8l1 1l6-7l2 1l-6 8l1 0l7-5l1 1l8-5l6-6l-2-2l-7 5l-6 7m-6-6l-1-2l5-8l6-7l1 1l-5 9l-6 7m2 2l6-8l-2-1m-2 10l7-5l1 1m-4-5l6-6l2 2l-5 8m-1-15l4-10l6-7l2 3l-4 9l-7 6m3 4l5-8l-1-2m-2 12l7-6l2 2l-6 8m0-14l7-7l2 3l-5 8m-3-18l4-9l6-7l3 3l-5 9l-6 7m-1 27l7-5l5-8l-1-2l-7 5m1-13l4-8l-2-3m0 14l6-6l2 2l-4 9m-2-31l5-10l6-6l2 3l-4 9l-6 7m-3 12l7-7l2 3l-5 9m-1 13l7-6l5-8l-2-3l-7 6m1-14l4-9l-2-3m0 15l7-6l2 3l-5 8m-2-32l5-10l7-6l2 3l-5 9l-7 7m-2 12l7-6l2 3l-4 9m-1 14l7-5l5-9l-3-3l-6 6m0-15l4-9l-2-4m0 16l7-6l2 3l-5 9m-2-18l7-6l2 3l-4 9m-4-22l5-9l8-5l2 3l-6 9l-7 5m2 34l6-6l4-9l-2-3l-6 6m0-15l5-9l-2-3m-1 15l7-6l2 3l-5 9m-1-18l8-6l2 4l-6 8m-2-21l6-9l8-4l2 3l-6 8l-8 5m-1 33l7-5l5-9l-1-3l-8 5m2-15l5-8l-1-3m-2 15l7-5l2 3l-5 8m-1-18l8-5l2 4l-6 8m-2 14l8-5l5-7l-1-4l-8 5m-3-24l7-8l9-3l2 4l-7 6l-9 4m3 6l7-7l-1-3m-4 14l9-4l1 3l-6 7m1-17l9-2l2 3l-7 6m-4 14l9-4l7-6l-2-3l-9 2m-1-23l8-6l10-2l2 4l-9 5l-9 3m3 7l8-6l-2-4m-4 13l9-2l2 4l-8 5m2 3l9-1l8-5l-2-3l-9 1m-5-11l10-2l1 4l-8 5m2-20l8-5l10-1l2 4l-9 5l-9 1m3 7l8-4l-2-4m-5 12l10-1l2 4l-9 5m2 3l10 0l8-4l-2-4l-9 0m-5-11l10-1l1 4l-8 4m2-20l9-3l11 0l1 4l-9 3l-10 0m3 8l8-4l-1-4m-6 12l10 0l1 4l-8 4m2 4l9 0l9-3l-2-4l-10-1m-4-12l10 1l2 4l-9 3m4-19l9-3l10 1l1 4l-9 3l-10-1m2 8l9-3l-1-4m-6 11l10 1l1 4l-9 3m2 4l9 1l9-3l-1-4l-10-1m-4-12l10 1l1 4l-8 3m4-19l9-3l10 2l1 4l-9 2l-10-1m2 8l9-3l-1-4m-7 11l10 1l1 4l-8 3m1 4l9 1l9-3l-1-4l-10-1m-3-12l10 2l1 4l-9 2m5-18l10-2l10 2l0 3l-9 2l-10-1m2 8l9-3l-1-4m-7 11l10 1l1 4l-9 2m1 4l9 2l9-3l-1-4l-9-1m-3-12l10 2l1 4l-9 2m6-17l9-2l10 2l1 4l-10 1l-10-2m2 8l9-2l-1-4m-7 10l9 1l1 4l-9 2m1 4l9 1l9-2l0-4l-10-1m-2-11l10 2l0 3l-9 2m7-16l9-1l10 3l1 3l-10 1l-9-2m1 7l9-2l-1-3m-8 8l10 2l1 4l-9 1m0 4l10 1l8-1l0-4l-9-1m-2-11l10 3l0 3l-9 1m7-14l10-1l10 3l0 3l-9 0l-10-2m1 7l9-1l0-4m-9 8l10 2l0 3l-9 1m0 4l10 1l9-1l-1-3l-9-2m-1-9l10 2l0 3l-9 1m8-13l9-1l10 3l0 3l-9 0l-10-2m1 6l9-1l0-3m-9 7l9 2l0 3l-9 1m1 3l9 2l9 0l0-3l-10-3m0-9l9 3l0 3l-9 0m9-12l9 0l10 4l0 3l-9-1l-10-3m0 6l10 0l0-3m-10 6l10 3l0 3l-9 0m0 3l9 3l9 0l0-3l-9-3m0-9l9 3l0 3l-9 0m9-11l10 1l9 4l-1 3l-9-2l-9-3m0 5l9 1l0-3m-9 5l9 4l0 3l-9-1m0 3l8 4l9 1l0-3l-8-4m0-9l9 4l0 3l-9-1m8 7l9 2l0-3l-8-5m-1 9l8 5l9 2l0-3l-8-5m-8-16l9 4l0 3l-9-2m1-8l9 1l9 6l0 2l-10-2m-1 9l9 2l1-3l-9-5m7 14l9 2l0-2l-8-6m-1 9l8 5l8 3l1-3l-8-6m-7-11l9 3l0-3l-8-6m0-2l9 2l9 5l-1 3l-9-2m-2 9l9 2l1-3l-8-5m5 17l8 5l9 3l0-3l-7-5l-9-3m1-6l8 6l0 3m-7-12l9 3l1-3l-9-6m1-3l9 3l8 6l0 3l-9-3m-3 9l9 3l1-3l-8-6m5 14l9 3l1-3l-8-5m-2 8l7 6l9 2l1-3l-8-5m-6-11l9 3l0-3l-7-6m0-3l9 3l8 7l-1 2l-9-3m-2 8l8 3l1-2l-7-6m4 16l8 4l9 2l0-2l-8-4l-8-3m1-5l8 5l-1 3m-6-10l8 3l1-2l-7-7m1-2l7 5l7 7l0 1l-8-4m-2 6l8 4l1-2l-8-6m6 11l8 3l1-2l-8-4m1-2l7 4l1-1l-7-7" stroke="#1a1a1a" stroke-width="3.2" stroke-linecap="butt"/><path d="M994 563h0m11 0h0m9-3h0m10 1h0m9-3h0m10 2h0m10-2h0m10 2h0m0 3h0m9-5h0m10 2h0m9-1h0m10 3h0m10-1h0m19 2h0m-155 4h0m10-1h0m21 1h0m10 1h0m9-3h0m10 1h0m9-2h0m10 1h0m1 4h0m18-4h0m1 4h0m9-5h0m9 2h0m1 3h0m9-4h0m10 2h0m9-3h0m0 3h0m10 2h0m9-3h0m0 3h0m9-3h0m-192 8h0m10-2h0m11 3h0m9-5h0m10 0h0m1 4h0m10 1h0m9-3h0m10 1h0m9-3h0m10 2h0m19-1h0m1 4h0m18-4h0m0 3h0m19-2h0m0 3h0m9-4h0m10 2h0m9-1h0m9 3h0m10-3h0m0 3h0m9-5h0m0 3h0m10-2h0m9 4h0m-229 5h0m11 1h0m9-5h0m11 3h0m10-1h0m20 1h0m10 1h0m8-3h0m10 1h0m9-2h0m10 1h0m1 4h0m17-5h0m1 4h0m10 1h0m8-5h0m1 4h0m9 1h0m9-4h0m0 3h0m9-4h0m9 2h0m0 3h0m9-3h0m10 3h0m9-3h0m0 3h0m9-5h0m0 3h0m9-1h0m10-2h0m-247 7h0m11 1h0m11 1h0m10-2h0m1 4h0m10-1h0m8-4h0m10 0h0m1 4h0m10 1h0m9-3h0m10 1h0m8-3h0m10 1h0m1 4h0m17-5h0m1 4h0m9 1h0m9-2h0m10 1h0m8-1h0m10 1h0m8-4h0m1 3h0m9 2h0m9-3h0m0 3h0m9-3h0m9 3h0m9-2h0m9-2h0m0 3h0m9-4h0m0 3h0m10-3h0m0 2h0m9 0h0m-272 7h0m11-1h0m1 3h0m9-2h0m11 1h0m20-2h0m9 0h0m20 1h0m9 1h0m9-3h0m9 1h0m18-1h0m91 1h0m9 0h0m9-2h0m8 4h0m9-1h0m9 2h0m1-3h0m9 0h0m0 3h0m9-1h0m1-3h0m9 3h0m-298 3h0m10-1h0m21 0h0m11 2h0m9-1h0m2 3h0m10 0h0m8-4h0m9 0h0m162 0h0m9 1h0m9-1h0m8 5h0m9 0h0m10-1h0m10 0h0m9 0h0m-312 6h0m10-2h0m1 3h0m8-5h0m2 4h0m9-4h0m1 3h0m9-2h0m2 3h0m9-1h0m214-3h0m9 2h0m9-1h0m9 0h0m10 0h0m10 0h0m9 0h0m-329 8h0m10-2h0m23 3h0m10 0h0m247-3h0m8 3h0m1-3h0m9 0h0m0 3h0m9 0h0m1-3h0m9 0h0m0 3h0m9 0h0m1-2h0m-333 8h0m10-3h0m2 4h0m7-5h0m2 3h0m9-1h0m272 1h0m9 0h0m10 0h0m9 1h0m9 1h0m1-4h0m-349 5h0m2 3h0m9-2h0m14 4h0m9-2h0m286-3h0m9 0h0m8 5h0m1-5h0m8 5h0m1-4h0m9 1h0m0 1h0m-363 3h0m13 4h0m9-3h0m2 3h0m9-2h0m301-2h0m9 2h0m9 0h0m9 1h0m1-2h0m7 4h0m1-1h0m-375 6h0m9-4h0m2 4h0m9-3h0m13 4h0m323-5h0m9 0h0m0 2h0m8 1h0m1-2h0m-380 9h0m8-3h0m14 3h0m8-3h0m2 3h0m-28 6h0m9-3h0m2 3h0m9-3h0m-29 7h0m3 3h0m8-4h0m13 3h0m9-3h0m-39 8h0m13 1h0m9-3h0m2 3h0m9-3h0m-29 7h0m2 3h0m9-4h0m13 3h0m-32 2h0m2 3h0m12 1h0m9-4h0m2 3h0m-31 4h0m12 0h0m2 3h0m8-4h0m4 5h0m-30 6h0m8-5h0m1 2h0m13 1h0m1 2h0m-22 1h0m3 4h0m9-4h0m2 2h0m-21 4h0m2 3h0m2 1h0m8-4h0m3 4h0m9-3h0m-29 7h0m1 2h0m11-2h0m1 1h0m9-3h0m-19 6h0m2 1h0m2 3h0m1 1h0m8-5h0m-20 6h0m1 1h0m2 2h0m1 0h0" stroke="#111" stroke-width="8.8"/><path d="M993 562h0m11 0h0m9-3h0m10 1h0m9-3h0m10 2h0m10-2h0m10 2h0m0 3h0m9-5h0m10 2h0m9-1h0m10 3h0m10-1h0m19 2h0m-155 4h0m10-1h0m21 1h0m10 1h0m9-3h0m10 1h0m9-2h0m10 1h0m1 4h0m18-4h0m1 4h0m9-5h0m9 2h0m1 3h0m9-4h0m10 2h0m9-3h0m0 3h0m10 2h0m9-3h0m0 3h0m9-3h0m-192 8h0m10-2h0m11 3h0m9-5h0m10 0h0m1 4h0m10 1h0m9-3h0m10 1h0m9-3h0m10 2h0m19-1h0m1 4h0m18-4h0m0 3h0m19-2h0m0 3h0m9-4h0m10 2h0m9-1h0m9 3h0m10-3h0m0 3h0m9-5h0m0 3h0m10-2h0m9 4h0m-229 5h0m11 1h0m9-5h0m11 3h0m10-1h0m20 1h0m10 1h0m8-3h0m10 1h0m9-2h0m10 1h0m1 4h0m17-5h0m1 4h0m10 1h0m8-5h0m1 4h0m9 1h0m9-4h0m0 3h0m9-4h0m9 2h0m0 3h0m9-3h0m10 3h0m9-3h0m0 3h0m9-5h0m0 3h0m9-1h0m10-2h0m-247 7h0m11 1h0m11 1h0m10-2h0m1 4h0m10-1h0m8-4h0m10 0h0m1 4h0m10 1h0m9-3h0m10 1h0m8-3h0m10 1h0m1 4h0m17-5h0m1 4h0m9 1h0m9-2h0m10 1h0m8-1h0m10 1h0m8-4h0m1 3h0m9 2h0m9-3h0m0 3h0m9-3h0m9 3h0m9-2h0m9-2h0m0 3h0m9-4h0m0 3h0m10-3h0m0 2h0m9 0h0m-272 7h0m11-1h0m1 3h0m9-2h0m11 1h0m20-2h0m9 0h0m20 1h0m9 1h0m9-3h0m9 1h0m18-1h0m91 1h0m9 0h0m9-2h0m8 4h0m9-1h0m9 2h0m1-3h0m9 0h0m0 3h0m9-1h0m1-3h0m9 3h0m-298 3h0m10-1h0m21 0h0m11 2h0m9-1h0m2 3h0m10 0h0m8-4h0m9 0h0m162 0h0m9 1h0m9-1h0m8 5h0m9 0h0m10-1h0m10 0h0m9 0h0m-312 6h0m10-2h0m1 3h0m8-5h0m2 4h0m9-4h0m1 3h0m9-2h0m2 3h0m9-1h0m214-3h0m9 2h0m9-1h0m9 0h0m10 0h0m10 0h0m9 0h0m-329 8h0m10-2h0m23 3h0m10 0h0m247-3h0m8 3h0m1-3h0m9 0h0m0 3h0m9 0h0m1-3h0m9 0h0m0 3h0m9 0h0m1-2h0m-333 8h0m10-3h0m2 4h0m7-5h0m2 3h0m9-1h0m272 1h0m9 0h0m10 0h0m9 1h0m9 1h0m1-4h0m-349 5h0m2 3h0m9-2h0m14 4h0m9-2h0m286-3h0m9 0h0m8 5h0m1-5h0m8 5h0m1-4h0m9 1h0m0 1h0m-363 3h0m13 4h0m9-3h0m2 3h0m9-2h0m301-2h0m9 2h0m9 0h0m9 1h0m1-2h0m7 4h0m1-1h0m-375 6h0m9-4h0m2 4h0m9-3h0m13 4h0m323-5h0m9 0h0m0 2h0m8 1h0m1-2h0m-380 9h0m8-3h0m14 3h0m8-3h0m2 3h0m-28 6h0m9-3h0m2 3h0m9-3h0m-29 7h0m3 3h0m8-4h0m13 3h0m9-3h0m-39 8h0m13 1h0m9-3h0m2 3h0m9-3h0m-29 7h0m2 3h0m9-4h0m13 3h0m-32 2h0m2 3h0m12 1h0m9-4h0m2 3h0m-31 4h0m12 0h0m2 3h0m8-4h0m4 5h0m-30 6h0m8-5h0m1 2h0m13 1h0m1 2h0m-22 1h0m3 4h0m9-4h0m2 2h0m-21 4h0m2 3h0m2 1h0m8-4h0m3 4h0m9-3h0m-29 7h0m1 2h0m11-2h0m1 1h0m9-3h0m-19 6h0m2 1h0m2 3h0m1 1h0m8-5h0m-20 6h0m1 1h0m2 2h0m1 0h0" stroke="#4a4a4a" stroke-width="3.7"/></g>
<ellipse cx="475.1" cy="301.7" rx="2.3" ry="1.6" fill="#3fe3f0"/><ellipse cx="485" cy="301.5" rx="2.3" ry="1.6" fill="#3fe3f0"/><ellipse cx="433.7" cy="344.1" rx="2.3" ry="1.6" fill="#3fe3f0"/><ellipse cx="510.4" cy="291.9" rx="2.3" ry="1.6" fill="#3fe3f0"/><ellipse cx="613.2" cy="307.7" rx="2.3" ry="1.6" fill="#3fe3f0"/><ellipse cx="489.2" cy="287.4" rx="2.3" ry="1.6" fill="#3fe3f0"/>
<ellipse cx="565.1" cy="281.7" rx="2.4" ry="2.2" fill="#e01010"/><ellipse cx="472.6" cy="296.7" rx="2.4" ry="2.2" fill="#e01010"/><ellipse cx="593.5" cy="288.2" rx="2.4" ry="2.2" fill="#e01010"/><ellipse cx="483.4" cy="297.9" rx="2.4" ry="2.2" fill="#e01010"/><ellipse cx="552.2" cy="292.3" rx="2.4" ry="2.2" fill="#e01010"/><ellipse cx="542.2" cy="287.2" rx="2.4" ry="2.2" fill="#e01010"/><ellipse cx="556" cy="285.3" rx="2.4" ry="2.2" fill="#e01010"/><ellipse cx="579.3" cy="293.6" rx="2.4" ry="2.2" fill="#e01010"/><ellipse cx="474.7" cy="290.1" rx="2.4" ry="2.2" fill="#e01010"/><ellipse cx="430.4" cy="347.2" rx="2.4" ry="2.2" fill="#e01010"/>
<ellipse cx="551.3" cy="285.8" rx="2.4" ry="1.8" fill="#e8e820"/><ellipse cx="520.6" cy="295" rx="2.4" ry="1.8" fill="#e8e820"/><ellipse cx="426" cy="349.2" rx="2.4" ry="1.8" fill="#e8e820"/><ellipse cx="570.2" cy="289.1" rx="2.4" ry="1.8" fill="#e8e820"/>
<polygon points="460,309 538,308 542,324 464,325" fill="#9ee6b0" opacity="0.5"/><ellipse cx="0" cy="0" rx="3.2" ry="1.6" fill="#ecec1e" transform="translate(460 309) rotate(-20)"/><ellipse cx="0" cy="0" rx="3.2" ry="1.6" fill="#ecec1e" transform="translate(469.8 308.9) rotate(-20)"/><ellipse cx="0" cy="0" rx="3.2" ry="1.6" fill="#ecec1e" transform="translate(479.5 308.8) rotate(-20)"/><ellipse cx="0" cy="0" rx="3.2" ry="1.6" fill="#ecec1e" transform="translate(489.2 308.6) rotate(-20)"/><ellipse cx="0" cy="0" rx="3.2" ry="1.6" fill="#ecec1e" transform="translate(499 308.5) rotate(-20)"/><ellipse cx="0" cy="0" rx="3.2" ry="1.6" fill="#ecec1e" transform="translate(508.8 308.4) rotate(-20)"/><ellipse cx="0" cy="0" rx="3.2" ry="1.6" fill="#ecec1e" transform="translate(518.5 308.2) rotate(-20)"/><ellipse cx="0" cy="0" rx="3.2" ry="1.6" fill="#ecec1e" transform="translate(528.2 308.1) rotate(-20)"/><ellipse cx="0" cy="0" rx="3.2" ry="1.6" fill="#ecec1e" transform="translate(538 308) rotate(-20)"/><ellipse cx="0" cy="0" rx="3.2" ry="1.6" fill="#52c24a" transform="translate(461 313) rotate(-20)"/><ellipse cx="0" cy="0" rx="3.2" ry="1.6" fill="#52c24a" transform="translate(470.8 312.9) rotate(-20)"/><ellipse cx="0" cy="0" rx="3.2" ry="1.6" fill="#52c24a" transform="translate(480.5 312.8) rotate(-20)"/><ellipse cx="0" cy="0" rx="3.2" ry="1.6" fill="#52c24a" transform="translate(490.2 312.6) rotate(-20)"/><ellipse cx="0" cy="0" rx="3.2" ry="1.6" fill="#52c24a" transform="translate(500 312.5) rotate(-20)"/><ellipse cx="0" cy="0" rx="3.2" ry="1.6" fill="#52c24a" transform="translate(509.8 312.4) rotate(-20)"/><ellipse cx="0" cy="0" rx="3.2" ry="1.6" fill="#52c24a" transform="translate(519.5 312.2) rotate(-20)"/><ellipse cx="0" cy="0" rx="3.2" ry="1.6" fill="#52c24a" transform="translate(529.2 312.1) rotate(-20)"/><ellipse cx="0" cy="0" rx="3.2" ry="1.6" fill="#52c24a" transform="translate(539 312) rotate(-20)"/><ellipse cx="0" cy="0" rx="3.2" ry="1.6" fill="#ecec1e" transform="translate(462 317) rotate(-20)"/><ellipse cx="0" cy="0" rx="3.2" ry="1.6" fill="#ecec1e" transform="translate(471.8 316.9) rotate(-20)"/><ellipse cx="0" cy="0" rx="3.2" ry="1.6" fill="#ecec1e" transform="translate(481.5 316.8) rotate(-20)"/><ellipse cx="0" cy="0" rx="3.2" ry="1.6" fill="#ecec1e" transform="translate(491.2 316.6) rotate(-20)"/><ellipse cx="0" cy="0" rx="3.2" ry="1.6" fill="#ecec1e" transform="translate(501 316.5) rotate(-20)"/><ellipse cx="0" cy="0" rx="3.2" ry="1.6" fill="#ecec1e" transform="translate(510.8 316.4) rotate(-20)"/><ellipse cx="0" cy="0" rx="3.2" ry="1.6" fill="#ecec1e" transform="translate(520.5 316.2) rotate(-20)"/><ellipse cx="0" cy="0" rx="3.2" ry="1.6" fill="#ecec1e" transform="translate(530.2 316.1) rotate(-20)"/><ellipse cx="0" cy="0" rx="3.2" ry="1.6" fill="#ecec1e" transform="translate(540 316) rotate(-20)"/><ellipse cx="0" cy="0" rx="3.2" ry="1.6" fill="#ecec1e" transform="translate(463 321) rotate(-20)"/><ellipse cx="0" cy="0" rx="3.2" ry="1.6" fill="#ecec1e" transform="translate(472.8 320.9) rotate(-20)"/><ellipse cx="0" cy="0" rx="3.2" ry="1.6" fill="#ecec1e" transform="translate(482.5 320.8) rotate(-20)"/><ellipse cx="0" cy="0" rx="3.2" ry="1.6" fill="#ecec1e" transform="translate(492.2 320.6) rotate(-20)"/><ellipse cx="0" cy="0" rx="3.2" ry="1.6" fill="#ecec1e" transform="translate(502 320.5) rotate(-20)"/><ellipse cx="0" cy="0" rx="3.2" ry="1.6" fill="#ecec1e" transform="translate(511.8 320.4) rotate(-20)"/><ellipse cx="0" cy="0" rx="3.2" ry="1.6" fill="#ecec1e" transform="translate(521.5 320.2) rotate(-20)"/><ellipse cx="0" cy="0" rx="3.2" ry="1.6" fill="#ecec1e" transform="translate(531.2 320.1) rotate(-20)"/><ellipse cx="0" cy="0" rx="3.2" ry="1.6" fill="#ecec1e" transform="translate(541 320) rotate(-20)"/><ellipse cx="0" cy="0" rx="3.2" ry="1.6" fill="#52c24a" transform="translate(464 325) rotate(-20)"/><ellipse cx="0" cy="0" rx="3.2" ry="1.6" fill="#52c24a" transform="translate(473.8 324.9) rotate(-20)"/><ellipse cx="0" cy="0" rx="3.2" ry="1.6" fill="#52c24a" transform="translate(483.5 324.8) rotate(-20)"/><ellipse cx="0" cy="0" rx="3.2" ry="1.6" fill="#52c24a" transform="translate(493.2 324.6) rotate(-20)"/><ellipse cx="0" cy="0" rx="3.2" ry="1.6" fill="#52c24a" transform="translate(503 324.5) rotate(-20)"/><ellipse cx="0" cy="0" rx="3.2" ry="1.6" fill="#52c24a" transform="translate(512.8 324.4) rotate(-20)"/><ellipse cx="0" cy="0" rx="3.2" ry="1.6" fill="#52c24a" transform="translate(522.5 324.2) rotate(-20)"/><ellipse cx="0" cy="0" rx="3.2" ry="1.6" fill="#52c24a" transform="translate(532.2 324.1) rotate(-20)"/><ellipse cx="0" cy="0" rx="3.2" ry="1.6" fill="#52c24a" transform="translate(542 324) rotate(-20)"/>
<polygon points="462,341 490,341 491,373 463,373" fill="#c8e890" opacity="0.5"/><ellipse cx="462" cy="341" rx="2.5" ry="2.5" fill="#ecec1e"/><ellipse cx="466.7" cy="341" rx="2.5" ry="2.5" fill="#ecec1e"/><ellipse cx="471.3" cy="341" rx="2.5" ry="2.5" fill="#ecec1e"/><ellipse cx="476" cy="341" rx="2.5" ry="2.5" fill="#ecec1e"/><ellipse cx="480.7" cy="341" rx="2.5" ry="2.5" fill="#ecec1e"/><ellipse cx="485.3" cy="341" rx="2.5" ry="2.5" fill="#ecec1e"/><ellipse cx="490" cy="341" rx="2.5" ry="2.5" fill="#ecec1e"/><ellipse cx="462.1" cy="345" rx="2.5" ry="2.5" fill="#52c24a"/><ellipse cx="466.8" cy="345" rx="2.5" ry="2.5" fill="#52c24a"/><ellipse cx="471.5" cy="345" rx="2.5" ry="2.5" fill="#52c24a"/><ellipse cx="476.1" cy="345" rx="2.5" ry="2.5" fill="#52c24a"/><ellipse cx="480.8" cy="345" rx="2.5" ry="2.5" fill="#52c24a"/><ellipse cx="485.5" cy="345" rx="2.5" ry="2.5" fill="#52c24a"/><ellipse cx="490.1" cy="345" rx="2.5" ry="2.5" fill="#52c24a"/><ellipse cx="462.2" cy="349" rx="2.5" ry="2.5" fill="#ecec1e"/><ellipse cx="466.9" cy="349" rx="2.5" ry="2.5" fill="#ecec1e"/><ellipse cx="471.6" cy="349" rx="2.5" ry="2.5" fill="#ecec1e"/><ellipse cx="476.2" cy="349" rx="2.5" ry="2.5" fill="#ecec1e"/><ellipse cx="480.9" cy="349" rx="2.5" ry="2.5" fill="#ecec1e"/><ellipse cx="485.6" cy="349" rx="2.5" ry="2.5" fill="#ecec1e"/><ellipse cx="490.2" cy="349" rx="2.5" ry="2.5" fill="#ecec1e"/><ellipse cx="462.4" cy="353" rx="2.5" ry="2.5" fill="#52c24a"/><ellipse cx="467" cy="353" rx="2.5" ry="2.5" fill="#52c24a"/><ellipse cx="471.7" cy="353" rx="2.5" ry="2.5" fill="#52c24a"/><ellipse cx="476.4" cy="353" rx="2.5" ry="2.5" fill="#52c24a"/><ellipse cx="481" cy="353" rx="2.5" ry="2.5" fill="#52c24a"/><ellipse cx="485.7" cy="353" rx="2.5" ry="2.5" fill="#52c24a"/><ellipse cx="490.4" cy="353" rx="2.5" ry="2.5" fill="#52c24a"/><ellipse cx="462.5" cy="357" rx="2.5" ry="2.5" fill="#ecec1e"/><ellipse cx="467.2" cy="357" rx="2.5" ry="2.5" fill="#ecec1e"/><ellipse cx="471.8" cy="357" rx="2.5" ry="2.5" fill="#ecec1e"/><ellipse cx="476.5" cy="357" rx="2.5" ry="2.5" fill="#ecec1e"/><ellipse cx="481.2" cy="357" rx="2.5" ry="2.5" fill="#ecec1e"/><ellipse cx="485.8" cy="357" rx="2.5" ry="2.5" fill="#ecec1e"/><ellipse cx="490.5" cy="357" rx="2.5" ry="2.5" fill="#ecec1e"/><ellipse cx="462.6" cy="361" rx="2.5" ry="2.5" fill="#52c24a"/><ellipse cx="467.3" cy="361" rx="2.5" ry="2.5" fill="#52c24a"/><ellipse cx="472" cy="361" rx="2.5" ry="2.5" fill="#52c24a"/><ellipse cx="476.6" cy="361" rx="2.5" ry="2.5" fill="#52c24a"/><ellipse cx="481.3" cy="361" rx="2.5" ry="2.5" fill="#52c24a"/><ellipse cx="486" cy="361" rx="2.5" ry="2.5" fill="#52c24a"/><ellipse cx="490.6" cy="361" rx="2.5" ry="2.5" fill="#52c24a"/><ellipse cx="462.8" cy="365" rx="2.5" ry="2.5" fill="#ecec1e"/><ellipse cx="467.4" cy="365" rx="2.5" ry="2.5" fill="#ecec1e"/><ellipse cx="472.1" cy="365" rx="2.5" ry="2.5" fill="#ecec1e"/><ellipse cx="476.8" cy="365" rx="2.5" ry="2.5" fill="#ecec1e"/><ellipse cx="481.4" cy="365" rx="2.5" ry="2.5" fill="#ecec1e"/><ellipse cx="486.1" cy="365" rx="2.5" ry="2.5" fill="#ecec1e"/><ellipse cx="490.8" cy="365" rx="2.5" ry="2.5" fill="#ecec1e"/><ellipse cx="462.9" cy="369" rx="2.5" ry="2.5" fill="#52c24a"/><ellipse cx="467.5" cy="369" rx="2.5" ry="2.5" fill="#52c24a"/><ellipse cx="472.2" cy="369" rx="2.5" ry="2.5" fill="#52c24a"/><ellipse cx="476.9" cy="369" rx="2.5" ry="2.5" fill="#52c24a"/><ellipse cx="481.5" cy="369" rx="2.5" ry="2.5" fill="#52c24a"/><ellipse cx="486.2" cy="369" rx="2.5" ry="2.5" fill="#52c24a"/><ellipse cx="490.9" cy="369" rx="2.5" ry="2.5" fill="#52c24a"/><ellipse cx="463" cy="373" rx="2.5" ry="2.5" fill="#ecec1e"/><ellipse cx="467.7" cy="373" rx="2.5" ry="2.5" fill="#ecec1e"/><ellipse cx="472.3" cy="373" rx="2.5" ry="2.5" fill="#ecec1e"/><ellipse cx="477" cy="373" rx="2.5" ry="2.5" fill="#ecec1e"/><ellipse cx="481.7" cy="373" rx="2.5" ry="2.5" fill="#ecec1e"/><ellipse cx="486.3" cy="373" rx="2.5" ry="2.5" fill="#ecec1e"/><ellipse cx="491" cy="373" rx="2.5" ry="2.5" fill="#ecec1e"/>
<polygon points="522,353 590,359 590,373 522,367" fill="#c0e090" opacity="0.4"/><ellipse cx="522" cy="353" rx="2.6" ry="2.6" fill="#ecec1e"/><ellipse cx="527.2" cy="353.5" rx="2.6" ry="2.6" fill="#ecec1e"/><ellipse cx="532.5" cy="353.9" rx="2.6" ry="2.6" fill="#ecec1e"/><ellipse cx="537.7" cy="354.4" rx="2.6" ry="2.6" fill="#ecec1e"/><ellipse cx="542.9" cy="354.8" rx="2.6" ry="2.6" fill="#ecec1e"/><ellipse cx="548.2" cy="355.3" rx="2.6" ry="2.6" fill="#ecec1e"/><ellipse cx="553.4" cy="355.8" rx="2.6" ry="2.6" fill="#ecec1e"/><ellipse cx="558.6" cy="356.2" rx="2.6" ry="2.6" fill="#ecec1e"/><ellipse cx="563.8" cy="356.7" rx="2.6" ry="2.6" fill="#ecec1e"/><ellipse cx="569.1" cy="357.2" rx="2.6" ry="2.6" fill="#ecec1e"/><ellipse cx="574.3" cy="357.6" rx="2.6" ry="2.6" fill="#ecec1e"/><ellipse cx="579.5" cy="358.1" rx="2.6" ry="2.6" fill="#ecec1e"/><ellipse cx="584.8" cy="358.5" rx="2.6" ry="2.6" fill="#ecec1e"/><ellipse cx="590" cy="359" rx="2.6" ry="2.6" fill="#ecec1e"/><ellipse cx="522" cy="357.7" rx="2.6" ry="2.6" fill="#52c24a"/><ellipse cx="527.2" cy="358.1" rx="2.6" ry="2.6" fill="#52c24a"/><ellipse cx="532.5" cy="358.6" rx="2.6" ry="2.6" fill="#52c24a"/><ellipse cx="537.7" cy="359.1" rx="2.6" ry="2.6" fill="#52c24a"/><ellipse cx="542.9" cy="359.5" rx="2.6" ry="2.6" fill="#52c24a"/><ellipse cx="548.2" cy="360" rx="2.6" ry="2.6" fill="#52c24a"/><ellipse cx="553.4" cy="360.4" rx="2.6" ry="2.6" fill="#52c24a"/><ellipse cx="558.6" cy="360.9" rx="2.6" ry="2.6" fill="#52c24a"/><ellipse cx="563.8" cy="361.4" rx="2.6" ry="2.6" fill="#52c24a"/><ellipse cx="569.1" cy="361.8" rx="2.6" ry="2.6" fill="#52c24a"/><ellipse cx="574.3" cy="362.3" rx="2.6" ry="2.6" fill="#52c24a"/><ellipse cx="579.5" cy="362.7" rx="2.6" ry="2.6" fill="#52c24a"/><ellipse cx="584.8" cy="363.2" rx="2.6" ry="2.6" fill="#52c24a"/><ellipse cx="590" cy="363.7" rx="2.6" ry="2.6" fill="#52c24a"/><ellipse cx="522" cy="362.3" rx="2.6" ry="2.6" fill="#ecec1e"/><ellipse cx="527.2" cy="362.8" rx="2.6" ry="2.6" fill="#ecec1e"/><ellipse cx="532.5" cy="363.3" rx="2.6" ry="2.6" fill="#ecec1e"/><ellipse cx="537.7" cy="363.7" rx="2.6" ry="2.6" fill="#ecec1e"/><ellipse cx="542.9" cy="364.2" rx="2.6" ry="2.6" fill="#ecec1e"/><ellipse cx="548.2" cy="364.6" rx="2.6" ry="2.6" fill="#ecec1e"/><ellipse cx="553.4" cy="365.1" rx="2.6" ry="2.6" fill="#ecec1e"/><ellipse cx="558.6" cy="365.6" rx="2.6" ry="2.6" fill="#ecec1e"/><ellipse cx="563.8" cy="366" rx="2.6" ry="2.6" fill="#ecec1e"/><ellipse cx="569.1" cy="366.5" rx="2.6" ry="2.6" fill="#ecec1e"/><ellipse cx="574.3" cy="366.9" rx="2.6" ry="2.6" fill="#ecec1e"/><ellipse cx="579.5" cy="367.4" rx="2.6" ry="2.6" fill="#ecec1e"/><ellipse cx="584.8" cy="367.9" rx="2.6" ry="2.6" fill="#ecec1e"/><ellipse cx="590" cy="368.3" rx="2.6" ry="2.6" fill="#ecec1e"/><ellipse cx="522" cy="367" rx="2.6" ry="2.6" fill="#ecec1e"/><ellipse cx="527.2" cy="367.5" rx="2.6" ry="2.6" fill="#ecec1e"/><ellipse cx="532.5" cy="367.9" rx="2.6" ry="2.6" fill="#ecec1e"/><ellipse cx="537.7" cy="368.4" rx="2.6" ry="2.6" fill="#ecec1e"/><ellipse cx="542.9" cy="368.8" rx="2.6" ry="2.6" fill="#ecec1e"/><ellipse cx="548.2" cy="369.3" rx="2.6" ry="2.6" fill="#ecec1e"/><ellipse cx="553.4" cy="369.8" rx="2.6" ry="2.6" fill="#ecec1e"/><ellipse cx="558.6" cy="370.2" rx="2.6" ry="2.6" fill="#ecec1e"/><ellipse cx="563.8" cy="370.7" rx="2.6" ry="2.6" fill="#ecec1e"/><ellipse cx="569.1" cy="371.2" rx="2.6" ry="2.6" fill="#ecec1e"/><ellipse cx="574.3" cy="371.6" rx="2.6" ry="2.6" fill="#ecec1e"/><ellipse cx="579.5" cy="372.1" rx="2.6" ry="2.6" fill="#ecec1e"/><ellipse cx="584.8" cy="372.5" rx="2.6" ry="2.6" fill="#ecec1e"/><ellipse cx="590" cy="373" rx="2.6" ry="2.6" fill="#ecec1e"/>
<polygon points="553,300 583,301 619,347 589,346" fill="#d8f0b0" opacity="0.4"/><ellipse cx="553" cy="300" rx="2.3" ry="2.3" fill="#ecec1e"/><ellipse cx="557.3" cy="300.1" rx="2.3" ry="2.3" fill="#ecec1e"/><ellipse cx="561.6" cy="300.3" rx="2.3" ry="2.3" fill="#ecec1e"/><ellipse cx="565.9" cy="300.4" rx="2.3" ry="2.3" fill="#ecec1e"/><ellipse cx="570.1" cy="300.6" rx="2.3" ry="2.3" fill="#ecec1e"/><ellipse cx="574.4" cy="300.7" rx="2.3" ry="2.3" fill="#ecec1e"/><ellipse cx="578.7" cy="300.9" rx="2.3" ry="2.3" fill="#ecec1e"/><ellipse cx="583" cy="301" rx="2.3" ry="2.3" fill="#ecec1e"/><ellipse cx="557" cy="305.1" rx="2.3" ry="2.3" fill="#52c24a"/><ellipse cx="561.3" cy="305.3" rx="2.3" ry="2.3" fill="#52c24a"/><ellipse cx="565.6" cy="305.4" rx="2.3" ry="2.3" fill="#52c24a"/><ellipse cx="569.9" cy="305.5" rx="2.3" ry="2.3" fill="#52c24a"/><ellipse cx="574.1" cy="305.7" rx="2.3" ry="2.3" fill="#52c24a"/><ellipse cx="578.4" cy="305.8" rx="2.3" ry="2.3" fill="#52c24a"/><ellipse cx="582.7" cy="306" rx="2.3" ry="2.3" fill="#52c24a"/><ellipse cx="587" cy="306.1" rx="2.3" ry="2.3" fill="#52c24a"/><ellipse cx="561" cy="310.2" rx="2.3" ry="2.3" fill="#ecec1e"/><ellipse cx="565.3" cy="310.4" rx="2.3" ry="2.3" fill="#ecec1e"/><ellipse cx="569.6" cy="310.5" rx="2.3" ry="2.3" fill="#ecec1e"/><ellipse cx="573.9" cy="310.7" rx="2.3" ry="2.3" fill="#ecec1e"/><ellipse cx="578.1" cy="310.8" rx="2.3" ry="2.3" fill="#ecec1e"/><ellipse cx="582.4" cy="310.9" rx="2.3" ry="2.3" fill="#ecec1e"/><ellipse cx="586.7" cy="311.1" rx="2.3" ry="2.3" fill="#ecec1e"/><ellipse cx="591" cy="311.2" rx="2.3" ry="2.3" fill="#ecec1e"/><ellipse cx="565" cy="315.3" rx="2.3" ry="2.3" fill="#52c24a"/><ellipse cx="569.3" cy="315.5" rx="2.3" ry="2.3" fill="#52c24a"/><ellipse cx="573.6" cy="315.6" rx="2.3" ry="2.3" fill="#52c24a"/><ellipse cx="577.9" cy="315.8" rx="2.3" ry="2.3" fill="#52c24a"/><ellipse cx="582.1" cy="315.9" rx="2.3" ry="2.3" fill="#52c24a"/><ellipse cx="586.4" cy="316" rx="2.3" ry="2.3" fill="#52c24a"/><ellipse cx="590.7" cy="316.2" rx="2.3" ry="2.3" fill="#52c24a"/><ellipse cx="595" cy="316.3" rx="2.3" ry="2.3" fill="#52c24a"/><ellipse cx="569" cy="320.4" rx="2.3" ry="2.3" fill="#ecec1e"/><ellipse cx="573.3" cy="320.6" rx="2.3" ry="2.3" fill="#ecec1e"/><ellipse cx="577.6" cy="320.7" rx="2.3" ry="2.3" fill="#ecec1e"/><ellipse cx="581.9" cy="320.9" rx="2.3" ry="2.3" fill="#ecec1e"/><ellipse cx="586.1" cy="321" rx="2.3" ry="2.3" fill="#ecec1e"/><ellipse cx="590.4" cy="321.2" rx="2.3" ry="2.3" fill="#ecec1e"/><ellipse cx="594.7" cy="321.3" rx="2.3" ry="2.3" fill="#ecec1e"/><ellipse cx="599" cy="321.4" rx="2.3" ry="2.3" fill="#ecec1e"/><ellipse cx="573" cy="325.6" rx="2.3" ry="2.3" fill="#52c24a"/><ellipse cx="577.3" cy="325.7" rx="2.3" ry="2.3" fill="#52c24a"/><ellipse cx="581.6" cy="325.8" rx="2.3" ry="2.3" fill="#52c24a"/><ellipse cx="585.9" cy="326" rx="2.3" ry="2.3" fill="#52c24a"/><ellipse cx="590.1" cy="326.1" rx="2.3" ry="2.3" fill="#52c24a"/><ellipse cx="594.4" cy="326.3" rx="2.3" ry="2.3" fill="#52c24a"/><ellipse cx="598.7" cy="326.4" rx="2.3" ry="2.3" fill="#52c24a"/><ellipse cx="603" cy="326.6" rx="2.3" ry="2.3" fill="#52c24a"/><ellipse cx="577" cy="330.7" rx="2.3" ry="2.3" fill="#ecec1e"/><ellipse cx="581.3" cy="330.8" rx="2.3" ry="2.3" fill="#ecec1e"/><ellipse cx="585.6" cy="331" rx="2.3" ry="2.3" fill="#ecec1e"/><ellipse cx="589.9" cy="331.1" rx="2.3" ry="2.3" fill="#ecec1e"/><ellipse cx="594.1" cy="331.2" rx="2.3" ry="2.3" fill="#ecec1e"/><ellipse cx="598.4" cy="331.4" rx="2.3" ry="2.3" fill="#ecec1e"/><ellipse cx="602.7" cy="331.5" rx="2.3" ry="2.3" fill="#ecec1e"/><ellipse cx="607" cy="331.7" rx="2.3" ry="2.3" fill="#ecec1e"/><ellipse cx="581" cy="335.8" rx="2.3" ry="2.3" fill="#52c24a"/><ellipse cx="585.3" cy="335.9" rx="2.3" ry="2.3" fill="#52c24a"/><ellipse cx="589.6" cy="336.1" rx="2.3" ry="2.3" fill="#52c24a"/><ellipse cx="593.9" cy="336.2" rx="2.3" ry="2.3" fill="#52c24a"/><ellipse cx="598.1" cy="336.3" rx="2.3" ry="2.3" fill="#52c24a"/><ellipse cx="602.4" cy="336.5" rx="2.3" ry="2.3" fill="#52c24a"/><ellipse cx="606.7" cy="336.6" rx="2.3" ry="2.3" fill="#52c24a"/><ellipse cx="611" cy="336.8" rx="2.3" ry="2.3" fill="#52c24a"/><ellipse cx="585" cy="340.9" rx="2.3" ry="2.3" fill="#ecec1e"/><ellipse cx="589.3" cy="341" rx="2.3" ry="2.3" fill="#ecec1e"/><ellipse cx="593.6" cy="341.2" rx="2.3" ry="2.3" fill="#ecec1e"/><ellipse cx="597.9" cy="341.3" rx="2.3" ry="2.3" fill="#ecec1e"/><ellipse cx="602.1" cy="341.5" rx="2.3" ry="2.3" fill="#ecec1e"/><ellipse cx="606.4" cy="341.6" rx="2.3" ry="2.3" fill="#ecec1e"/><ellipse cx="610.7" cy="341.7" rx="2.3" ry="2.3" fill="#ecec1e"/><ellipse cx="615" cy="341.9" rx="2.3" ry="2.3" fill="#ecec1e"/><ellipse cx="589" cy="346" rx="2.3" ry="2.3" fill="#52c24a"/><ellipse cx="593.3" cy="346.1" rx="2.3" ry="2.3" fill="#52c24a"/><ellipse cx="597.6" cy="346.3" rx="2.3" ry="2.3" fill="#52c24a"/><ellipse cx="601.9" cy="346.4" rx="2.3" ry="2.3" fill="#52c24a"/><ellipse cx="606.1" cy="346.6" rx="2.3" ry="2.3" fill="#52c24a"/><ellipse cx="610.4" cy="346.7" rx="2.3" ry="2.3" fill="#52c24a"/><ellipse cx="614.7" cy="346.9" rx="2.3" ry="2.3" fill="#52c24a"/><ellipse cx="619" cy="347" rx="2.3" ry="2.3" fill="#52c24a"/>
<g transform="scale(.5)" fill="none" stroke-linecap="round"><path d="M192 787l-11 3l0 0l11-1l0 1l-11 1l0 1l11 0l0 1l11 2l11-1l0-1l-11-1l-11 0m0-5l1-1l11-3l11-1l0 1l-11 3l-12 1m0 2l11-1l1-2m-12 4l11 0l0 2m0-4l11-1l0 2l-11 1m11-3l12-2l0-2l-11 0m-1 6l11 0l0 2l-11 2m0 1l11 1l11-1l0-3l-11 0m-10-9l11-4l11-1l0 3l-11 3m-1 6l11-2l1-3l-11 1m10 2l11 0l0 3l-11 1m0 3l11 1l11-1l0-3l-11-1m-10-13l12-3l11 0l0 3l-12 2l-11 1m0 4l11-2l0-3m-1 8l12-2l0-3l-11 0m10 9l11-1l1-3l-11-2m-1 9l11 2l11-1l0-3l-11-2m-10-8l11-2l1-3l-11 0m0-3l12-3l11 0l-1 4l-11 2m-1 3l11 1l0 4l-11 2m10 5l11-2l1-4l-11-1m-1 10l10 3l12-2l0-4l-11-2m-10-9l12-2l0-4l-11 0m1-4l11-3l11 0l0 4l-12 3m-1 11l11-2l1-4l-11-1m9 13l11-2l1-4l-11-2m-1 12l10 4l11-2l1-5l-11-3m-9-10l11-3l1-5l-11 0m0-4l12-5l11 0l-1 5l-11 4m-2 14l11-3l1-5l-11-1m8 21l11 4l11-1l0-6l-10-4l-11 2m1-10l11 3l-1 5m-9-13l11-3l1-6l-11-1m1-5l11-5l11 1l-1 6l-11 4m-2 17l11-3l1-6l-11-2m8 20l11-2l1-7l-10-3m-2 18l10 5l11-1l1-7l-11-5m-8-16l11-4l1-6l-11-2m1-6l11-6l11 3l-1 7l-11 4m-3 19l12-2l0-7l-10-4m7 32l10 7l11-1l1-8l-10-6l-11 1m2-21l12-2l1-8l-11-4m-2 21l10 6l-1 7m-6-41l12-4l11 4l-1 8l-12 3m-3 23l11-2l1-8l-10-5m6 36l10 6l11-3l2-8l-11-5l-11 2m2-15l11 5l-2 8m-8-21l12-3l1-8l-10-5m1-8l12-3l11 5l-2 8l-12 3m-3 24l11-3l2-8l-11-5m5 37l11 5l12-4l1-8l-10-4l-12 3m2-16l11 4l-1 9m-8-21l12-4l1-8l-11-4m2-8l12-4l10 6l-1 8l-12 2m-4 24l12-3l1-8l-10-5m5 37l10 5l12-3l1-8l-10-5l-12 3m3-16l10 5l-1 8m-8-21l12-2l2-8l-11-5m1-8l13-3l10 6l-1 8l-12 2m-5 23l12-2l2-8l-11-5m5 36l10 4l11-2l2-8l-10-5l-12 3m3-15l10 5l-1 7m-7-20l12-2l1-7l-10-6m1-8l12-1l11 6l-2 7l-12 2m-5 22l12-2l2-7l-10-6m3 35l11 5l11-2l2-7l-10-6l-12 2m3-14l11 5l-2 7m-7-19l12-2l2-7l-11-6m2-7l12-1l10 6l-1 7l-12 1m-5 21l11-1l2-7l-10-6m3 34l10 5l12-2l2-6l-10-6l-12 2m3-14l10 5l-1 7m-7-19l12-1l1-7l-9-6m1-7l12 0l10 7l-2 7l-12-1m-5 20l12 0l2-7l-10-6m3 32l11 5l11-2l1-5l-9-5l-12 1m3-13l10 6l-1 6m-7-19l11 1l2-6l-10-7m2-7l11 2l8 8l-1 6l-10-2m-5 18l11 0l1-5l-9-7m4 28l7 2l7-4l1-3l-6-2l-8 2m3-11l6 5l-1 4m-4-14l7 1l1-4l-5-8m1-6l6 5l3 11l-1 3l-4-5m-3 13l6 1l0-3l-4-7m3 15l5-1l0-1l-4-3m0-3l4 3l0-1l-3-8" stroke="#1a1a1a" stroke-width="3" stroke-linecap="butt"/><path d="M361 753h0m23-1h0m23 1h0m23 1h0m-91 4h0m11 1h0m22-3h0m23 0h0m23 2h0m22 2h0m13-3h0m-136 6h0m11 0h0m21 2h0m11 2h0m11-4h0m11 4h0m12-3h0m22 2h0m47-3h0m12-1h0m23 5h0m-226 4h0m11 0h0m11-3h0m11 0h0m0 4h0m11 0h0m11-4h0m11 1h0m21 4h0m45-4h0m23 1h0m12-2h0m11 5h0m12-2h0m24-3h0m22 5h0m12 0h0m-294 5h0m11-1h0m11 2h0m1-5h0m11 0h0m0 3h0m11 0h0m11-2h0m11 0h0m0 4h0m22-2h0m11 1h0m11-3h0m11 2h0m21 0h0m12-2h0m22 2h0m23 1h0m46-1h0m12-2h0m-280 8h0m11-1h0m0 1h0m11 0h0m0 2h0m11-5h0m0 4h0m11-2h0m11 0h0m0 3h0m11-5h0m11 1h0m0 4h0m22-1h0m1-4h0m21 3h0m22 0h0m22 1h0m22-4h0m23 2h0m22 1h0m12-2h0m23 3h0m24-3h0m12-1h0m23 0h0m11 2h0m-360 8h0m0 0h0m0 1h0m11-4h0m0 2h0m0 1h0m1-4h0m10 2h0m0 2h0m1-4h0m10 1h0m0 2h0m11 0h0m0 2h0m11-4h0m0 4h0m11-4h0m0 3h0m11 1h0m11-1h0m1-3h0m21 3h0m1-4h0m21 4h0m1-4h0m21 5h0m1-5h0m21 0h0m22 4h0m11-2h0m22 2h0m23 1h0m24-5h0m22 4h0m12-2h0m23-2h0m12 1h0m21 3h0m-368 2h0m11 0h0m0 1h0m11-1h0m0 3h0m11-2h0m0 1h0m11 1h0m11-1h0m11 1h0m11-1h0m11 2h0m11-4h0m0 3h0m22-3h0m0 4h0m22-3h0m21 2h0m11-2h0m22 4h0m23-4h0m22 1h0m22 2h0m12-2h0m22 3h0m24-3h0m12-1h0m23 1h0m10 2h0m7-1h0m-265 3h0m22 2h0m11-2h0m11 4h0m11-1h0m22-3h0m21 5h0m11-2h0m23 2h0m45-4h0m23 3h0m11-1h0m24-2h0m11 1h0m-181 6h0m11-1h0m44 1h0m22 1h0m12-3h0m10 5h0m12-3h0m22 3h0m23-3h0m12 0h0m22 1h0m7 1h0m1-4h0m4 5h0m1-3h0m-182 6h0m11-1h0m21 3h0m23 1h0m45-4h0m22 4h0m12-2h0m23-1h0m11 0h0m12 3h0m-159 2h0m22 2h0m22 1h0m12-3h0m10 4h0m11-2h0m46 0h0m12-1h0m17 3h0m1-4h0m6 1h0m4-1h0m0 1h0m0 3h0m-75 3h0m11-2h0m10 5h0m12-2h0m23-2h0m13 3h0m1-3h0m5-1h0m-31 8h0m11-2h0m7 2h0" stroke="#111" stroke-width="8.4"/><path d="M360 752h0m23-1h0m23 1h0m23 1h0m-91 4h0m11 1h0m22-3h0m23 0h0m23 2h0m22 2h0m13-3h0m-136 6h0m11 0h0m21 2h0m11 2h0m11-4h0m11 4h0m12-3h0m22 2h0m47-3h0m12-1h0m23 5h0m-226 4h0m11 0h0m11-3h0m11 0h0m0 4h0m11 0h0m11-4h0m11 1h0m21 4h0m45-4h0m23 1h0m12-2h0m11 5h0m12-2h0m24-3h0m22 5h0m12 0h0m-294 5h0m11-1h0m11 2h0m1-5h0m11 0h0m0 3h0m11 0h0m11-2h0m11 0h0m0 4h0m22-2h0m11 1h0m11-3h0m11 2h0m21 0h0m12-2h0m22 2h0m23 1h0m46-1h0m12-2h0m-280 8h0m11-1h0m0 1h0m11 0h0m0 2h0m11-5h0m0 4h0m11-2h0m11 0h0m0 3h0m11-5h0m11 1h0m0 4h0m22-1h0m1-4h0m21 3h0m22 0h0m22 1h0m22-4h0m23 2h0m22 1h0m12-2h0m23 3h0m24-3h0m12-1h0m23 0h0m11 2h0m-360 8h0m0 0h0m0 1h0m11-4h0m0 2h0m0 1h0m1-4h0m10 2h0m0 2h0m1-4h0m10 1h0m0 2h0m11 0h0m0 2h0m11-4h0m0 4h0m11-4h0m0 3h0m11 1h0m11-1h0m1-3h0m21 3h0m1-4h0m21 4h0m1-4h0m21 5h0m1-5h0m21 0h0m22 4h0m11-2h0m22 2h0m23 1h0m24-5h0m22 4h0m12-2h0m23-2h0m12 1h0m21 3h0m-368 2h0m11 0h0m0 1h0m11-1h0m0 3h0m11-2h0m0 1h0m11 1h0m11-1h0m11 1h0m11-1h0m11 2h0m11-4h0m0 3h0m22-3h0m0 4h0m22-3h0m21 2h0m11-2h0m22 4h0m23-4h0m22 1h0m22 2h0m12-2h0m22 3h0m24-3h0m12-1h0m23 1h0m10 2h0m7-1h0m-265 3h0m22 2h0m11-2h0m11 4h0m11-1h0m22-3h0m21 5h0m11-2h0m23 2h0m45-4h0m23 3h0m11-1h0m24-2h0m11 1h0m-181 6h0m11-1h0m44 1h0m22 1h0m12-3h0m10 5h0m12-3h0m22 3h0m23-3h0m12 0h0m22 1h0m7 1h0m1-4h0m4 5h0m1-3h0m-182 6h0m11-1h0m21 3h0m23 1h0m45-4h0m22 4h0m12-2h0m23-1h0m11 0h0m12 3h0m-159 2h0m22 2h0m22 1h0m12-3h0m10 4h0m11-2h0m46 0h0m12-1h0m17 3h0m1-4h0m6 1h0m4-1h0m0 1h0m0 3h0m-75 3h0m11-2h0m10 5h0m12-2h0m23-2h0m13 3h0m1-3h0m5-1h0m-31 8h0m11-2h0m7 2h0" stroke="#4a4a4a" stroke-width="3.5"/></g>
<ellipse cx="158.4" cy="381.5" rx="2.4" ry="2.2" fill="#e01010"/><ellipse cx="231.6" cy="381.6" rx="2.4" ry="2.2" fill="#e01010"/><ellipse cx="106.9" cy="397.2" rx="2.4" ry="2.2" fill="#e01010"/><ellipse cx="200.3" cy="396.5" rx="2.4" ry="2.2" fill="#e01010"/><ellipse cx="249" cy="407.3" rx="2.4" ry="2.2" fill="#e01010"/><ellipse cx="185.6" cy="381.5" rx="2.4" ry="2.2" fill="#e01010"/>
<ellipse cx="129.5" cy="391.2" rx="2.4" ry="1.8" fill="#e8e820"/><ellipse cx="169.5" cy="379.1" rx="2.4" ry="1.8" fill="#e8e820"/><ellipse cx="270.5" cy="411.4" rx="2.4" ry="1.8" fill="#e8e820"/><ellipse cx="190.9" cy="383.6" rx="2.4" ry="1.8" fill="#e8e820"/><ellipse cx="101.9" cy="391.6" rx="2.4" ry="1.8" fill="#e8e820"/><ellipse cx="107.2" cy="393.5" rx="2.4" ry="1.8" fill="#e8e820"/>
<g transform="scale(.5)" fill="none" stroke-linecap="round"><path d="M301 660l-10-4l0-7l10-2l11 3l0 7l-11 3l0 6l-10 2l-1 7l11 4l0 7l-11 2l0 6l11 5l0 6l-11 2l0 7l11 4l0 7l-11 1l0 7l11 5l10-2l0-7l-10-4m0-59l11 4l0 7l-11 2m0 7l11 4l0 6l-11 3m0 6l10 5l0 6l-10 2m10-8l11-3l0-6l-10-5m-1 20l11 5l0 6l-11 2m0 7l11 5l10-2l0-7l-10-5m-10-77l11-2l10 4l0 6l-11 3l-10-4m0 13l10-2l0-7m-10 16l10 4l0 7l-10 2m10-22l11 4l0 7l-11 2m0 7l11 4l0 7l-11 2m0 6l11 5l-1 7l-10 2m10-2l11 5l0 6l-11 2m0 7l11 5l10-2l0-7l-10-5m-10-78l11-3l11 4l-1 7l-10 2l-11-4m0 14l11-3l0-7m-11 17l11 4l-1 7l-10 2m0 7l10 4l0 7l-10 2m10-22l11 4l0 7l-11 2m0 7l11 4l-1 7l-10 3m1-55l10 5l0 6l-10 3m9 38l11 4l0 7l-11 3m0 7l11 3l10-3l0-7l-10-3m-10-72l11 4l0 7l-11 3m0 6l11 5l0 6l-11 3m0 7l10 4l0 7l-10 2m1-61l10-2l11 5l0 6l-11 2m-1 41l11-3l0-7l-10-4m-1 21l11 3l0 7l-11 3m1-54l10 5l0 6l-10 3m9 50l11-3l0-7l-10-3m-1 20l11 3l10-4l0-6l-10-3m-10-56l11-3l0-6l-10-5m-1 20l11 4l0 7l-11 2m0 7l10 4l0 6l-10 3m1-59l10-2l11 5l0 6l-11 2m-1 39l11-3l0-6l-10-4m-1 19l11 4l0 6l-11 3m1-52l11 5l-1 6l-10 2m9 49l11-4l0-6l-10-3m-1 19l11 3l10-4l0-6l-10-3m-10-47l11 4l0 6l-11 3m0 6l11 4l-1 6l-10 3m1-57l11-2l10 4l0 6l-11 2l-10-4m0 13l10-3l0-6m-1 44l11 3l0 6l-11 3m1-50l11 5l0 6l-11 2m0 6l10 4l0 6l-10 3m9 27l11-3l0-6l-10-3m-1 18l11 2l10-3l0-5l-10-3m-10-33l11-2l0-6l-10-4m-1 18l11 3l-1 6l-10 3m1-55l11-1l10 6l-1 6l-10 0l-10-5m0 13l10-2l0-6m-1 41l11 4l0 5l-11 3m1-47l10 5l0 6l-10 1m0 6l10 4l0 6l-10 1m9 27l11-3l0-5l-10-4m-1 17l11 2l10-2l0-5l-10-3m-10-59l10 6l0 6l-10-1m0 6l10 5l0 5l-10 1m0 6l10 4l0 5l-10 2m1-51l9 2l10 7l0 5l-10-2m0 6l10 6l0 5l-10-1m0 5l10 5l0 5l-10 1m0 5l10 4l0 5l-10 2m10-51l10 2l10 6l0 4l-10-1l-10-6m0 10l10 0l0-4m-10 9l10 4l0 5l-10 0m0 5l10 4l0 5l-10 1m0 5l10 3l0 4l-10 3m0 5l10 1l11-2l0-5l-11-2m0-41l10 5l0 4l-10 0m0 5l10 4l0 4l-10 1m0 5l11 3l0 4l-11 2m10-44l10 1l10 5l0 4l-10-1l-10-5m0 8l10 1l0-4m-10 7l10 5l0 4l-10 0m0 4l11 4l0 3l-10 2m0 4l10 2l0 4l-10 2m0 5l10 1l11-2l0-4l-11-2m-1-35l10 4l0 4l-10 0m0 4l11 3l0 4l-10 1m0 3l10 3l0 4l-10 1m9-38l10 2l10 5l0 3l-10-1l-10-5m0 7l10 1l0-3m-10 6l11 4l0 3l-10 0m0 4l10 3l0 4l-10 0m0 4l11 3l0 3l-10 1m0 4l10 2l11-1l0-3l-11-3m-2-31l11 5l0 3l-10-1m0 3l10 4l0 3l-10 0m0 4l11 3l0 3l-10 1m8-33l10 2l10 4l0 3l-10-1l-10-5m1 7l10 1l-1-3m-9 5l10 4l0 3l-10-1m0 3l11 4l0 3l-10 0m0 3l11 3l0 3l-10 1m0 3l10 2l11-2l-1-2l-10-2m-2-27l10 3l0 3l-10 0m0 3l11 3l0 3l-10 0m0 3l11 2l0 3l-10 1m7-29l10 1l11 4l0 2l-10 0l-11-4m1 5l10 1l0-2m-10 4l11 3l0 3l-10 0m0 3l11 2l0 3l-10 0m0 3l11 2l0 2l-11 2m1 2l10 1l11-2l-1-2l-10-1m-3-23l11 3l0 2l-10 0m0 3l11 2l0 2l-10 1m0 3l11 1l0 2l-10 2m7-25l10 1l11 3l0 2l-10-1l-11-3m1 5l10 0l0-2m-10 4l11 3l0 2l-10 0m0 2l10 2l1 2l-10 1m0 2l10 1l1 2l-11 2m1 2l10 0l10-3l0-2l-10 1m-3-19l10 3l1 1l-10 1m0 2l10 1l0 1l-10 2m1 2l10 0l0 2l-10 2m8-20l10 2l10 2l0 1l-10-1l-10-2m0 4l10 0l0-2m-9 3l10 1l0 2l-10 1m0 1l10 0l1 2l-10 2m0 2l10-2l0 2l-9 3m0 2l10-3l9-4l0-1l-10 3m-2-12l11 1l0 1l-10 0m0 2l10-1l0 1l-10 2m1 2l10-2l0 1l-10 3" stroke="#1a1a1a" stroke-width="3" stroke-linecap="butt"/><path d="M301 647h0m-10 2h0m21 1h0m11-2h0m10 4h0m11-3h0m11 4h0m10-2h0m-74 5h0m21 1h0m21 1h0m43-2h0m10-2h0m11 5h0m11-2h0m-107 3h0m21 1h0m22 1h0m10-2h0m11 4h0m11-2h0m21 3h0m21-4h0m11-1h0m-138 8h0m10-2h0m11 4h0m10-2h0m22 1h0m21 2h0m21-4h0m21 2h0m11-2h0m21-1h0m9 2h0m-158 7h0m22 2h0m21-5h0m21 2h0m21 2h0m11-3h0m21 2h0m21-3h0m10 0h0m20 3h0m10 2h0m-167 2h0m21 2h0m11-2h0m11 4h0m10-3h0m21 2h0m22-4h0m21 2h0m10-2h0m10 5h0m10-5h0m10 2h0m20 3h0m-188 5h0m11-2h0m21 2h0m43-3h0m21 1h0m10-2h0m11 4h0m11-2h0m20 3h0m10-5h0m20 2h0m10 1h0m10-3h0m10 5h0m-208 5h0m22-4h0m21 2h0m10-2h0m11 4h0m11-3h0m10 4h0m11-2h0m21 1h0m21-4h0m20 4h0m10-4h0m0 5h0m10-5h0m10 5h0m10-3h0m10 1h0m10-2h0m-207 8h0m11-3h0m10 5h0m11-2h0m21 2h0m42-4h0m21 1h0m11-2h0m10 4h0m10-1h0m20 0h0m10 0h0m10-3h0m10 4h0m10-2h0m0 3h0m10-5h0m0 3h0m10-1h0m-238 9h0m11-2h0m21 2h0m21-4h0m21 2h0m11-3h0m10 4h0m11-3h0m11 4h0m10-3h0m11 3h0m10-1h0m20-2h0m10 0h0m20 0h0m10 0h0m21 2h0m9-2h0m1 3h0m9-5h0m0 3h0m10-2h0m11 4h0m-248 3h0m22 2h0m10-2h0m21 2h0m21 0h0m21 1h0m21 0h0m21-3h0m10-1h0m10 4h0m10-5h0m0 4h0m10-4h0m11 3h0m10-3h0m0 3h0m10-2h0m10 4h0m10-3h0m0 3h0m10-4h0m0 2h0m10-2h0m10-1h0m1 4h0m10-1h0m0 2h0m10 0h0m-300 1h0m11 4h0m10-2h0m21 3h0m22-5h0m21 1h0m21 1h0m21 0h0m21 1h0m10-2h0m10 4h0m10-1h0m21-2h0m0 3h0m10-4h0m10 3h0m10-3h0m0 3h0m10-2h0m11 3h0m10-3h0m0 3h0m10-5h0m0 2h0m10-2h0m1 5h0m9-2h0m1 1h0m9-3h0m0 2h0m1 2h0m9-4h0m0 1h0m1 2h0m0 1h0m-300 6h0m21-4h0m21 3h0m10-3h0m11 4h0m11-3h0m10 3h0m11-3h0m10 3h0m11-3h0m10 3h0m11-3h0m20 2h0m21-3h0m0 4h0m20-3h0m10 0h0m11 3h0m10-3h0m0 3h0m10-3h0m11 2h0m10-3h0m0 2h0m10-2h0m0 4h0m10-3h0m0 1h0m10-2h0m0 2h0m1 2h0m9-5h0m0 1h0m1 2h0m0 1h0m-312 2h0m21 3h0m11-2h0m21 3h0m63 1h0m21 0h0m21-5h0m0 5h0m20-4h0m0 4h0m21-4h0m0 4h0m10-5h0m11 3h0m10-1h0m11 3h0m10-4h0m0 3h0m10-3h0m11 1h0m0 2h0m10-3h0m0 4h0m10-4h0m0 2h0m10-2h0m0 2h0m1 2h0m9-5h0m0 1h0m-312 6h0m21 3h0m21-4h0m21 3h0m11-3h0m10 3h0m11-3h0m10 3h0m21-1h0m21 0h0m21 0h0m21-1h0m21 0h0m0 4h0m10-5h0m11 3h0m10-1h0m10 2h0m11-4h0m0 2h0m10 1h0m1 2h0m10-4h0m0 4h0m10-5h0m0 2h0m-282 4h0m21 3h0m10-2h0m21 3h0m21 0h0m21-1h0m21-1h0m11 2h0m10-3h0m11 2h0m10-2h0m10 1h0m11-2h0m10 1h0m21 0h0m11-1h0m10 2h0m11-2h0m10 1h0m-209 5h0m21 1h0m21 0h0m21-1h0" stroke="#111" stroke-width="8.4"/><path d="M300 646h0m-10 2h0m21 1h0m11-2h0m10 4h0m11-3h0m11 4h0m10-2h0m-74 5h0m21 1h0m21 1h0m43-2h0m10-2h0m11 5h0m11-2h0m-107 3h0m21 1h0m22 1h0m10-2h0m11 4h0m11-2h0m21 3h0m21-4h0m11-1h0m-138 8h0m10-2h0m11 4h0m10-2h0m22 1h0m21 2h0m21-4h0m21 2h0m11-2h0m21-1h0m9 2h0m-158 7h0m22 2h0m21-5h0m21 2h0m21 2h0m11-3h0m21 2h0m21-3h0m10 0h0m20 3h0m10 2h0m-167 2h0m21 2h0m11-2h0m11 4h0m10-3h0m21 2h0m22-4h0m21 2h0m10-2h0m10 5h0m10-5h0m10 2h0m20 3h0m-188 5h0m11-2h0m21 2h0m43-3h0m21 1h0m10-2h0m11 4h0m11-2h0m20 3h0m10-5h0m20 2h0m10 1h0m10-3h0m10 5h0m-208 5h0m22-4h0m21 2h0m10-2h0m11 4h0m11-3h0m10 4h0m11-2h0m21 1h0m21-4h0m20 4h0m10-4h0m0 5h0m10-5h0m10 5h0m10-3h0m10 1h0m10-2h0m-207 8h0m11-3h0m10 5h0m11-2h0m21 2h0m42-4h0m21 1h0m11-2h0m10 4h0m10-1h0m20 0h0m10 0h0m10-3h0m10 4h0m10-2h0m0 3h0m10-5h0m0 3h0m10-1h0m-238 9h0m11-2h0m21 2h0m21-4h0m21 2h0m11-3h0m10 4h0m11-3h0m11 4h0m10-3h0m11 3h0m10-1h0m20-2h0m10 0h0m20 0h0m10 0h0m21 2h0m9-2h0m1 3h0m9-5h0m0 3h0m10-2h0m11 4h0m-248 3h0m22 2h0m10-2h0m21 2h0m21 0h0m21 1h0m21 0h0m21-3h0m10-1h0m10 4h0m10-5h0m0 4h0m10-4h0m11 3h0m10-3h0m0 3h0m10-2h0m10 4h0m10-3h0m0 3h0m10-4h0m0 2h0m10-2h0m10-1h0m1 4h0m10-1h0m0 2h0m10 0h0m-300 1h0m11 4h0m10-2h0m21 3h0m22-5h0m21 1h0m21 1h0m21 0h0m21 1h0m10-2h0m10 4h0m10-1h0m21-2h0m0 3h0m10-4h0m10 3h0m10-3h0m0 3h0m10-2h0m11 3h0m10-3h0m0 3h0m10-5h0m0 2h0m10-2h0m1 5h0m9-2h0m1 1h0m9-3h0m0 2h0m1 2h0m9-4h0m0 1h0m1 2h0m0 1h0m-300 6h0m21-4h0m21 3h0m10-3h0m11 4h0m11-3h0m10 3h0m11-3h0m10 3h0m11-3h0m10 3h0m11-3h0m20 2h0m21-3h0m0 4h0m20-3h0m10 0h0m11 3h0m10-3h0m0 3h0m10-3h0m11 2h0m10-3h0m0 2h0m10-2h0m0 4h0m10-3h0m0 1h0m10-2h0m0 2h0m1 2h0m9-5h0m0 1h0m1 2h0m0 1h0m-312 2h0m21 3h0m11-2h0m21 3h0m63 1h0m21 0h0m21-5h0m0 5h0m20-4h0m0 4h0m21-4h0m0 4h0m10-5h0m11 3h0m10-1h0m11 3h0m10-4h0m0 3h0m10-3h0m11 1h0m0 2h0m10-3h0m0 4h0m10-4h0m0 2h0m10-2h0m0 2h0m1 2h0m9-5h0m0 1h0m-312 6h0m21 3h0m21-4h0m21 3h0m11-3h0m10 3h0m11-3h0m10 3h0m21-1h0m21 0h0m21 0h0m21-1h0m21 0h0m0 4h0m10-5h0m11 3h0m10-1h0m10 2h0m11-4h0m0 2h0m10 1h0m1 2h0m10-4h0m0 4h0m10-5h0m0 2h0m-282 4h0m21 3h0m10-2h0m21 3h0m21 0h0m21-1h0m21-1h0m11 2h0m10-3h0m11 2h0m10-2h0m10 1h0m11-2h0m10 1h0m21 0h0m11-1h0m10 2h0m11-2h0m10 1h0m-209 5h0m21 1h0m21 0h0m21-1h0" stroke="#4a4a4a" stroke-width="3.5"/></g>
<ellipse cx="224.1" cy="341.9" rx="2.4" ry="2.2" fill="#e01010"/><ellipse cx="187.3" cy="357.7" rx="2.4" ry="2.2" fill="#e01010"/><ellipse cx="203.5" cy="344" rx="2.4" ry="2.2" fill="#e01010"/><ellipse cx="192.8" cy="346.4" rx="2.4" ry="2.2" fill="#e01010"/><ellipse cx="248.8" cy="344.7" rx="2.4" ry="2.2" fill="#e01010"/>
<ellipse cx="218.7" cy="366.8" rx="2.4" ry="1.8" fill="#e8e820"/><ellipse cx="166.3" cy="349.3" rx="2.4" ry="1.8" fill="#e8e820"/><ellipse cx="166.3" cy="356.1" rx="2.4" ry="1.8" fill="#e8e820"/><ellipse cx="150.5" cy="342.8" rx="2.4" ry="1.8" fill="#e8e820"/><ellipse cx="155.7" cy="364.6" rx="2.4" ry="1.8" fill="#e8e820"/><ellipse cx="260.1" cy="364.1" rx="2.4" ry="1.8" fill="#e8e820"/>
<g transform="scale(.5)" fill="none" stroke-linecap="round"><path d="M181 679l-5-8l3-9l9-1l3-8l-5-8l3-8l8-1l4-9l8-1l3-9l8-1l6 8l-4 8l-8 1l-5-7m-28 53l-3 8l5 8l-3 8l5 8l8-1l3-9l-5-7l-8 1m-2-16l8-1l4-9l-5-8m1 17l5 7l-3 9m0-41l8-1l3-9l-5-7m-4 33l8-1l3-9l-5-7m-6 58l5 8l-3 8l5 8l8-1l3-9l-5-7l-8 1m-4-33l9-1l3-8l-5-8m-5 33l9-1l3-8l-5-8m-1-41l9-1l3-9m-10 26l8-1l4-8l-5-8m-6 58l5 8l-4 9m0-41l8-2l4-8l-6-8m-4 34l8-1l3-9l-5-8m-6 59l5 7l9-1l3-8l-5-8l-9 1m-1-16l8-1l3-9l-5-7m0-41l8-1l3-9l-5-8m-4 34l8-1l3-9l-5-7m-6 58l5 8l-3 8m-1-41l9-1l3-9l-5-7m-5 33l8-1l4-8l-5-8m-6 58l5 8l8-1l3-9l-5-7l-8 1m-2-16l8-2l4-8l-6-8m-3-73l8-1l3-9l8-1l5 8l-3 8l-8 1l-5-7m-7 17l9-1l3-9m-10 26l8-1l4-8l-5-8m-5 33l8-1l4-8l-6-8m-6 58l5 8l-3 9m0-41l8-1l3-9l-5-8m-4 34l8-1l3-9l-5-7m-5 33l9-1l3-9l-5-7m-5 33l8-1l4-8l-5-8m-4-73l8-2l3-8l-5-8m-4 34l8-1l3-9l-5-8m-5 34l9-1l3-9l-5-7m-5 33l8-1l4-8l-5-8m-7 58l6 8l8-1l3-9l-5-7l-8 1m-2-17l8-1l4-8l-6-8m-4-73l9-1l5 7l-3 9l-9 1m2 16l8-1l4-9l-5-7m-5 33l8-1l3-8l-5-8m-6 58l5 8l-3 9m0-41l8-2l3-8l-5-8m-4 34l8-1l3-9l-5-8m-5 34l9-1l3-9l-5-7m-5 33l8-1l4-9l-5-7m-6-90l8-1l5 8l-3 8l-8 1m1 17l9-1l3-9l-5-8m-5 34l9-1l3-9l-5-7m-5 33l8-1l4-9l-5-7m-5 33l8-1l3-8l-5-8m-4 33l8-1l3-8l-5-8m-2-57l8-1l5 8l-3 8l-8 1m2 16l8-1l3-8l-5-8m-5 34l9-1l3-9l-5-8" stroke="#1a1a1a" stroke-width="3" stroke-linecap="butt"/><path d="M212 617h0m8-1h0m17-2h0m8-1h0m-11 10h0m16-2h0m9-1h0m-58 7h0m8-1h0m17-2h0m21 5h0m17-2h0m8-1h0m-58 7h0m8-1h0m17-2h0m38 4h0m-88 3h0m8-1h0m30 4h0m9-1h0m16-2h0m9-1h0m-75 9h0m16-2h0m9-1h0m30 5h0m8-2h0m17-2h0m8-1h0m-83 11h0m8-1h0m17-2h0m8-1h0m30 4h0m8-1h0m17-2h0m8-1h0m-83 10h0m8-1h0m17-2h0m8-1h0m39 4h0m16-2h0m-113 5h0m9-1h0m38 4h0m17-2h0m8-1h0m16-2h0m22 5h0m-113 6h0m17-2h0m8-1h0m17-2h0m21 5h0m17-2h0m8-1h0m17-2h0m-75 10h0m8-2h0m17-2h0m38 4h0m9-1h0m16-2h0m-113 6h0m8-1h0m30 4h0m9-1h0m16-2h0m9-1h0m30 4h0m8-1h0m-113 6h0m16-2h0m9-1h0m30 5h0m8-1h0m17-2h0m8-2h0m30 5h0m-113 6h0m8-1h0m17-2h0m8-1h0m30 4h0m8-1h0m17-2h0m8-1h0m-83 10h0m9-1h0m16-2h0m8-1h0m39 4h0m16-2h0m9-1h0m-113 5h0m38 4h0m17-2h0m8-1h0m17-2h0m21 5h0m-96 4h0m8-1h0m17-2h0m21 5h0m17-2h0m8-1h0m17-2h0m-75 10h0m8-1h0m17-2h0m38 3h0m9-1h0m16-2h0m-75 9h0m9-1h0m16-2h0m9-1h0m30 4h0m8-1h0m-88 3h0m30 5h0m8-1h0m17-2h0m8-1h0m-58 7h0m8-1h0m30 4h0m8-1h0m17-2h0m8-1h0m-58 7h0m9-1h0m38 4h0m-33 4h0m8-1h0m17-2h0" stroke="#111" stroke-width="8"/><path d="M211 616h0m8-1h0m17-2h0m8-1h0m-11 10h0m16-2h0m9-1h0m-58 7h0m8-1h0m17-2h0m21 5h0m17-2h0m8-1h0m-58 7h0m8-1h0m17-2h0m38 4h0m-88 3h0m8-1h0m30 4h0m9-1h0m16-2h0m9-1h0m-75 9h0m16-2h0m9-1h0m30 5h0m8-2h0m17-2h0m8-1h0m-83 11h0m8-1h0m17-2h0m8-1h0m30 4h0m8-1h0m17-2h0m8-1h0m-83 10h0m8-1h0m17-2h0m8-1h0m39 4h0m16-2h0m-113 5h0m9-1h0m38 4h0m17-2h0m8-1h0m16-2h0m22 5h0m-113 6h0m17-2h0m8-1h0m17-2h0m21 5h0m17-2h0m8-1h0m17-2h0m-75 10h0m8-2h0m17-2h0m38 4h0m9-1h0m16-2h0m-113 6h0m8-1h0m30 4h0m9-1h0m16-2h0m9-1h0m30 4h0m8-1h0m-113 6h0m16-2h0m9-1h0m30 5h0m8-1h0m17-2h0m8-2h0m30 5h0m-113 6h0m8-1h0m17-2h0m8-1h0m30 4h0m8-1h0m17-2h0m8-1h0m-83 10h0m9-1h0m16-2h0m8-1h0m39 4h0m16-2h0m9-1h0m-113 5h0m38 4h0m17-2h0m8-1h0m17-2h0m21 5h0m-96 4h0m8-1h0m17-2h0m21 5h0m17-2h0m8-1h0m17-2h0m-75 10h0m8-1h0m17-2h0m38 3h0m9-1h0m16-2h0m-75 9h0m9-1h0m16-2h0m9-1h0m30 4h0m8-1h0m-88 3h0m30 5h0m8-1h0m17-2h0m8-1h0m-58 7h0m8-1h0m30 4h0m8-1h0m17-2h0m8-1h0m-58 7h0m9-1h0m38 4h0m-33 4h0m8-1h0m17-2h0" stroke="#4a4a4a" stroke-width="3.4"/></g><ellipse cx="114.7" cy="348.6" rx="2.4" ry="2.2" fill="#e01a1a"/><ellipse cx="133.7" cy="329.8" rx="2.4" ry="2.2" fill="#e01a1a"/><ellipse cx="99.6" cy="325.9" rx="2.4" ry="2.2" fill="#e01a1a"/><ellipse cx="141.3" cy="341.2" rx="2.4" ry="2.2" fill="#e01a1a"/><ellipse cx="119.5" cy="315.2" rx="2.4" ry="2.2" fill="#e01a1a"/><ellipse cx="101.4" cy="342.1" rx="2.4" ry="1.8" fill="#e8e820"/><ellipse cx="113.8" cy="340.5" rx="2.4" ry="1.8" fill="#e8e820"/><ellipse cx="117.8" cy="319.5" rx="2.4" ry="1.8" fill="#e8e820"/><ellipse cx="120.5" cy="343.8" rx="2.4" ry="1.8" fill="#e8e820"/>
<g transform="scale(.5)" fill="none" stroke-linecap="round"><path d="M215 622l-9 4l0 2l9-2l0 1l-9 3l0 2l10-1l0 2l9 0l10-2l0-2l-10 0l-9 2m-1-9l0-2l9-5l9-1l1 2l-10 4l-9 2m0 4l9-4l0-2m-9 7l10-1l0 3m-1-7l10-1l0 3l-9 2m8-12l10-3l10 1l0 3l-10 1l-9 0m0 5l10-2l-1-3m-9 8l10 0l1 3l-10 2m0 2l10 1l10-1l-1-3l-9-1m-1-8l10 1l0 3l-10 1m9-12l10-2l10 1l0 3l-10 2l-10-1m1 5l10-2l-1-2m-9 7l10 1l0 3l-10 1m1 3l10 1l9-1l0-3l-10-1m0-9l10 2l0 2l-10 2m9-13l10-1l10 1l0 3l-10 2l-10-2m1 6l9-2l0-2m-9 6l10 2l0 3l-10 1m0 3l10 1l10-1l0-3l-10-1m-1-9l10 2l1 2l-10 2m9-13l10-1l10 1l0 3l-10 1l-10-1m0 6l10-2l0-3m-9 7l10 2l0 3l-10 1m0 3l10 1l10-1l0-3l-10-1m-1-9l10 1l0 3l-9 2m9-13l10-2l10 2l0 3l-10 1l-10-1m0 5l10-1l0-3m-10 7l10 2l0 3l-9 1m0 3l10 1l9 0l0-3l-10-2m0-9l10 2l0 3l-10 1m10-13l10-1l10 1l0 3l-10 2l-10-2m0 6l10-1l0-3m-10 7l10 2l0 3l-10 1m0 3l10 2l10-1l0-3l-10-2m0-9l10 2l0 3l-10 1m10-14l9-2l10 0l0 4l-9 2l-10-1m0 7l10-2l0-4m-10 9l10 1l0 4l-10 1m0 3l10 2l9-2l0-3l-9-1m0-10l9 0l0 4l-9 2m9-16l10-3l10-1l0 4l-10 4l-10 0m0 6l10-3l0-3m-10 10l10 0l0 4l-10 3m0 3l10 1l10-2l0-4l-10-1m0-11l10 0l0 4l-10 3m10-18l9-5l10 0l0 4l-10 5l-9 0m0 7l9-3l0-4m-9 11l10 1l0 4l-10 3m0 4l10 1l9-3l0-5l-9 0m-1-12l10-1l0 5l-9 4m9-21l9-5l10-1l0 5l-10 5l-9 0m0 8l10-4l-1-4m-9 13l10 0l0 5l-10 3m0 5l10 1l10-3l0-5l-10-1m0-14l9 0l0 5l-9 4m9-23l9-5l10-1l0 6l-10 5l-9 0m0 9l10-4l-1-5m-9 14l10 1l0 5l-9 4m0 5l10 1l9-4l0-5l-10-1m0-15l9 0l1 5l-10 5m9-26l9-6l9 0l1 6l-10 6l-9 0m0 10l10-5l-1-5m-8 15l9 1l1 6l-10 4m0 5l10 2l10-4l-1-6l-9-1m-1-17l9 1l1 5l-10 5m8-28l10-6l9 0l0 6l-9 6l-9 0m0 12l10-6l-1-6m-8 17l9 1l1 6l-10 5m1 6l9 2l10-5l-1-7l-9-1m-1-18l9 0l1 7l-10 5m8-30l9-7l10 1l0 6l-9 6l-10 0m1 12l10-6l-1-6m-8 19l9 0l1 7l-10 5m1 7l10 1l9-6l0-6l-10-1m-1-20l9 1l1 7l-10 5m8-31l9-5l10 3l0 6l-9 4l-10-2m1 13l9-5l0-6m-8 18l9 1l1 6l-9 6m0 6l10 1l9-6l-1-6l-9-1m-2-19l10 2l0 6l-9 5m8-29l9-2l10 4l0 5l-9 2l-10-3m1 12l9-4l0-5m-9 15l10 1l0 6l-9 5m1 6l9 0l9-6l0-5l-10 0m-1-17l10 3l0 5l-9 3m8-23l9 0l10 4l0 4l-9 0l-10-3m1 10l9-2l0-5m-9 12l9 1l1 4l-9 4m0 5l9 0l9-5l0-4l-9 0m-1-12l9 2l0 3l-9 3m9-17l9 1l10 3l0 2l-10 0l-9-2m0 7l9-2l0-3m-9 8l10 1l0 3l-9 3m0 4l9-1l9-4l0-3l-9 1m-1-9l10 2l0 2l-9 2m9-9l9 2l0 2l-9 1m0 2l9 0l0 1l-9 3" stroke="#1a1a1a" stroke-width="3" stroke-linecap="butt"/><path d="M495 569h0m19-4h0m10 3h0m9-2h0m-28 4h0m19 4h0m19-4h0m0 5h0m9-5h0m10 4h0m9 1h0m-94 1h0m9 0h0m19 0h0m10 2h0m19-1h0m19 1h0m9 0h0m9 2h0m10-2h0m0 2h0m-123 2h0m9 0h0m19 0h0m10 0h0m19 2h0m10 2h0m9-4h0m10 3h0m9-2h0m9 2h0m9-2h0m10 2h0m0 2h0m9-5h0m0 2h0m0 3h0m-151 2h0m10-1h0m19 0h0m9 0h0m20 0h0m9 1h0m19 3h0m10 1h0m9-3h0m9 1h0m9-3h0m10 1h0m0 3h0m9-1h0m9-3h0m-170 7h0m10-1h0m0 5h0m9 0h0m10-5h0m9 0h0m1 5h0m19-5h0m9 0h0m20 2h0m9 1h0m19 2h0m10 0h0m9-4h0m9 0h0m0 4h0m9-1h0m9-4h0m-189 11h0m9-5h0m10 0h0m0 4h0m9 0h0m20 0h0m9 0h0m19-4h0m1 5h0m19-4h0m9 0h0m20 2h0m9 1h0m19 0h0m9 0h0m-311 7h0m20-1h0m10 1h0m10-1h0m10 1h0m10-1h0m10 1h0m10-2h0m10 2h0m10-1h0m10 1h0m9-2h0m10 0h0m10-3h0m10 3h0m9 0h0m20-1h0m9 0h0m20 1h0m9 1h0m19-4h0m20 2h0m10 1h0m19 1h0m9 0h0m-312 5h0m9-1h0m1 2h0m9 0h0m10-4h0m0 3h0m10 1h0m10-2h0m10 2h0m10-2h0m10 1h0m10-1h0m10 1h0m10-1h0m10 2h0m10-2h0m10 1h0m9-2h0m10 0h0m0 3h0m10 0h0m9-3h0m10-1h0m0 5h0m10 0h0m9-4h0m10 1h0m20 2h0m9 1h0m10-5h0m9 1h0m20 2h0m10 1h0m-303 4h0m0 2h0m9-2h0m0 2h0m10-1h0m10-2h0m10 1h0m0 3h0m10-5h0m10 2h0m0 2h0m9-4h0m10 2h0m1 2h0m9-4h0m10 1h0m0 3h0m10-4h0m10 2h0m0 3h0m10-4h0m10 2h0m10-2h0m9 0h0m0 4h0m10 0h0m10-3h0m10 1h0m19 1h0m10 1h0m9-4h0m10 1h0m20 3h0m19-3h0m10 1h0m-293 5h0m0 2h0m9-2h0m0 1h0m10-1h0m0 3h0m9-5h0m1 5h0m9-5h0m1 3h0m9 1h0m10-4h0m0 3h0m10 1h0m10-4h0m0 3h0m10 1h0m10-4h0m0 3h0m10 1h0m9-4h0m0 3h0m10 2h0m10-4h0m0 3h0m10-4h0m10 1h0m0 4h0m19-2h0m10 1h0m10-3h0m9 0h0m20 3h0m10 1h0m9-4h0m10 2h0m19-2h0m-273 5h0m0 2h0m10-1h0m0 2h0m9 0h0m10-2h0m10 1h0m10-1h0m10 1h0m9-1h0m10 1h0m10-1h0m10 1h0m10-1h0m10 1h0m9 0h0m10 2h0m10-4h0m0 3h0m10 2h0m9-5h0m0 3h0m10 1h0m10-2h0m10 1h0m9-3h0m10 1h0" stroke="#111" stroke-width="8.4"/><path d="M494 568h0m19-4h0m10 3h0m9-2h0m-28 4h0m19 4h0m19-4h0m0 5h0m9-5h0m10 4h0m9 1h0m-94 1h0m9 0h0m19 0h0m10 2h0m19-1h0m19 1h0m9 0h0m9 2h0m10-2h0m0 2h0m-123 2h0m9 0h0m19 0h0m10 0h0m19 2h0m10 2h0m9-4h0m10 3h0m9-2h0m9 2h0m9-2h0m10 2h0m0 2h0m9-5h0m0 2h0m0 3h0m-151 2h0m10-1h0m19 0h0m9 0h0m20 0h0m9 1h0m19 3h0m10 1h0m9-3h0m9 1h0m9-3h0m10 1h0m0 3h0m9-1h0m9-3h0m-170 7h0m10-1h0m0 5h0m9 0h0m10-5h0m9 0h0m1 5h0m19-5h0m9 0h0m20 2h0m9 1h0m19 2h0m10 0h0m9-4h0m9 0h0m0 4h0m9-1h0m9-4h0m-189 11h0m9-5h0m10 0h0m0 4h0m9 0h0m20 0h0m9 0h0m19-4h0m1 5h0m19-4h0m9 0h0m20 2h0m9 1h0m19 0h0m9 0h0m-311 7h0m20-1h0m10 1h0m10-1h0m10 1h0m10-1h0m10 1h0m10-2h0m10 2h0m10-1h0m10 1h0m9-2h0m10 0h0m10-3h0m10 3h0m9 0h0m20-1h0m9 0h0m20 1h0m9 1h0m19-4h0m20 2h0m10 1h0m19 1h0m9 0h0m-312 5h0m9-1h0m1 2h0m9 0h0m10-4h0m0 3h0m10 1h0m10-2h0m10 2h0m10-2h0m10 1h0m10-1h0m10 1h0m10-1h0m10 2h0m10-2h0m10 1h0m9-2h0m10 0h0m0 3h0m10 0h0m9-3h0m10-1h0m0 5h0m10 0h0m9-4h0m10 1h0m20 2h0m9 1h0m10-5h0m9 1h0m20 2h0m10 1h0m-303 4h0m0 2h0m9-2h0m0 2h0m10-1h0m10-2h0m10 1h0m0 3h0m10-5h0m10 2h0m0 2h0m9-4h0m10 2h0m1 2h0m9-4h0m10 1h0m0 3h0m10-4h0m10 2h0m0 3h0m10-4h0m10 2h0m10-2h0m9 0h0m0 4h0m10 0h0m10-3h0m10 1h0m19 1h0m10 1h0m9-4h0m10 1h0m20 3h0m19-3h0m10 1h0m-293 5h0m0 2h0m9-2h0m0 1h0m10-1h0m0 3h0m9-5h0m1 5h0m9-5h0m1 3h0m9 1h0m10-4h0m0 3h0m10 1h0m10-4h0m0 3h0m10 1h0m10-4h0m0 3h0m10 1h0m9-4h0m0 3h0m10 2h0m10-4h0m0 3h0m10-4h0m10 1h0m0 4h0m19-2h0m10 1h0m10-3h0m9 0h0m20 3h0m10 1h0m9-4h0m10 2h0m19-2h0m-273 5h0m0 2h0m10-1h0m0 2h0m9 0h0m10-2h0m10 1h0m10-1h0m10 1h0m9-1h0m10 1h0m10-1h0m10 1h0m10-1h0m10 1h0m9 0h0m10 2h0m10-4h0m0 3h0m10 2h0m9-5h0m0 3h0m10 1h0m10-2h0m10 1h0m9-3h0m10 1h0" stroke="#4a4a4a" stroke-width="3.5"/></g>
<ellipse cx="239.4" cy="306.2" rx="2.4" ry="2.2" fill="#e01010"/><ellipse cx="281.5" cy="299.5" rx="2.4" ry="2.2" fill="#e01010"/><ellipse cx="107.7" cy="313.6" rx="2.4" ry="2.2" fill="#e01010"/><ellipse cx="271.6" cy="287.4" rx="2.4" ry="2.2" fill="#e01010"/><ellipse cx="234.3" cy="302.7" rx="2.4" ry="2.2" fill="#e01010"/><ellipse cx="200.7" cy="304.3" rx="2.4" ry="2.2" fill="#e01010"/>
<ellipse cx="262.5" cy="293" rx="2.4" ry="1.8" fill="#e8e820"/><ellipse cx="161.5" cy="307.4" rx="2.4" ry="1.8" fill="#e8e820"/><ellipse cx="205.7" cy="314.8" rx="2.4" ry="1.8" fill="#e8e820"/><ellipse cx="224.3" cy="294.2" rx="2.4" ry="1.8" fill="#e8e820"/><ellipse cx="215.4" cy="313.8" rx="2.4" ry="1.8" fill="#e8e820"/><ellipse cx="166.5" cy="311.3" rx="2.4" ry="1.8" fill="#e8e820"/>
<polygon points="146,321 218,317 222,339 150,343" fill="#c8e8a0" opacity="0.5"/><ellipse cx="146" cy="321" rx="2.6" ry="2.6" fill="#ecec1e"/><ellipse cx="155" cy="320.5" rx="2.6" ry="2.6" fill="#ecec1e"/><ellipse cx="164" cy="320" rx="2.6" ry="2.6" fill="#ecec1e"/><ellipse cx="173" cy="319.5" rx="2.6" ry="2.6" fill="#ecec1e"/><ellipse cx="182" cy="319" rx="2.6" ry="2.6" fill="#ecec1e"/><ellipse cx="191" cy="318.5" rx="2.6" ry="2.6" fill="#ecec1e"/><ellipse cx="200" cy="318" rx="2.6" ry="2.6" fill="#ecec1e"/><ellipse cx="209" cy="317.5" rx="2.6" ry="2.6" fill="#ecec1e"/><ellipse cx="218" cy="317" rx="2.6" ry="2.6" fill="#ecec1e"/><ellipse cx="146.8" cy="325.4" rx="2.6" ry="2.6" fill="#52c24a"/><ellipse cx="155.8" cy="324.9" rx="2.6" ry="2.6" fill="#52c24a"/><ellipse cx="164.8" cy="324.4" rx="2.6" ry="2.6" fill="#52c24a"/><ellipse cx="173.8" cy="323.9" rx="2.6" ry="2.6" fill="#52c24a"/><ellipse cx="182.8" cy="323.4" rx="2.6" ry="2.6" fill="#52c24a"/><ellipse cx="191.8" cy="322.9" rx="2.6" ry="2.6" fill="#52c24a"/><ellipse cx="200.8" cy="322.4" rx="2.6" ry="2.6" fill="#52c24a"/><ellipse cx="209.8" cy="321.9" rx="2.6" ry="2.6" fill="#52c24a"/><ellipse cx="218.8" cy="321.4" rx="2.6" ry="2.6" fill="#52c24a"/><ellipse cx="147.6" cy="329.8" rx="2.6" ry="2.6" fill="#ecec1e"/><ellipse cx="156.6" cy="329.3" rx="2.6" ry="2.6" fill="#ecec1e"/><ellipse cx="165.6" cy="328.8" rx="2.6" ry="2.6" fill="#ecec1e"/><ellipse cx="174.6" cy="328.3" rx="2.6" ry="2.6" fill="#ecec1e"/><ellipse cx="183.6" cy="327.8" rx="2.6" ry="2.6" fill="#ecec1e"/><ellipse cx="192.6" cy="327.3" rx="2.6" ry="2.6" fill="#ecec1e"/><ellipse cx="201.6" cy="326.8" rx="2.6" ry="2.6" fill="#ecec1e"/><ellipse cx="210.6" cy="326.3" rx="2.6" ry="2.6" fill="#ecec1e"/><ellipse cx="219.6" cy="325.8" rx="2.6" ry="2.6" fill="#ecec1e"/><ellipse cx="148.4" cy="334.2" rx="2.6" ry="2.6" fill="#52c24a"/><ellipse cx="157.4" cy="333.7" rx="2.6" ry="2.6" fill="#52c24a"/><ellipse cx="166.4" cy="333.2" rx="2.6" ry="2.6" fill="#52c24a"/><ellipse cx="175.4" cy="332.7" rx="2.6" ry="2.6" fill="#52c24a"/><ellipse cx="184.4" cy="332.2" rx="2.6" ry="2.6" fill="#52c24a"/><ellipse cx="193.4" cy="331.7" rx="2.6" ry="2.6" fill="#52c24a"/><ellipse cx="202.4" cy="331.2" rx="2.6" ry="2.6" fill="#52c24a"/><ellipse cx="211.4" cy="330.7" rx="2.6" ry="2.6" fill="#52c24a"/><ellipse cx="220.4" cy="330.2" rx="2.6" ry="2.6" fill="#52c24a"/><ellipse cx="149.2" cy="338.6" rx="2.6" ry="2.6" fill="#ecec1e"/><ellipse cx="158.2" cy="338.1" rx="2.6" ry="2.6" fill="#ecec1e"/><ellipse cx="167.2" cy="337.6" rx="2.6" ry="2.6" fill="#ecec1e"/><ellipse cx="176.2" cy="337.1" rx="2.6" ry="2.6" fill="#ecec1e"/><ellipse cx="185.2" cy="336.6" rx="2.6" ry="2.6" fill="#ecec1e"/><ellipse cx="194.2" cy="336.1" rx="2.6" ry="2.6" fill="#ecec1e"/><ellipse cx="203.2" cy="335.6" rx="2.6" ry="2.6" fill="#ecec1e"/><ellipse cx="212.2" cy="335.1" rx="2.6" ry="2.6" fill="#ecec1e"/><ellipse cx="221.2" cy="334.6" rx="2.6" ry="2.6" fill="#ecec1e"/><ellipse cx="150" cy="343" rx="2.6" ry="2.6" fill="#52c24a"/><ellipse cx="159" cy="342.5" rx="2.6" ry="2.6" fill="#52c24a"/><ellipse cx="168" cy="342" rx="2.6" ry="2.6" fill="#52c24a"/><ellipse cx="177" cy="341.5" rx="2.6" ry="2.6" fill="#52c24a"/><ellipse cx="186" cy="341" rx="2.6" ry="2.6" fill="#52c24a"/><ellipse cx="195" cy="340.5" rx="2.6" ry="2.6" fill="#52c24a"/><ellipse cx="204" cy="340" rx="2.6" ry="2.6" fill="#52c24a"/><ellipse cx="213" cy="339.5" rx="2.6" ry="2.6" fill="#52c24a"/><ellipse cx="222" cy="339" rx="2.6" ry="2.6" fill="#52c24a"/>
<polygon points="127,366 169,368 169,392 127,390" fill="#c8e8a0" opacity="0.5"/><ellipse cx="127" cy="366" rx="2.6" ry="2.6" fill="#ecec1e"/><ellipse cx="133" cy="366.3" rx="2.6" ry="2.6" fill="#ecec1e"/><ellipse cx="139" cy="366.6" rx="2.6" ry="2.6" fill="#ecec1e"/><ellipse cx="145" cy="366.9" rx="2.6" ry="2.6" fill="#ecec1e"/><ellipse cx="151" cy="367.1" rx="2.6" ry="2.6" fill="#ecec1e"/><ellipse cx="157" cy="367.4" rx="2.6" ry="2.6" fill="#ecec1e"/><ellipse cx="163" cy="367.7" rx="2.6" ry="2.6" fill="#ecec1e"/><ellipse cx="169" cy="368" rx="2.6" ry="2.6" fill="#ecec1e"/><ellipse cx="127" cy="370" rx="2.6" ry="2.6" fill="#52c24a"/><ellipse cx="133" cy="370.3" rx="2.6" ry="2.6" fill="#52c24a"/><ellipse cx="139" cy="370.6" rx="2.6" ry="2.6" fill="#52c24a"/><ellipse cx="145" cy="370.9" rx="2.6" ry="2.6" fill="#52c24a"/><ellipse cx="151" cy="371.1" rx="2.6" ry="2.6" fill="#52c24a"/><ellipse cx="157" cy="371.4" rx="2.6" ry="2.6" fill="#52c24a"/><ellipse cx="163" cy="371.7" rx="2.6" ry="2.6" fill="#52c24a"/><ellipse cx="169" cy="372" rx="2.6" ry="2.6" fill="#52c24a"/><ellipse cx="127" cy="374" rx="2.6" ry="2.6" fill="#ecec1e"/><ellipse cx="133" cy="374.3" rx="2.6" ry="2.6" fill="#ecec1e"/><ellipse cx="139" cy="374.6" rx="2.6" ry="2.6" fill="#ecec1e"/><ellipse cx="145" cy="374.9" rx="2.6" ry="2.6" fill="#ecec1e"/><ellipse cx="151" cy="375.1" rx="2.6" ry="2.6" fill="#ecec1e"/><ellipse cx="157" cy="375.4" rx="2.6" ry="2.6" fill="#ecec1e"/><ellipse cx="163" cy="375.7" rx="2.6" ry="2.6" fill="#ecec1e"/><ellipse cx="169" cy="376" rx="2.6" ry="2.6" fill="#ecec1e"/><ellipse cx="127" cy="378" rx="2.6" ry="2.6" fill="#52c24a"/><ellipse cx="133" cy="378.3" rx="2.6" ry="2.6" fill="#52c24a"/><ellipse cx="139" cy="378.6" rx="2.6" ry="2.6" fill="#52c24a"/><ellipse cx="145" cy="378.9" rx="2.6" ry="2.6" fill="#52c24a"/><ellipse cx="151" cy="379.1" rx="2.6" ry="2.6" fill="#52c24a"/><ellipse cx="157" cy="379.4" rx="2.6" ry="2.6" fill="#52c24a"/><ellipse cx="163" cy="379.7" rx="2.6" ry="2.6" fill="#52c24a"/><ellipse cx="169" cy="380" rx="2.6" ry="2.6" fill="#52c24a"/><ellipse cx="127" cy="382" rx="2.6" ry="2.6" fill="#ecec1e"/><ellipse cx="133" cy="382.3" rx="2.6" ry="2.6" fill="#ecec1e"/><ellipse cx="139" cy="382.6" rx="2.6" ry="2.6" fill="#ecec1e"/><ellipse cx="145" cy="382.9" rx="2.6" ry="2.6" fill="#ecec1e"/><ellipse cx="151" cy="383.1" rx="2.6" ry="2.6" fill="#ecec1e"/><ellipse cx="157" cy="383.4" rx="2.6" ry="2.6" fill="#ecec1e"/><ellipse cx="163" cy="383.7" rx="2.6" ry="2.6" fill="#ecec1e"/><ellipse cx="169" cy="384" rx="2.6" ry="2.6" fill="#ecec1e"/><ellipse cx="127" cy="386" rx="2.6" ry="2.6" fill="#52c24a"/><ellipse cx="133" cy="386.3" rx="2.6" ry="2.6" fill="#52c24a"/><ellipse cx="139" cy="386.6" rx="2.6" ry="2.6" fill="#52c24a"/><ellipse cx="145" cy="386.9" rx="2.6" ry="2.6" fill="#52c24a"/><ellipse cx="151" cy="387.1" rx="2.6" ry="2.6" fill="#52c24a"/><ellipse cx="157" cy="387.4" rx="2.6" ry="2.6" fill="#52c24a"/><ellipse cx="163" cy="387.7" rx="2.6" ry="2.6" fill="#52c24a"/><ellipse cx="169" cy="388" rx="2.6" ry="2.6" fill="#52c24a"/><ellipse cx="127" cy="390" rx="2.6" ry="2.6" fill="#ecec1e"/><ellipse cx="133" cy="390.3" rx="2.6" ry="2.6" fill="#ecec1e"/><ellipse cx="139" cy="390.6" rx="2.6" ry="2.6" fill="#ecec1e"/><ellipse cx="145" cy="390.9" rx="2.6" ry="2.6" fill="#ecec1e"/><ellipse cx="151" cy="391.1" rx="2.6" ry="2.6" fill="#ecec1e"/><ellipse cx="157" cy="391.4" rx="2.6" ry="2.6" fill="#ecec1e"/><ellipse cx="163" cy="391.7" rx="2.6" ry="2.6" fill="#ecec1e"/><ellipse cx="169" cy="392" rx="2.6" ry="2.6" fill="#ecec1e"/>
<polygon points="186,371 272,381 272,395 186,385" fill="#c0d8e8" opacity="0.5"/><ellipse cx="186" cy="371" rx="2.6" ry="2.6" fill="#52c24a"/><ellipse cx="191.7" cy="371.7" rx="2.6" ry="2.6" fill="#52c24a"/><ellipse cx="197.5" cy="372.3" rx="2.6" ry="2.6" fill="#52c24a"/><ellipse cx="203.2" cy="373" rx="2.6" ry="2.6" fill="#52c24a"/><ellipse cx="208.9" cy="373.7" rx="2.6" ry="2.6" fill="#52c24a"/><ellipse cx="214.7" cy="374.3" rx="2.6" ry="2.6" fill="#52c24a"/><ellipse cx="220.4" cy="375" rx="2.6" ry="2.6" fill="#52c24a"/><ellipse cx="226.1" cy="375.7" rx="2.6" ry="2.6" fill="#52c24a"/><ellipse cx="231.9" cy="376.3" rx="2.6" ry="2.6" fill="#52c24a"/><ellipse cx="237.6" cy="377" rx="2.6" ry="2.6" fill="#52c24a"/><ellipse cx="243.3" cy="377.7" rx="2.6" ry="2.6" fill="#52c24a"/><ellipse cx="249.1" cy="378.3" rx="2.6" ry="2.6" fill="#52c24a"/><ellipse cx="254.8" cy="379" rx="2.6" ry="2.6" fill="#52c24a"/><ellipse cx="260.5" cy="379.7" rx="2.6" ry="2.6" fill="#52c24a"/><ellipse cx="266.3" cy="380.3" rx="2.6" ry="2.6" fill="#52c24a"/><ellipse cx="272" cy="381" rx="2.6" ry="2.6" fill="#52c24a"/><ellipse cx="186" cy="375.7" rx="2.6" ry="2.6" fill="#ecec1e"/><ellipse cx="191.7" cy="376.3" rx="2.6" ry="2.6" fill="#ecec1e"/><ellipse cx="197.5" cy="377" rx="2.6" ry="2.6" fill="#ecec1e"/><ellipse cx="203.2" cy="377.7" rx="2.6" ry="2.6" fill="#ecec1e"/><ellipse cx="208.9" cy="378.3" rx="2.6" ry="2.6" fill="#ecec1e"/><ellipse cx="214.7" cy="379" rx="2.6" ry="2.6" fill="#ecec1e"/><ellipse cx="220.4" cy="379.7" rx="2.6" ry="2.6" fill="#ecec1e"/><ellipse cx="226.1" cy="380.3" rx="2.6" ry="2.6" fill="#ecec1e"/><ellipse cx="231.9" cy="381" rx="2.6" ry="2.6" fill="#ecec1e"/><ellipse cx="237.6" cy="381.7" rx="2.6" ry="2.6" fill="#ecec1e"/><ellipse cx="243.3" cy="382.3" rx="2.6" ry="2.6" fill="#ecec1e"/><ellipse cx="249.1" cy="383" rx="2.6" ry="2.6" fill="#ecec1e"/><ellipse cx="254.8" cy="383.7" rx="2.6" ry="2.6" fill="#ecec1e"/><ellipse cx="260.5" cy="384.3" rx="2.6" ry="2.6" fill="#ecec1e"/><ellipse cx="266.3" cy="385" rx="2.6" ry="2.6" fill="#ecec1e"/><ellipse cx="272" cy="385.7" rx="2.6" ry="2.6" fill="#ecec1e"/><ellipse cx="186" cy="380.3" rx="2.6" ry="2.6" fill="#52c24a"/><ellipse cx="191.7" cy="381" rx="2.6" ry="2.6" fill="#52c24a"/><ellipse cx="197.5" cy="381.7" rx="2.6" ry="2.6" fill="#52c24a"/><ellipse cx="203.2" cy="382.3" rx="2.6" ry="2.6" fill="#52c24a"/><ellipse cx="208.9" cy="383" rx="2.6" ry="2.6" fill="#52c24a"/><ellipse cx="214.7" cy="383.7" rx="2.6" ry="2.6" fill="#52c24a"/><ellipse cx="220.4" cy="384.3" rx="2.6" ry="2.6" fill="#52c24a"/><ellipse cx="226.1" cy="385" rx="2.6" ry="2.6" fill="#52c24a"/><ellipse cx="231.9" cy="385.7" rx="2.6" ry="2.6" fill="#52c24a"/><ellipse cx="237.6" cy="386.3" rx="2.6" ry="2.6" fill="#52c24a"/><ellipse cx="243.3" cy="387" rx="2.6" ry="2.6" fill="#52c24a"/><ellipse cx="249.1" cy="387.7" rx="2.6" ry="2.6" fill="#52c24a"/><ellipse cx="254.8" cy="388.3" rx="2.6" ry="2.6" fill="#52c24a"/><ellipse cx="260.5" cy="389" rx="2.6" ry="2.6" fill="#52c24a"/><ellipse cx="266.3" cy="389.7" rx="2.6" ry="2.6" fill="#52c24a"/><ellipse cx="272" cy="390.3" rx="2.6" ry="2.6" fill="#52c24a"/><ellipse cx="186" cy="385" rx="2.6" ry="2.6" fill="#52c24a"/><ellipse cx="191.7" cy="385.7" rx="2.6" ry="2.6" fill="#52c24a"/><ellipse cx="197.5" cy="386.3" rx="2.6" ry="2.6" fill="#52c24a"/><ellipse cx="203.2" cy="387" rx="2.6" ry="2.6" fill="#52c24a"/><ellipse cx="208.9" cy="387.7" rx="2.6" ry="2.6" fill="#52c24a"/><ellipse cx="214.7" cy="388.3" rx="2.6" ry="2.6" fill="#52c24a"/><ellipse cx="220.4" cy="389" rx="2.6" ry="2.6" fill="#52c24a"/><ellipse cx="226.1" cy="389.7" rx="2.6" ry="2.6" fill="#52c24a"/><ellipse cx="231.9" cy="390.3" rx="2.6" ry="2.6" fill="#52c24a"/><ellipse cx="237.6" cy="391" rx="2.6" ry="2.6" fill="#52c24a"/><ellipse cx="243.3" cy="391.7" rx="2.6" ry="2.6" fill="#52c24a"/><ellipse cx="249.1" cy="392.3" rx="2.6" ry="2.6" fill="#52c24a"/><ellipse cx="254.8" cy="393" rx="2.6" ry="2.6" fill="#52c24a"/><ellipse cx="260.5" cy="393.7" rx="2.6" ry="2.6" fill="#52c24a"/><ellipse cx="266.3" cy="394.3" rx="2.6" ry="2.6" fill="#52c24a"/><ellipse cx="272" cy="395" rx="2.6" ry="2.6" fill="#52c24a"/>
<polygon points="219,312 295,350 289,360 213,322" fill="#c0c8f0" opacity="0.6"/><ellipse cx="219" cy="312" rx="2.6" ry="2.6" fill="#52c24a"/><ellipse cx="224.4" cy="314.7" rx="2.6" ry="2.6" fill="#52c24a"/><ellipse cx="229.9" cy="317.4" rx="2.6" ry="2.6" fill="#52c24a"/><ellipse cx="235.3" cy="320.1" rx="2.6" ry="2.6" fill="#52c24a"/><ellipse cx="240.7" cy="322.9" rx="2.6" ry="2.6" fill="#52c24a"/><ellipse cx="246.1" cy="325.6" rx="2.6" ry="2.6" fill="#52c24a"/><ellipse cx="251.6" cy="328.3" rx="2.6" ry="2.6" fill="#52c24a"/><ellipse cx="257" cy="331" rx="2.6" ry="2.6" fill="#52c24a"/><ellipse cx="262.4" cy="333.7" rx="2.6" ry="2.6" fill="#52c24a"/><ellipse cx="267.9" cy="336.4" rx="2.6" ry="2.6" fill="#52c24a"/><ellipse cx="273.3" cy="339.1" rx="2.6" ry="2.6" fill="#52c24a"/><ellipse cx="278.7" cy="341.9" rx="2.6" ry="2.6" fill="#52c24a"/><ellipse cx="284.1" cy="344.6" rx="2.6" ry="2.6" fill="#52c24a"/><ellipse cx="289.6" cy="347.3" rx="2.6" ry="2.6" fill="#52c24a"/><ellipse cx="295" cy="350" rx="2.6" ry="2.6" fill="#52c24a"/><ellipse cx="216" cy="317" rx="2.6" ry="2.6" fill="#ecec1e"/><ellipse cx="221.4" cy="319.7" rx="2.6" ry="2.6" fill="#ecec1e"/><ellipse cx="226.9" cy="322.4" rx="2.6" ry="2.6" fill="#ecec1e"/><ellipse cx="232.3" cy="325.1" rx="2.6" ry="2.6" fill="#ecec1e"/><ellipse cx="237.7" cy="327.9" rx="2.6" ry="2.6" fill="#ecec1e"/><ellipse cx="243.1" cy="330.6" rx="2.6" ry="2.6" fill="#ecec1e"/><ellipse cx="248.6" cy="333.3" rx="2.6" ry="2.6" fill="#ecec1e"/><ellipse cx="254" cy="336" rx="2.6" ry="2.6" fill="#ecec1e"/><ellipse cx="259.4" cy="338.7" rx="2.6" ry="2.6" fill="#ecec1e"/><ellipse cx="264.9" cy="341.4" rx="2.6" ry="2.6" fill="#ecec1e"/><ellipse cx="270.3" cy="344.1" rx="2.6" ry="2.6" fill="#ecec1e"/><ellipse cx="275.7" cy="346.9" rx="2.6" ry="2.6" fill="#ecec1e"/><ellipse cx="281.1" cy="349.6" rx="2.6" ry="2.6" fill="#ecec1e"/><ellipse cx="286.6" cy="352.3" rx="2.6" ry="2.6" fill="#ecec1e"/><ellipse cx="292" cy="355" rx="2.6" ry="2.6" fill="#ecec1e"/><ellipse cx="213" cy="322" rx="2.6" ry="2.6" fill="#52c24a"/><ellipse cx="218.4" cy="324.7" rx="2.6" ry="2.6" fill="#52c24a"/><ellipse cx="223.9" cy="327.4" rx="2.6" ry="2.6" fill="#52c24a"/><ellipse cx="229.3" cy="330.1" rx="2.6" ry="2.6" fill="#52c24a"/><ellipse cx="234.7" cy="332.9" rx="2.6" ry="2.6" fill="#52c24a"/><ellipse cx="240.1" cy="335.6" rx="2.6" ry="2.6" fill="#52c24a"/><ellipse cx="245.6" cy="338.3" rx="2.6" ry="2.6" fill="#52c24a"/><ellipse cx="251" cy="341" rx="2.6" ry="2.6" fill="#52c24a"/><ellipse cx="256.4" cy="343.7" rx="2.6" ry="2.6" fill="#52c24a"/><ellipse cx="261.9" cy="346.4" rx="2.6" ry="2.6" fill="#52c24a"/><ellipse cx="267.3" cy="349.1" rx="2.6" ry="2.6" fill="#52c24a"/><ellipse cx="272.7" cy="351.9" rx="2.6" ry="2.6" fill="#52c24a"/><ellipse cx="278.1" cy="354.6" rx="2.6" ry="2.6" fill="#52c24a"/><ellipse cx="283.6" cy="357.3" rx="2.6" ry="2.6" fill="#52c24a"/><ellipse cx="289" cy="360" rx="2.6" ry="2.6" fill="#52c24a"/>
<defs><radialGradient id="gy" cx="35%" cy="35%" r="65%"><stop offset="0" stop-color="#ffff90"/><stop offset=".55" stop-color="#f0f000"/><stop offset="1" stop-color="#9a9a00"/></radialGradient><radialGradient id="gr" cx="35%" cy="35%" r="65%"><stop offset="0" stop-color="#ff8080"/><stop offset=".55" stop-color="#e00000"/><stop offset="1" stop-color="#800000"/></radialGradient><radialGradient id="gg" cx="35%" cy="35%" r="65%"><stop offset="0" stop-color="#90f090"/><stop offset=".55" stop-color="#40c040"/><stop offset="1" stop-color="#207020"/></radialGradient></defs><ellipse cx="59" cy="79.6" rx="3.3" ry="2.3" fill="#8c8a28"/><ellipse cx="59" cy="106" rx="3.3" ry="2.3" fill="#40e4f2"/><circle cx="31" cy="328.6" r="4.8" fill="url(#gy)"/><circle cx="31" cy="350.2" r="4.8" fill="url(#gr)"/><circle cx="372.4" cy="327" r="4.5" fill="url(#gr)"/><path d="M17 369.5H53M17 374H60" stroke="#b4a8e8" stroke-width="1"/><circle cx="16.9" cy="373.8" r="2.2" fill="url(#gy)"/><circle cx="24.2" cy="373.8" r="2.8" fill="url(#gg)"/><circle cx="31.2" cy="373.8" r="2.2" fill="url(#gy)"/><circle cx="38.5" cy="373.8" r="2.8" fill="url(#gg)"/><circle cx="45.6" cy="373.8" r="2.2" fill="url(#gy)"/><circle cx="53" cy="373.8" r="2.8" fill="url(#gg)"/><circle cx="60.1" cy="373.8" r="2.2" fill="url(#gy)"/><circle cx="16.6" cy="369.2" r="2.8" fill="url(#gg)"/><circle cx="23.9" cy="369.2" r="2.2" fill="url(#gy)"/><circle cx="31.2" cy="369.2" r="2.8" fill="url(#gg)"/><circle cx="38.4" cy="369.2" r="2.2" fill="url(#gy)"/><circle cx="45.6" cy="369.2" r="2.8" fill="url(#gg)"/><circle cx="53" cy="369.2" r="2.2" fill="url(#gy)"/><path d="M361.1 356.5L369 350L372.6 356.9L364.7 363.7L361.1 356.5M372.6 356.9L380.5 350.4L384.3 357.2L376.2 364L372.6 356.9M384.3 357.2L392 350.8L396 357.6L388 364.4L384.3 357.2M396 357.6L403.8 351.1L407.4 358L399.5 364.8L396 357.6" stroke="#9fe8c8" stroke-width="1.1" fill="none"/><circle cx="361.1" cy="356.5" r="2.9" fill="url(#gg)"/><circle cx="372.6" cy="356.9" r="2.9" fill="url(#gg)"/><circle cx="384.3" cy="357.2" r="2.9" fill="url(#gg)"/><circle cx="396" cy="357.6" r="2.9" fill="url(#gg)"/><circle cx="407.4" cy="358" r="2.9" fill="url(#gg)"/><circle cx="369" cy="350" r="2.2" fill="url(#gy)"/><circle cx="380.5" cy="350.4" r="2.2" fill="url(#gy)"/><circle cx="392" cy="350.8" r="2.2" fill="url(#gy)"/><circle cx="403.8" cy="351.1" r="2.2" fill="url(#gy)"/><circle cx="364.7" cy="363.7" r="2.2" fill="url(#gy)"/><circle cx="376.2" cy="364" r="2.2" fill="url(#gy)"/><circle cx="388" cy="364.4" r="2.2" fill="url(#gy)"/><circle cx="399.5" cy="364.8" r="2.2" fill="url(#gy)"/><g stroke="#444" stroke-width="1" fill="none"><path d="M384.8 112.7H383.4V142.1H384.8M422 113.3H423.4V142.7H422"/><path d="M376.9 135.6L390.5 128.6L398.7 133.3L409.3 133.3L418.1 128.6L432.2 136.2"/><path d="M398.7 133.3L395.8 142.7L402.6 146.6M409.3 133.3L411.6 142.7L407.2 146.6"/><path d="M402.8 152L399.3 154.8M406.8 152L409.9 154.8"/></g><g fill="#333" font-size="7"><text x="401.4" y="124.2" font-size="7.8">Cl</text><text x="410.6" y="120" font-size="5">−</text><text x="425.6" y="146.8">n</text><text x="402.3" y="152" font-size="6.6">N</text><text x="403.8" y="144.6" font-size="4">+</text><text x="386.6" y="158.2">H<tspan font-size="4.5" dy="1">3</tspan><tspan dy="-1">C</tspan></text><text x="408.8" y="158.2">CH<tspan font-size="4.5" dy="1">3</tspan></text></g>
<polygon fill="#ED7D31" points="307,111 357,111 357,103.5 373.2,119.2 357,135.4 357,127.4 307,127.4"/>
<polygon fill="#ED7D31" points="647,110.7 688.3,110.7 688.3,102 709.8,118.6 688.3,135.1 688.3,126.8 647,126.8"/>
<polygon fill="#ED7D31" points="864.4,209.2 883,209.2 883,251 891.6,251 873.6,272.4 855.6,251 864.4,251"/>
<polygon fill="#ED7D31" points="647.2,343.2 663.5,327.8 663.5,335.5 711.9,335.5 711.9,351 663.5,351 663.5,358.7"/>
<polygon fill="#ED7D31" points="289.2,339.7 307.5,321.6 307.5,330.5 363.3,330.5 363.3,348 307.5,348 307.5,357.1"/>
<text x="70" y="82.5" font-size="9.86" textLength="19.4" lengthAdjust="spacingAndGlyphs" fill="#000" font-weight="bold" >-OH</text>
<text x="70" y="109.7" font-size="10.58" textLength="34" lengthAdjust="spacingAndGlyphs" fill="#000" font-weight="bold" >-COOH</text>
<text x="137" y="198" font-size="14.35" textLength="109" lengthAdjust="spacingAndGlyphs" fill="#000" font-weight="bold" >Graphene Oxide</text>
<text x="248" y="198" font-size="14.35" textLength="4" lengthAdjust="spacingAndGlyphs" fill="#000" font-weight="normal" >(</text>
<text x="260.8" y="198" font-size="14.35" textLength="20.9" lengthAdjust="spacingAndGlyphs" fill="#000" font-weight="bold" >GO</text>
<text x="285.5" y="198" font-size="14.35" textLength="4" lengthAdjust="spacingAndGlyphs" fill="#000" font-weight="normal" >)</text>
<text x="313" y="99.2" font-size="13.48" textLength="49.4" lengthAdjust="spacingAndGlyphs" fill="#000" font-weight="bold" >Stirring</text>
<text x="312.5" y="122.7" font-size="12.46" textLength="40.5" lengthAdjust="spacingAndGlyphs" fill="#FFFF00" font-weight="bold" >Step 1</text>
<text x="317" y="150.6" font-size="13.04" textLength="38.7" lengthAdjust="spacingAndGlyphs" fill="#000" font-weight="bold" >PDDA</text>
<text x="388.3" y="107.4" font-size="9.71" textLength="29.6" lengthAdjust="spacingAndGlyphs" fill="#000" font-weight="bold" >PDDA</text>
<text x="499.5" y="197.9" font-size="14.06" textLength="66.1" lengthAdjust="spacingAndGlyphs" fill="#000" font-weight="bold" >GO-PDDA</text>
<text x="651" y="98.5" font-size="13.04" textLength="49.2" lengthAdjust="spacingAndGlyphs" fill="#000" font-weight="bold" >Stirring</text>
<text x="653.6" y="122.4" font-size="12.9" textLength="41.7" lengthAdjust="spacingAndGlyphs" fill="#FFFF00" font-weight="bold" >Step 2</text>
<text x="628.7" y="147.3" font-size="12.9" font-weight="bold" textLength="89.8" lengthAdjust="spacingAndGlyphs">K<tspan font-size="8" dy="2.5">2</tspan><tspan dy="-2.5">SnO</tspan><tspan font-size="8" dy="2.5">3</tspan><tspan dy="-2.5">·3H2O</tspan></text>
<text x="731.8" y="111.8" font-size="15.94" font-weight="bold">SnO<tspan font-size="10">3</tspan><tspan font-size="10" dy="-6">2-</tspan></text>
<text x="817" y="192.3" font-size="13.62" textLength="100" lengthAdjust="spacingAndGlyphs" fill="#000" font-weight="bold" >GO-PDDA-SnO</text>
<text x="917.5" y="192.3" font-size="9" font-weight="bold">3</text><text x="922.8" y="187.8" font-size="8" font-weight="bold" textLength="7.2" lengthAdjust="spacingAndGlyphs">2-</text>
<text x="797.6" y="235.6" font-size="13.48" textLength="49" lengthAdjust="spacingAndGlyphs" fill="#000" font-weight="bold" >Stirring</text>
<text x="896" y="235.6" font-size="13.48" textLength="72" lengthAdjust="spacingAndGlyphs" fill="#000" font-weight="bold" >L-Cysteine</text>
<text x="0" y="0" font-size="12.46" font-weight="bold" fill="#FFFF00" textLength="41" lengthAdjust="spacingAndGlyphs" transform="translate(878,256) rotate(-90)">Step 3</text>
<text x="639.1" y="327.1" font-size="13.48" textLength="90.3" lengthAdjust="spacingAndGlyphs" fill="#000" font-weight="bold" >Hydrothermal</text>
<text x="663.5" y="348.7" font-size="13.48" textLength="42.7" lengthAdjust="spacingAndGlyphs" fill="#FFFF00" font-weight="bold" >Step 4</text>
<text x="735.3" y="319.8" font-size="14.35" font-weight="bold">SnO<tspan font-size="9">3</tspan><tspan font-size="9" dy="-5.5">2-</tspan></text>
<text x="718.3" y="387.3" font-size="13.62" textLength="70.7" lengthAdjust="spacingAndGlyphs" fill="#000" font-weight="bold" >L-Cysteine</text>
<text x="312" y="322.2" font-size="13.776" textLength="33.2" lengthAdjust="spacingAndGlyphs" fill="#000" font-weight="bold" >heat</text>
<text x="310.3" y="345.1" font-size="12.75" textLength="42.1" lengthAdjust="spacingAndGlyphs" fill="#FFFF00" font-weight="bold" >Step 5</text>
<text x="382.2" y="331" font-size="9.71" textLength="6.6" lengthAdjust="spacingAndGlyphs" fill="#000" font-weight="bold" >N</text>
<text x="342" y="386.5" font-size="11.45" font-weight="bold">SnS<tspan font-size="9">2</tspan></text>
<text x="373" y="386.5" font-size="11.45" textLength="48.5" lengthAdjust="spacingAndGlyphs" fill="#000" font-weight="bold" >nanoflake</text>
<text x="44.7" y="332.5" font-size="9.42" textLength="5.3" lengthAdjust="spacingAndGlyphs" fill="#000" font-weight="bold" >S</text>
<text x="44.7" y="354.1" font-size="10.0" textLength="7.3" lengthAdjust="spacingAndGlyphs" fill="#000" font-weight="bold" >N</text>
<text x="3.9" y="391.4" font-size="10.29" textLength="71.1" lengthAdjust="spacingAndGlyphs" fill="#000" font-weight="bold" >SnS nanoflake</text>
<text x="160.7" y="445.3" font-size="16.96" textLength="68" lengthAdjust="spacingAndGlyphs" fill="#000" font-weight="bold" >SnS/rGO</text>
<text x="499.4" y="445.2" font-size="16.52" font-weight="bold">SnS<tspan font-size="12">2</tspan>/GO</text>
</svg></body></html>
